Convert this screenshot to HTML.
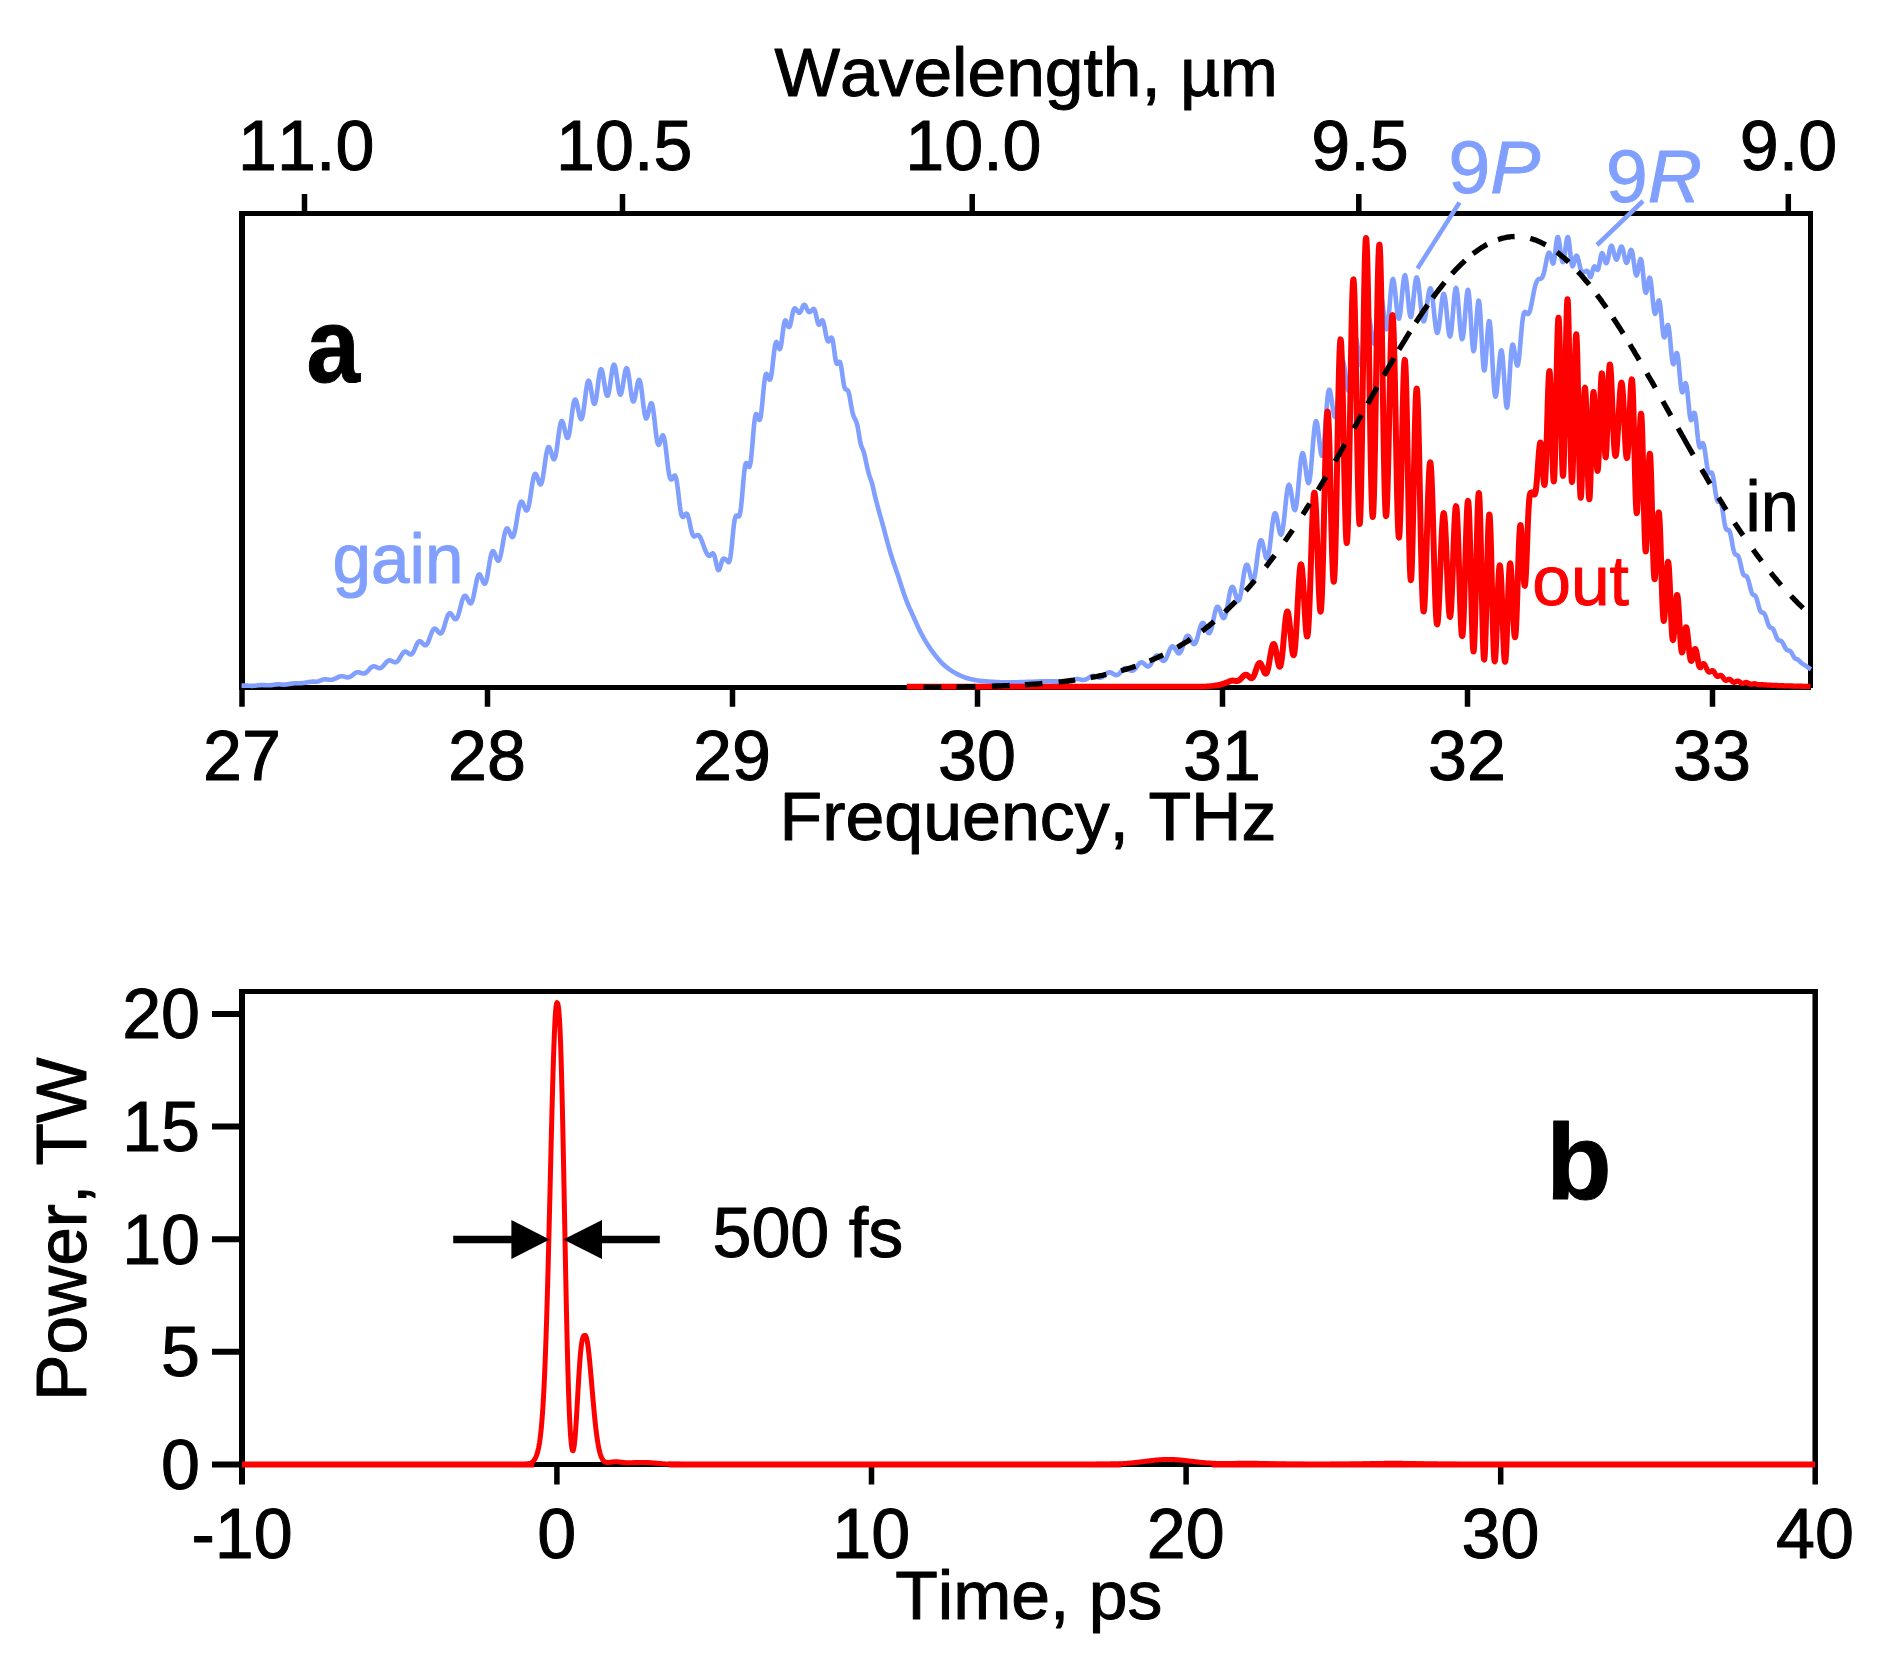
<!DOCTYPE html>
<html lang="en"><head><meta charset="utf-8"><title>CO2 amplifier spectrum and pulse</title>
<style>html,body{margin:0;padding:0;background:#fff;}svg{display:block;}text{font-family:"Liberation Sans",sans-serif;fill:currentColor;stroke:currentColor;stroke-width:1px;stroke-linejoin:round;font-kerning:none;color:#000;}</style></head><body>
<svg width="1896" height="1675" viewBox="0 0 1896 1675">
<rect width="1896" height="1675" fill="#fff"/>
<g id="top">
<g stroke="#000" fill="none" stroke-linecap="butt">
<path d="M239,213.5 H1813 M239,687.5 H1811" stroke-width="5"/>
<path d="M242,211 V690" stroke-width="6"/>
<path d="M1810.5,211 V688" stroke-width="5"/>
<path d="M242.0,687.5 V706.8 M487.5,687.5 V706.8 M732.5,687.5 V706.8 M977.5,687.5 V706.8 M1222.5,687.5 V706.8 M1467.5,687.5 V706.8 M1712.5,687.5 V706.8 M304.5,213.5 V193.9 M622.5,213.5 V193.9 M972.2,213.5 V193.9 M1358.8,213.5 V193.9 M1788.3,213.5 V193.9" stroke-width="5.5"/>
</g>
<text transform="translate(242.0,779.5)" font-size="70" text-anchor="middle">27</text>
<text transform="translate(487.0,779.5)" font-size="70" text-anchor="middle">28</text>
<text transform="translate(732.0,779.5)" font-size="70" text-anchor="middle">29</text>
<text transform="translate(977.0,779.5)" font-size="70" text-anchor="middle">30</text>
<text transform="translate(1222.0,779.5)" font-size="70" text-anchor="middle">31</text>
<text transform="translate(1467.0,779.5)" font-size="70" text-anchor="middle">32</text>
<text transform="translate(1712.0,779.5)" font-size="70" text-anchor="middle">33</text>
<text transform="translate(306.2,169.5)" font-size="70" text-anchor="middle">11.0</text>
<text transform="translate(624.2,169.5)" font-size="70" text-anchor="middle">10.5</text>
<text transform="translate(973.4,169.5)" font-size="70" text-anchor="middle">10.0</text>
<text transform="translate(1360.0,169.5)" font-size="70" text-anchor="middle">9.5</text>
<text transform="translate(1788.5,169.5)" font-size="70" text-anchor="middle">9.0</text>
<text transform="translate(1026.2,95.7) scale(1.022,1)" font-size="68" text-anchor="middle">Wavelength, µm</text>
<text transform="translate(1028.0,839.6) scale(1.020,1)" font-size="68.5" text-anchor="middle">Frequency, THz</text>
<path d="M241.5,685.7 L242.0,685.7 L242.5,685.6 L243.0,685.6 L243.5,685.6 L244.0,685.6 L244.5,685.6 L245.0,685.6 L245.5,685.6 L246.0,685.6 L246.5,685.6 L247.0,685.6 L247.5,685.6 L248.0,685.7 L248.5,685.7 L249.0,685.7 L249.5,685.8 L250.0,685.8 L250.5,685.8 L251.0,685.8 L251.5,685.9 L252.0,685.9 L252.5,685.9 L253.0,685.8 L253.5,685.8 L254.0,685.8 L254.5,685.8 L255.0,685.7 L255.5,685.7 L256.0,685.6 L256.5,685.5 L257.0,685.5 L257.5,685.4 L258.0,685.3 L258.5,685.3 L259.0,685.2 L259.5,685.2 L260.0,685.1 L260.5,685.1 L261.0,685.1 L261.5,685.1 L262.0,685.0 L262.5,685.0 L263.0,685.1 L263.5,685.1 L264.0,685.1 L264.5,685.1 L265.0,685.1 L265.5,685.2 L266.0,685.2 L266.5,685.2 L267.0,685.3 L267.5,685.3 L268.0,685.3 L268.5,685.3 L269.0,685.3 L269.5,685.3 L270.0,685.2 L270.5,685.2 L271.0,685.2 L271.5,685.1 L272.0,685.1 L272.5,685.0 L273.0,684.9 L273.5,684.8 L274.0,684.8 L274.5,684.7 L275.0,684.6 L275.5,684.5 L276.0,684.5 L276.5,684.4 L277.0,684.4 L277.5,684.3 L278.0,684.3 L278.5,684.3 L279.0,684.3 L279.5,684.3 L280.0,684.3 L280.5,684.4 L281.0,684.5 L281.5,684.5 L282.0,684.5 L282.5,684.6 L283.0,684.6 L283.5,684.6 L284.0,684.6 L284.5,684.6 L285.0,684.6 L285.5,684.5 L286.0,684.5 L286.5,684.4 L287.0,684.4 L287.5,684.3 L288.0,684.3 L288.5,684.2 L289.0,684.1 L289.5,684.0 L290.0,683.9 L290.5,683.9 L291.0,683.8 L291.5,683.7 L292.0,683.6 L292.5,683.5 L293.0,683.5 L293.5,683.4 L294.0,683.3 L294.5,683.3 L295.0,683.3 L295.5,683.2 L296.0,683.2 L296.5,683.2 L297.0,683.2 L297.5,683.2 L298.0,683.2 L298.5,683.2 L299.0,683.2 L299.5,683.2 L300.0,683.2 L300.5,683.2 L301.0,683.2 L301.5,683.2 L302.0,683.1 L302.5,683.1 L303.0,683.0 L303.5,683.0 L304.0,682.9 L304.5,682.8 L305.0,682.8 L305.5,682.7 L306.0,682.6 L306.5,682.5 L307.0,682.4 L307.5,682.3 L308.0,682.2 L308.5,682.1 L309.0,682.0 L309.5,681.9 L310.0,681.9 L310.5,681.8 L311.0,681.8 L311.5,681.7 L312.0,681.7 L312.5,681.6 L313.0,681.6 L313.5,681.6 L314.0,681.6 L314.5,681.6 L315.0,681.9 L315.5,681.9 L316.0,681.8 L316.5,681.7 L317.0,681.7 L317.5,681.6 L318.0,681.4 L318.5,681.3 L319.0,681.1 L319.5,680.9 L320.0,680.7 L320.5,680.5 L321.0,680.3 L321.5,680.1 L322.0,679.9 L322.5,679.7 L323.0,679.6 L323.5,679.5 L324.0,679.4 L324.5,679.3 L325.0,679.3 L325.5,679.3 L326.0,679.3 L326.5,679.4 L327.0,679.4 L327.5,679.5 L328.0,679.6 L328.5,679.7 L329.0,679.7 L329.5,679.8 L330.0,679.8 L330.5,679.8 L331.0,679.8 L331.5,679.8 L332.0,679.7 L332.5,679.6 L333.0,679.5 L333.5,679.3 L334.0,679.1 L334.5,678.9 L335.0,678.7 L335.5,678.5 L336.0,678.2 L336.5,678.0 L337.0,677.7 L337.5,677.5 L338.0,677.2 L338.5,677.0 L339.0,676.8 L339.5,676.7 L340.0,676.5 L340.5,676.4 L341.0,676.3 L341.5,676.3 L342.0,676.3 L342.5,676.3 L343.0,676.4 L343.5,676.5 L344.0,676.6 L344.5,676.7 L345.0,676.9 L345.5,677.0 L346.0,677.1 L346.5,677.3 L347.0,677.3 L347.5,677.4 L348.0,677.4 L348.5,677.3 L349.0,677.2 L349.5,677.1 L350.0,676.9 L350.5,676.6 L351.0,676.3 L351.5,676.0 L352.0,675.6 L352.5,675.2 L353.0,674.8 L353.5,674.4 L354.0,673.9 L354.5,673.6 L355.0,673.2 L355.5,672.9 L356.0,672.7 L356.5,672.5 L357.0,672.3 L357.5,672.2 L358.0,672.2 L358.5,672.2 L359.0,672.3 L359.5,672.4 L360.0,672.6 L360.5,672.8 L361.0,672.9 L361.5,673.1 L362.0,673.3 L362.5,673.4 L363.0,673.5 L363.5,673.5 L364.0,673.5 L364.5,673.4 L365.0,673.2 L365.5,673.0 L366.0,672.7 L366.5,672.3 L367.0,671.9 L367.5,671.4 L368.0,670.8 L368.5,670.3 L369.0,669.7 L369.5,669.1 L370.0,668.5 L370.5,668.0 L371.0,667.6 L371.5,667.1 L372.0,666.8 L372.5,666.6 L373.0,666.4 L373.5,666.3 L374.0,666.3 L374.5,666.4 L375.0,666.5 L375.5,666.7 L376.0,666.9 L376.5,667.2 L377.0,667.5 L377.5,667.7 L378.0,667.9 L378.5,668.1 L379.0,668.2 L379.5,668.2 L380.0,668.2 L380.5,668.1 L381.0,667.9 L381.5,667.6 L382.0,667.2 L382.5,666.7 L383.0,666.2 L383.5,665.6 L384.0,665.0 L384.5,664.4 L385.0,663.8 L385.5,663.2 L386.0,662.6 L386.5,662.0 L387.0,661.6 L387.5,661.2 L388.0,660.8 L388.5,660.6 L389.0,660.5 L389.5,660.4 L390.0,660.4 L390.5,660.5 L391.0,660.7 L391.5,660.9 L392.0,661.2 L392.5,661.4 L393.0,661.7 L393.5,661.9 L394.0,662.1 L394.5,662.3 L395.0,662.3 L395.5,662.3 L396.0,662.2 L396.5,661.9 L397.0,661.6 L397.5,661.2 L398.0,660.6 L398.5,660.0 L399.0,659.2 L399.5,658.5 L400.0,657.6 L400.5,656.8 L401.0,655.9 L401.5,655.1 L402.0,654.3 L402.5,653.6 L403.0,653.0 L403.5,652.4 L404.0,652.0 L404.5,651.8 L405.0,651.6 L405.5,651.6 L406.0,651.7 L406.5,651.9 L407.0,652.2 L407.5,652.6 L408.0,653.0 L408.5,653.4 L409.0,653.8 L409.5,654.1 L410.0,654.4 L410.5,654.5 L411.0,654.5 L411.5,654.3 L412.0,653.9 L412.5,653.3 L413.0,652.6 L413.5,651.7 L414.0,650.7 L414.5,649.6 L415.0,648.4 L415.5,647.2 L416.0,646.1 L416.5,644.9 L417.0,643.9 L417.5,643.0 L418.0,642.3 L418.5,641.7 L419.0,641.4 L419.5,641.2 L420.0,641.2 L420.5,641.4 L421.0,641.8 L421.5,642.2 L422.0,642.7 L422.5,643.3 L423.0,643.9 L423.5,644.4 L424.0,644.8 L424.5,645.2 L425.0,645.3 L425.5,645.3 L426.0,645.1 L426.5,644.7 L427.0,644.1 L427.5,643.3 L428.0,642.3 L428.5,641.2 L429.0,639.9 L429.5,638.5 L430.0,637.1 L430.5,635.7 L431.0,634.3 L431.5,633.0 L432.0,631.8 L432.5,630.8 L433.0,629.9 L433.5,629.3 L434.0,628.8 L434.5,628.6 L435.0,628.6 L435.5,628.8 L436.0,629.2 L436.5,629.7 L437.0,630.3 L437.5,630.9 L438.0,631.6 L438.5,632.2 L439.0,632.7 L439.5,633.2 L440.0,633.4 L440.5,633.4 L441.0,633.3 L441.5,632.8 L442.0,632.1 L442.5,631.2 L443.0,630.1 L443.5,628.7 L444.0,627.2 L444.5,625.6 L445.0,623.9 L445.5,622.2 L446.0,620.5 L446.5,618.9 L447.0,617.4 L447.5,616.1 L448.0,615.0 L448.5,614.2 L449.0,613.6 L449.5,613.3 L450.0,613.2 L450.5,613.4 L451.0,613.8 L451.5,614.4 L452.0,615.1 L452.5,615.9 L453.0,616.7 L453.5,617.5 L454.0,618.2 L454.5,618.7 L455.0,619.1 L455.5,619.2 L456.0,619.1 L456.5,618.7 L457.0,618.0 L457.5,617.1 L458.0,615.9 L458.5,614.4 L459.0,612.7 L459.5,610.9 L460.0,609.0 L460.5,607.0 L461.0,605.0 L461.5,603.0 L462.0,601.2 L462.5,599.6 L463.0,598.2 L463.5,597.1 L464.0,596.3 L464.5,595.8 L465.0,595.7 L465.5,595.9 L466.0,596.3 L466.5,597.0 L467.0,597.9 L467.5,598.9 L468.0,600.0 L468.5,601.0 L469.0,601.9 L469.5,602.7 L470.0,603.2 L470.5,603.4 L471.0,603.2 L471.5,602.6 L472.0,601.7 L472.5,600.3 L473.0,598.5 L473.5,596.5 L474.0,594.1 L474.5,591.6 L475.0,589.0 L475.5,586.3 L476.0,583.7 L476.5,581.3 L477.0,579.2 L477.5,577.4 L478.0,576.0 L478.5,575.0 L479.0,574.5 L479.5,574.4 L480.0,574.8 L480.5,575.5 L481.0,576.5 L481.5,577.7 L482.0,579.0 L482.5,580.4 L483.0,581.6 L483.5,582.6 L484.0,583.4 L484.5,583.7 L485.0,583.6 L485.5,582.9 L486.0,581.7 L486.5,580.0 L487.0,577.8 L487.5,575.2 L488.0,572.3 L488.5,569.2 L489.0,566.0 L489.5,562.9 L490.0,560.0 L490.5,557.4 L491.0,555.1 L491.5,553.3 L492.0,552.1 L492.5,551.3 L493.0,551.1 L493.5,551.3 L494.0,552.0 L494.5,553.0 L495.0,554.2 L495.5,555.6 L496.0,557.0 L496.5,558.3 L497.0,559.4 L497.5,560.2 L498.0,560.6 L498.5,560.6 L499.0,560.2 L499.5,559.2 L500.0,557.8 L500.5,556.0 L501.0,553.8 L501.5,551.2 L502.0,548.4 L502.5,545.5 L503.0,542.6 L503.5,539.7 L504.0,537.0 L504.5,534.6 L505.0,532.5 L505.5,530.8 L506.0,529.5 L506.5,528.7 L507.0,528.4 L507.5,528.5 L508.0,529.0 L508.5,529.9 L509.0,530.9 L509.5,532.2 L510.0,533.4 L510.5,534.6 L511.0,535.7 L511.5,536.5 L512.0,537.0 L512.5,537.0 L513.0,536.7 L513.5,535.8 L514.0,534.5 L514.5,532.7 L515.0,530.6 L515.5,528.0 L516.0,525.2 L516.5,522.2 L517.0,519.0 L517.5,515.9 L518.0,512.9 L518.5,510.1 L519.0,507.6 L519.5,505.5 L520.0,503.8 L520.5,502.6 L521.0,501.8 L521.5,501.6 L522.0,501.8 L522.5,502.4 L523.0,503.4 L523.5,504.5 L524.0,505.8 L524.5,507.2 L525.0,508.4 L525.5,509.4 L526.0,510.2 L526.5,510.5 L527.0,510.4 L527.5,509.8 L528.0,508.6 L528.5,506.9 L529.0,504.7 L529.5,502.0 L530.0,499.0 L530.5,495.8 L531.0,492.4 L531.5,489.0 L532.0,485.7 L532.5,482.6 L533.0,479.9 L533.5,477.6 L534.0,475.8 L534.5,474.6 L535.0,473.9 L535.5,473.8 L536.0,474.3 L536.5,475.1 L537.0,476.4 L537.5,477.9 L538.0,479.4 L538.5,481.0 L539.0,482.4 L539.5,483.5 L540.0,484.2 L540.5,484.5 L541.0,484.1 L541.5,483.1 L542.0,481.5 L542.5,479.4 L543.0,476.7 L543.5,473.5 L544.0,470.1 L544.5,466.4 L545.0,462.8 L545.5,459.2 L546.0,455.9 L546.5,453.0 L547.0,450.6 L547.5,448.8 L548.0,447.5 L548.5,447.0 L549.0,447.0 L549.5,447.6 L550.0,448.7 L550.5,450.1 L551.0,451.8 L551.5,453.7 L552.0,455.4 L552.5,457.0 L553.0,458.2 L553.5,459.0 L554.0,459.3 L554.5,458.9 L555.0,457.8 L555.5,456.0 L556.0,453.6 L556.5,450.7 L557.0,447.3 L557.5,443.5 L558.0,439.7 L558.5,435.8 L559.0,432.1 L559.5,428.7 L560.0,425.9 L560.5,423.6 L561.0,422.0 L561.5,421.2 L562.0,421.0 L562.5,421.6 L563.0,422.8 L563.5,424.5 L564.0,426.5 L564.5,428.8 L565.0,431.1 L565.5,433.3 L566.0,435.3 L566.5,436.8 L567.0,437.7 L567.5,438.0 L568.0,437.6 L568.5,436.4 L569.0,434.6 L569.5,432.1 L570.0,429.0 L570.5,425.4 L571.0,421.6 L571.5,417.7 L572.0,413.8 L572.5,410.1 L573.0,406.7 L573.5,403.9 L574.0,401.8 L574.5,400.3 L575.0,399.6 L575.5,399.6 L576.0,400.4 L576.5,401.8 L577.0,403.7 L577.5,406.0 L578.0,408.5 L578.5,411.1 L579.0,413.6 L579.5,415.7 L580.0,417.5 L580.5,418.7 L581.0,419.2 L581.5,419.0 L582.0,418.0 L582.5,416.3 L583.0,413.9 L583.5,410.8 L584.0,407.3 L584.5,403.3 L585.0,399.3 L585.5,395.2 L586.0,391.3 L586.5,387.9 L587.0,385.0 L587.5,382.7 L588.0,381.3 L588.5,380.7 L589.0,381.0 L589.5,382.1 L590.0,383.9 L590.5,386.3 L591.0,389.2 L591.5,392.2 L592.0,395.3 L592.5,398.2 L593.0,400.7 L593.5,402.6 L594.0,403.7 L594.5,403.9 L595.0,403.3 L595.5,401.8 L596.0,399.4 L596.5,396.3 L597.0,392.6 L597.5,388.6 L598.0,384.4 L598.5,380.4 L599.0,376.7 L599.5,373.6 L600.0,371.2 L600.5,369.7 L601.0,369.1 L601.5,369.4 L602.0,370.6 L602.5,372.5 L603.0,375.1 L603.5,378.1 L604.0,381.3 L604.5,384.6 L605.0,387.8 L605.5,390.6 L606.0,393.0 L606.5,394.7 L607.0,395.7 L607.5,395.8 L608.0,395.2 L608.5,393.8 L609.0,391.6 L609.5,388.9 L610.0,385.6 L610.5,381.9 L611.0,378.2 L611.5,374.6 L612.0,371.3 L612.5,368.5 L613.0,366.4 L613.5,365.0 L614.0,364.6 L614.5,365.1 L615.0,366.4 L615.5,368.6 L616.0,371.5 L616.5,374.8 L617.0,378.4 L617.5,382.1 L618.0,385.7 L618.5,388.9 L619.0,391.5 L619.5,393.4 L620.0,394.5 L620.5,394.7 L621.0,394.0 L621.5,392.5 L622.0,390.3 L622.5,387.6 L623.0,384.6 L623.5,381.3 L624.0,378.1 L624.5,375.0 L625.0,372.4 L625.5,370.3 L626.0,368.9 L626.5,368.2 L627.0,368.4 L627.5,369.5 L628.0,371.4 L628.5,374.0 L629.0,377.3 L629.5,380.9 L630.0,384.8 L630.5,388.7 L631.0,392.3 L631.5,395.6 L632.0,398.3 L632.5,400.2 L633.0,401.3 L633.5,401.5 L634.0,400.9 L634.5,399.4 L635.0,397.4 L635.5,394.9 L636.0,392.1 L636.5,389.2 L637.0,386.4 L637.5,383.9 L638.0,381.8 L638.5,380.4 L639.0,379.8 L639.5,380.1 L640.0,381.2 L640.5,383.2 L641.0,386.0 L641.5,389.5 L642.0,393.4 L642.5,397.7 L643.0,402.0 L643.5,406.2 L644.0,410.0 L644.5,413.2 L645.0,415.7 L645.5,417.5 L646.0,418.4 L646.5,418.4 L647.0,417.6 L647.5,416.2 L648.0,414.3 L648.5,412.1 L649.0,409.8 L649.5,407.5 L650.0,405.5 L650.5,404.1 L651.0,403.2 L651.5,403.2 L652.0,404.0 L652.5,405.7 L653.0,408.4 L653.5,411.7 L654.0,415.7 L654.5,420.1 L655.0,424.8 L655.5,429.3 L656.0,433.6 L656.5,437.4 L657.0,440.5 L657.5,442.8 L658.0,444.2 L658.5,444.8 L659.0,444.6 L659.5,443.7 L660.0,442.4 L660.5,440.8 L661.0,439.0 L661.5,437.5 L662.0,436.2 L662.5,435.4 L663.0,435.3 L663.5,436.0 L664.0,437.4 L664.5,439.6 L665.0,442.5 L665.5,446.0 L666.0,450.0 L666.5,454.3 L667.0,458.7 L667.5,463.0 L668.0,467.0 L668.5,470.6 L669.0,473.7 L669.5,476.1 L670.0,477.8 L670.5,478.9 L671.0,479.5 L671.5,479.5 L672.0,479.1 L672.5,478.4 L673.0,477.5 L673.5,476.6 L674.0,475.9 L674.5,475.5 L675.0,475.6 L675.5,476.4 L676.0,477.8 L676.5,480.0 L677.0,482.9 L677.5,486.4 L678.0,490.4 L678.5,494.6 L679.0,499.0 L679.5,503.2 L680.0,507.1 L680.5,510.4 L681.0,513.1 L681.5,515.0 L682.0,516.3 L682.5,516.9 L683.0,517.0 L683.5,516.7 L684.0,516.1 L684.5,515.4 L685.0,514.6 L685.5,514.0 L686.0,513.7 L686.5,513.6 L687.0,513.9 L687.5,514.7 L688.0,516.0 L688.5,517.6 L689.0,519.6 L689.5,521.9 L690.0,524.3 L690.5,526.7 L691.0,529.0 L691.5,531.0 L692.0,532.8 L692.5,534.3 L693.0,535.3 L693.5,536.0 L694.0,536.4 L694.5,536.4 L695.0,536.3 L695.5,536.0 L696.0,535.6 L696.5,535.3 L697.0,535.1 L697.5,535.0 L698.0,535.0 L698.5,535.3 L699.0,535.6 L699.5,536.2 L700.0,536.9 L700.5,537.9 L701.0,538.9 L701.5,540.1 L702.0,541.4 L702.5,542.7 L703.0,544.1 L703.5,545.5 L704.0,546.9 L704.5,548.3 L705.0,549.5 L705.5,550.8 L706.0,551.9 L706.5,552.9 L707.0,553.8 L707.5,554.6 L708.0,555.2 L708.5,555.7 L709.0,555.9 L709.5,555.8 L710.0,555.6 L710.5,555.2 L711.0,554.7 L711.5,554.2 L712.0,553.7 L712.5,553.4 L713.0,553.4 L713.5,553.9 L714.0,554.7 L714.5,556.1 L715.0,557.9 L715.5,560.0 L716.0,562.3 L716.5,564.7 L717.0,566.8 L717.5,568.5 L718.0,569.7 L718.5,570.1 L719.0,569.8 L719.5,568.9 L720.0,567.6 L720.5,565.9 L721.0,564.2 L721.5,562.5 L722.0,561.0 L722.5,559.8 L723.0,559.0 L723.5,558.6 L724.0,558.6 L724.5,558.8 L725.0,559.0 L725.5,559.3 L726.0,559.7 L726.5,560.2 L727.0,560.8 L727.5,561.4 L728.0,561.9 L728.5,562.2 L729.0,562.0 L729.5,561.0 L730.0,559.1 L730.5,556.3 L731.0,552.7 L731.5,548.3 L732.0,543.4 L732.5,538.2 L733.0,533.1 L733.5,528.3 L734.0,524.1 L734.5,520.8 L735.0,518.4 L735.5,516.8 L736.0,515.9 L736.5,515.5 L737.0,515.6 L737.5,515.9 L738.0,516.2 L738.5,516.5 L739.0,516.3 L739.5,515.5 L740.0,513.7 L740.5,511.0 L741.0,507.2 L741.5,502.6 L742.0,497.1 L742.5,491.2 L743.0,485.2 L743.5,479.4 L744.0,474.2 L744.5,469.8 L745.0,466.5 L745.5,464.3 L746.0,463.2 L746.5,463.0 L747.0,463.5 L747.5,464.5 L748.0,465.6 L748.5,466.6 L749.0,467.0 L749.5,466.7 L750.0,465.3 L750.5,462.8 L751.0,459.2 L751.5,454.6 L752.0,449.1 L752.5,443.2 L753.0,437.0 L753.5,431.1 L754.0,425.7 L754.5,421.1 L755.0,417.6 L755.5,415.3 L756.0,414.1 L756.5,414.0 L757.0,414.7 L757.5,416.0 L758.0,417.5 L758.5,418.8 L759.0,419.8 L759.5,420.0 L760.0,419.3 L760.5,417.5 L761.0,414.6 L761.5,410.8 L762.0,406.1 L762.5,400.9 L763.0,395.5 L763.5,390.1 L764.0,385.2 L764.5,381.0 L765.0,377.7 L765.5,375.4 L766.0,374.1 L766.5,373.8 L767.0,374.3 L767.5,375.3 L768.0,376.7 L768.5,378.0 L769.0,379.1 L769.5,379.7 L770.0,379.6 L770.5,378.6 L771.0,376.7 L771.5,374.0 L772.0,370.4 L772.5,366.3 L773.0,361.8 L773.5,357.3 L774.0,352.9 L774.5,349.0 L775.0,345.9 L775.5,343.6 L776.0,342.4 L776.5,342.0 L777.0,342.6 L777.5,343.8 L778.0,345.4 L778.5,347.0 L779.0,348.4 L779.5,349.1 L780.0,348.9 L780.5,347.8 L781.0,345.6 L781.5,342.5 L782.0,338.7 L782.5,334.6 L783.0,330.5 L783.5,326.9 L784.0,323.9 L784.5,321.8 L785.0,320.6 L785.5,320.4 L786.0,320.9 L786.5,322.0 L787.0,323.3 L787.5,324.8 L788.0,326.0 L788.5,326.8 L789.0,327.1 L789.5,326.8 L790.0,325.7 L790.5,323.9 L791.0,321.7 L791.5,319.1 L792.0,316.4 L792.5,313.9 L793.0,311.7 L793.5,310.1 L794.0,309.0 L794.5,308.4 L795.0,308.3 L795.5,308.6 L796.0,309.1 L796.5,309.7 L797.0,310.4 L797.5,311.1 L798.0,311.8 L798.5,312.4 L799.0,312.7 L799.5,312.7 L800.0,312.4 L800.5,311.7 L801.0,310.8 L801.5,309.6 L802.0,308.3 L802.5,307.1 L803.0,306.0 L803.5,305.2 L804.0,304.8 L804.5,304.7 L805.0,305.1 L805.5,305.8 L806.0,306.8 L806.5,308.0 L807.0,309.1 L807.5,310.2 L808.0,311.1 L808.5,311.7 L809.0,312.0 L809.5,312.0 L810.0,311.9 L810.5,311.6 L811.0,311.2 L811.5,310.7 L812.0,310.2 L812.5,309.6 L813.0,309.2 L813.5,309.0 L814.0,309.1 L814.5,309.7 L815.0,310.9 L815.5,312.6 L816.0,314.8 L816.5,317.2 L817.0,319.6 L817.5,321.8 L818.0,323.5 L818.5,324.4 L819.0,324.8 L819.5,324.5 L820.0,323.7 L820.5,322.7 L821.0,321.7 L821.5,320.8 L822.0,320.4 L822.5,320.4 L823.0,321.2 L823.5,322.5 L824.0,324.5 L824.5,326.9 L825.0,329.5 L825.5,332.3 L826.0,335.0 L826.5,337.3 L827.0,339.2 L827.5,340.6 L828.0,341.3 L828.5,341.4 L829.0,341.0 L829.5,340.2 L830.0,339.3 L830.5,338.3 L831.0,337.7 L831.5,337.6 L832.0,338.2 L832.5,339.6 L833.0,341.9 L833.5,345.0 L834.0,348.7 L834.5,352.5 L835.0,356.2 L835.5,359.3 L836.0,361.7 L836.5,363.2 L837.0,363.8 L837.5,363.6 L838.0,363.0 L838.5,362.3 L839.0,361.7 L839.5,361.7 L840.0,362.3 L840.5,363.6 L841.0,365.8 L841.5,368.7 L842.0,372.1 L842.5,375.7 L843.0,379.3 L843.5,382.5 L844.0,385.2 L844.5,387.2 L845.0,388.6 L845.5,389.3 L846.0,389.6 L846.5,389.7 L847.0,389.8 L847.5,390.1 L848.0,390.8 L848.5,392.0 L849.0,393.8 L849.5,396.0 L850.0,398.7 L850.5,401.6 L851.0,404.5 L851.5,407.4 L852.0,410.0 L852.5,412.3 L853.0,414.2 L853.5,415.8 L854.0,417.0 L854.5,418.1 L855.0,419.0 L855.5,420.0 L856.0,421.0 L856.5,422.3 L857.0,424.0 L857.5,426.1 L858.0,428.7 L858.5,431.6 L859.0,434.7 L859.5,437.8 L860.0,440.7 L860.5,443.1 L861.0,445.0 L861.5,446.5 L862.0,447.8 L862.5,448.9 L863.0,450.1 L863.5,451.4 L864.0,453.0 L864.5,454.9 L865.0,457.0 L865.5,459.2 L866.0,461.6 L866.5,463.9 L867.0,466.3 L867.5,468.5 L868.0,470.7 L868.5,472.6 L869.0,474.4 L869.5,476.0 L870.0,477.4 L870.5,478.8 L871.0,480.2 L871.5,481.7 L872.0,483.4 L872.5,485.2 L873.0,487.2 L873.5,489.5 L874.0,491.8 L874.5,494.1 L875.0,496.1 L875.5,498.1 L876.0,500.1 L876.5,502.0 L877.0,503.9 L877.5,505.8 L878.0,507.7 L878.5,509.5 L879.0,511.3 L879.5,513.1 L880.0,514.9 L880.5,516.6 L881.0,518.4 L881.5,520.2 L882.0,522.0 L882.5,523.8 L883.0,525.6 L883.5,527.4 L884.0,529.3 L884.5,531.2 L885.0,533.1 L885.5,535.0 L886.0,536.8 L886.5,538.7 L887.0,540.6 L887.5,542.5 L888.0,544.3 L888.5,546.1 L889.0,547.9 L889.5,549.7 L890.0,551.4 L890.5,553.1 L891.0,554.7 L891.5,556.3 L892.0,557.9 L892.5,559.4 L893.0,560.9 L893.5,562.4 L894.0,563.9 L894.5,565.4 L895.0,566.8 L895.5,568.3 L896.0,569.7 L896.5,571.2 L897.0,572.6 L897.5,574.1 L898.0,575.6 L898.5,577.1 L899.0,578.6 L899.5,580.2 L900.0,581.7 L900.5,583.3 L901.0,584.8 L901.5,586.4 L902.0,588.0 L902.5,589.5 L903.0,591.0 L903.5,592.5 L904.0,594.0 L904.5,595.4 L905.0,596.8 L905.5,598.2 L906.0,599.5 L906.5,600.8 L907.0,602.1 L907.5,603.3 L908.0,604.5 L908.5,605.7 L909.0,606.8 L909.5,608.0 L910.0,609.1 L910.5,610.3 L911.0,611.4 L911.5,612.5 L912.0,613.6 L912.5,614.7 L913.0,615.8 L913.5,616.9 L914.0,618.0 L914.5,619.2 L915.0,620.3 L915.5,621.4 L916.0,622.5 L916.5,623.6 L917.0,624.7 L917.5,625.8 L918.0,626.9 L918.5,628.0 L919.0,629.0 L919.5,630.1 L920.0,631.1 L920.5,632.0 L921.0,633.0 L921.5,633.9 L922.0,634.9 L922.5,635.8 L923.0,636.7 L923.5,637.6 L924.0,638.5 L924.5,639.4 L925.0,640.2 L925.5,641.1 L926.0,641.9 L926.5,642.7 L927.0,643.6 L927.5,644.4 L928.0,645.2 L928.5,645.9 L929.0,646.7 L929.5,647.4 L930.0,648.2 L930.5,648.9 L931.0,649.6 L931.5,650.3 L932.0,651.0 L932.5,651.7 L933.0,652.3 L933.5,653.0 L934.0,653.7 L934.5,654.4 L935.0,655.0 L935.5,655.6 L936.0,656.3 L936.5,656.9 L937.0,657.5 L937.5,658.1 L938.0,658.7 L938.5,659.3 L939.0,659.9 L939.5,660.5 L940.0,661.0 L940.5,661.6 L941.0,662.1 L941.5,662.6 L942.0,663.1 L942.5,663.6 L943.0,664.1 L943.5,664.5 L944.0,665.0 L944.5,665.4 L945.0,665.8 L945.5,666.3 L946.0,666.7 L946.5,667.1 L947.0,667.5 L947.5,667.9 L948.0,668.3 L948.5,668.6 L949.0,669.0 L949.5,669.4 L950.0,669.7 L950.5,670.1 L951.0,670.4 L951.5,670.8 L952.0,671.1 L952.5,671.4 L953.0,671.7 L953.5,672.0 L954.0,672.3 L954.5,672.6 L955.0,672.9 L955.5,673.2 L956.0,673.4 L956.5,673.7 L957.0,674.0 L957.5,674.2 L958.0,674.5 L958.5,674.7 L959.0,674.9 L959.5,675.2 L960.0,675.4 L960.5,675.6 L961.0,675.9 L961.5,676.1 L962.0,676.3 L962.5,676.5 L963.0,676.7 L963.5,676.9 L964.0,677.1 L964.5,677.3 L965.0,677.5 L965.5,677.7 L966.0,677.8 L966.5,678.0 L967.0,678.1 L967.5,678.3 L968.0,678.4 L968.5,678.6 L969.0,678.7 L969.5,678.8 L970.0,678.9 L970.5,679.1 L971.0,679.2 L971.5,679.3 L972.0,679.4 L972.5,679.5 L973.0,679.6 L973.5,679.7 L974.0,679.8 L974.5,679.9 L975.0,680.0 L975.5,680.1 L976.0,680.2 L976.5,680.3 L977.0,680.4 L977.5,680.5 L978.0,680.5 L978.5,680.6 L979.0,680.7 L979.5,680.8 L980.0,680.8 L980.5,680.9 L981.0,680.9 L981.5,681.0 L982.0,681.0 L982.5,681.1 L983.0,681.1 L983.5,681.1 L984.0,681.2 L984.5,681.2 L985.0,681.3 L985.5,681.3 L986.0,681.3 L986.5,681.4 L987.0,681.4 L987.5,681.5 L988.0,681.5 L988.5,681.5 L989.0,681.6 L989.5,681.6 L990.0,681.6 L990.5,681.7 L991.0,681.7 L991.5,681.7 L992.0,681.8 L992.5,681.8 L993.0,681.8 L993.5,681.9 L994.0,681.9 L994.5,681.9 L995.0,682.0 L995.5,682.0 L996.0,682.0 L996.5,682.0 L997.0,682.1 L997.5,682.1 L998.0,682.1 L998.5,682.1 L999.0,682.1 L999.5,682.2 L1000.0,682.2 L1000.5,682.2 L1001.0,682.2 L1001.5,682.2 L1002.0,682.2 L1002.5,682.2 L1003.0,682.3 L1003.5,682.3 L1004.0,682.3 L1004.5,682.3 L1005.0,682.3 L1005.5,682.3 L1006.0,682.3 L1006.5,682.3 L1007.0,682.3 L1007.5,682.3 L1008.0,682.3 L1008.5,682.3 L1009.0,682.3 L1009.5,682.3 L1010.0,682.3 L1010.5,682.3 L1011.0,682.3 L1011.5,682.3 L1012.0,682.3 L1012.5,682.3 L1013.0,682.3 L1013.5,682.3 L1014.0,682.2 L1014.5,682.2 L1015.0,682.2 L1015.5,682.2 L1016.0,682.2 L1016.5,682.2 L1017.0,682.2 L1017.5,682.2 L1018.0,682.2 L1018.5,682.2 L1019.0,682.1 L1019.5,682.1 L1020.0,682.1 L1020.5,682.1 L1021.0,682.1 L1021.5,682.1 L1022.0,682.1 L1022.5,682.1 L1023.0,682.0 L1023.5,682.0 L1024.0,682.0 L1024.5,682.0 L1025.0,682.0 L1025.5,682.0 L1026.0,681.9 L1026.5,681.9 L1027.0,681.9 L1027.5,681.9 L1028.0,681.9 L1028.5,681.9 L1029.0,681.8 L1029.5,681.8 L1030.0,681.8 L1030.5,681.8 L1031.0,681.8 L1031.5,681.7 L1032.0,681.7 L1032.5,681.7 L1033.0,681.7 L1033.5,681.7 L1034.0,681.7 L1034.5,681.6 L1035.0,681.6 L1035.5,681.6 L1036.0,681.6 L1036.5,681.6 L1037.0,681.5 L1037.5,681.5 L1038.0,681.5 L1038.5,681.5 L1039.0,681.4 L1039.5,681.4 L1040.0,681.4 L1040.5,681.4 L1041.0,681.4 L1041.5,681.4 L1042.0,681.4 L1042.5,681.4 L1043.0,681.4 L1043.5,681.4 L1044.0,681.3 L1044.5,681.3 L1045.0,681.3 L1045.5,681.3 L1046.0,681.3 L1046.5,681.3 L1047.0,681.3 L1047.5,681.3 L1048.0,681.3 L1048.5,681.3 L1049.0,681.3 L1049.5,681.3 L1050.0,681.3 L1050.5,681.3 L1051.0,681.3 L1051.5,681.3 L1052.0,681.4 L1052.5,681.4 L1053.0,681.4 L1053.5,681.4 L1054.0,681.4 L1054.5,681.4 L1055.0,681.4 L1055.5,681.4 L1056.0,681.4 L1056.5,681.4 L1057.0,681.5 L1057.5,681.5 L1058.0,681.5 L1058.5,681.5 L1059.0,681.5 L1059.5,681.5 L1060.0,681.6 L1060.5,681.6 L1061.0,681.6 L1061.5,681.6 L1062.0,681.7 L1062.5,681.7 L1063.0,681.7 L1063.5,681.8 L1064.0,681.8 L1064.5,681.8 L1065.0,681.9 L1065.5,681.9 L1066.0,681.9 L1066.5,681.9 L1067.0,681.9 L1067.5,681.9 L1068.0,681.8 L1068.5,681.7 L1069.0,681.6 L1069.5,681.4 L1070.0,681.3 L1070.5,681.1 L1071.0,680.9 L1071.5,680.7 L1072.0,680.4 L1072.5,680.2 L1073.0,680.0 L1073.5,679.8 L1074.0,679.6 L1074.5,679.4 L1075.0,679.3 L1075.5,679.2 L1076.0,679.1 L1076.5,679.0 L1077.0,679.0 L1077.5,679.0 L1078.0,679.1 L1078.5,679.1 L1079.0,679.2 L1079.5,679.3 L1080.0,679.4 L1080.5,679.5 L1081.0,679.7 L1081.5,679.8 L1082.0,679.9 L1082.5,679.9 L1083.0,680.0 L1083.5,680.0 L1084.0,679.9 L1084.5,679.9 L1085.0,679.7 L1085.5,679.6 L1086.0,679.4 L1086.5,679.2 L1087.0,678.9 L1087.5,678.6 L1088.0,678.3 L1088.5,678.0 L1089.0,677.7 L1089.5,677.3 L1090.0,677.0 L1090.5,676.8 L1091.0,676.5 L1091.5,676.3 L1092.0,676.1 L1092.5,676.0 L1093.0,675.9 L1093.5,675.9 L1094.0,675.9 L1094.5,676.0 L1095.0,676.1 L1095.5,676.3 L1096.0,676.5 L1096.5,676.7 L1097.0,676.9 L1097.5,677.1 L1098.0,677.3 L1098.5,677.4 L1099.0,677.6 L1099.5,677.7 L1100.0,677.7 L1100.5,677.7 L1101.0,677.6 L1101.5,677.4 L1102.0,677.2 L1102.5,677.0 L1103.0,676.6 L1103.5,676.3 L1104.0,675.9 L1104.5,675.4 L1105.0,675.0 L1105.5,674.5 L1106.0,674.1 L1106.5,673.6 L1107.0,673.3 L1107.5,672.9 L1108.0,672.7 L1108.5,672.5 L1109.0,672.3 L1109.5,672.3 L1110.0,672.3 L1110.5,672.4 L1111.0,672.6 L1111.5,672.8 L1112.0,673.0 L1112.5,673.4 L1113.0,673.7 L1113.5,674.0 L1114.0,674.3 L1114.5,674.6 L1115.0,674.8 L1115.5,675.0 L1116.0,675.1 L1116.5,675.1 L1117.0,675.0 L1117.5,674.9 L1118.0,674.6 L1118.5,674.3 L1119.0,673.8 L1119.5,673.3 L1120.0,672.8 L1120.5,672.2 L1121.0,671.6 L1121.5,671.0 L1122.0,670.4 L1122.5,669.8 L1123.0,669.3 L1123.5,668.9 L1124.0,668.6 L1124.5,668.3 L1125.0,668.2 L1125.5,668.1 L1126.0,668.2 L1126.5,668.3 L1127.0,668.5 L1127.5,668.7 L1128.0,669.0 L1128.5,669.4 L1129.0,669.7 L1129.5,670.0 L1130.0,670.3 L1130.5,670.5 L1131.0,670.7 L1131.5,670.8 L1132.0,670.8 L1132.5,670.7 L1133.0,670.6 L1133.5,670.3 L1134.0,669.9 L1134.5,669.5 L1135.0,669.0 L1135.5,668.4 L1136.0,667.7 L1136.5,667.1 L1137.0,666.4 L1137.5,665.7 L1138.0,665.0 L1138.5,664.3 L1139.0,663.8 L1139.5,663.3 L1140.0,662.9 L1140.5,662.6 L1141.0,662.4 L1141.5,662.3 L1142.0,662.4 L1142.5,662.6 L1143.0,662.8 L1143.5,663.2 L1144.0,663.6 L1144.5,664.1 L1145.0,664.6 L1145.5,665.0 L1146.0,665.5 L1146.5,665.9 L1147.0,666.2 L1147.5,666.4 L1148.0,666.5 L1148.5,666.4 L1149.0,666.2 L1149.5,665.8 L1150.0,665.3 L1150.5,664.7 L1151.0,663.9 L1151.5,663.1 L1152.0,662.2 L1152.5,661.2 L1153.0,660.2 L1153.5,659.3 L1154.0,658.4 L1154.5,657.6 L1155.0,656.8 L1155.5,656.3 L1156.0,655.8 L1156.5,655.5 L1157.0,655.4 L1157.5,655.5 L1158.0,655.7 L1158.5,656.0 L1159.0,656.5 L1159.5,657.1 L1160.0,657.7 L1160.5,658.3 L1161.0,659.0 L1161.5,659.6 L1162.0,660.1 L1162.5,660.5 L1163.0,660.8 L1163.5,660.9 L1164.0,660.8 L1164.5,660.5 L1165.0,660.1 L1165.5,659.4 L1166.0,658.5 L1166.5,657.5 L1167.0,656.4 L1167.5,655.2 L1168.0,653.9 L1168.5,652.6 L1169.0,651.3 L1169.5,650.1 L1170.0,649.0 L1170.5,648.1 L1171.0,647.3 L1171.5,646.8 L1172.0,646.4 L1172.5,646.3 L1173.0,646.4 L1173.5,646.7 L1174.0,647.2 L1174.5,647.9 L1175.0,648.6 L1175.5,649.4 L1176.0,650.3 L1176.5,651.1 L1177.0,651.9 L1177.5,652.5 L1178.0,653.0 L1178.5,653.3 L1179.0,653.4 L1179.5,653.2 L1180.0,652.8 L1180.5,652.1 L1181.0,651.2 L1181.5,650.1 L1182.0,648.8 L1182.5,647.3 L1183.0,645.8 L1183.5,644.2 L1184.0,642.6 L1184.5,641.1 L1185.0,639.6 L1185.5,638.4 L1186.0,637.3 L1186.5,636.5 L1187.0,636.0 L1187.5,635.7 L1188.0,635.7 L1188.5,636.0 L1189.0,636.5 L1189.5,637.2 L1190.0,638.0 L1190.5,639.0 L1191.0,640.0 L1191.5,641.1 L1192.0,642.0 L1192.5,642.9 L1193.0,643.5 L1193.5,644.0 L1194.0,644.1 L1194.5,644.0 L1195.0,643.6 L1195.5,642.9 L1196.0,641.9 L1196.5,640.6 L1197.0,639.0 L1197.5,637.3 L1198.0,635.5 L1198.5,633.5 L1199.0,631.6 L1199.5,629.7 L1200.0,628.0 L1200.5,626.4 L1201.0,625.1 L1201.5,624.1 L1202.0,623.4 L1202.5,623.0 L1203.0,622.9 L1203.5,623.2 L1204.0,623.8 L1204.5,624.6 L1205.0,625.7 L1205.5,626.9 L1206.0,628.1 L1206.5,629.4 L1207.0,630.6 L1207.5,631.7 L1208.0,632.5 L1208.5,633.0 L1209.0,633.2 L1209.5,633.0 L1210.0,632.4 L1210.5,631.5 L1211.0,630.1 L1211.5,628.4 L1212.0,626.4 L1212.5,624.2 L1213.0,621.8 L1213.5,619.3 L1214.0,616.9 L1214.5,614.6 L1215.0,612.4 L1215.5,610.5 L1216.0,609.0 L1216.5,607.8 L1217.0,607.0 L1217.5,606.7 L1218.0,606.8 L1218.5,607.2 L1219.0,608.0 L1219.5,609.1 L1220.0,610.5 L1220.5,611.9 L1221.0,613.4 L1221.5,614.8 L1222.0,616.1 L1222.5,617.1 L1223.0,617.8 L1223.5,618.1 L1224.0,618.1 L1224.5,617.5 L1225.0,616.5 L1225.5,615.1 L1226.0,613.2 L1226.5,611.0 L1227.0,608.5 L1227.5,605.7 L1228.0,602.8 L1228.5,599.9 L1229.0,597.1 L1229.5,594.5 L1230.0,592.1 L1230.5,590.1 L1231.0,588.5 L1231.5,587.4 L1232.0,586.9 L1232.5,586.8 L1233.0,587.2 L1233.5,588.0 L1234.0,589.2 L1234.5,590.8 L1235.0,592.5 L1235.5,594.3 L1236.0,596.0 L1236.5,597.6 L1237.0,599.0 L1237.5,600.0 L1238.0,600.6 L1238.5,600.7 L1239.0,600.2 L1239.5,599.1 L1240.0,597.5 L1240.5,595.4 L1241.0,592.9 L1241.5,589.9 L1242.0,586.7 L1242.5,583.3 L1243.0,579.9 L1243.5,576.6 L1244.0,573.5 L1244.5,570.8 L1245.0,568.4 L1245.5,566.6 L1246.0,565.4 L1246.5,564.7 L1247.0,564.7 L1247.5,565.2 L1248.0,566.3 L1248.5,567.8 L1249.0,569.6 L1249.5,571.7 L1250.0,573.8 L1250.5,575.9 L1251.0,577.8 L1251.5,579.4 L1252.0,580.5 L1252.5,581.1 L1253.0,581.1 L1253.5,580.4 L1254.0,579.0 L1254.5,577.0 L1255.0,574.4 L1255.5,571.3 L1256.0,567.7 L1256.5,563.9 L1257.0,560.0 L1257.5,556.1 L1258.0,552.3 L1258.5,548.8 L1259.0,545.8 L1259.5,543.4 L1260.0,541.6 L1260.5,540.5 L1261.0,540.1 L1261.5,540.4 L1262.0,541.3 L1262.5,542.8 L1263.0,544.8 L1263.5,547.0 L1264.0,549.5 L1264.5,551.9 L1265.0,554.1 L1265.5,556.1 L1266.0,557.6 L1266.5,558.5 L1267.0,558.7 L1267.5,558.2 L1268.0,556.9 L1268.5,554.9 L1269.0,552.2 L1269.5,548.9 L1270.0,545.0 L1270.5,540.8 L1271.0,536.4 L1271.5,531.9 L1272.0,527.6 L1272.5,523.6 L1273.0,520.1 L1273.5,517.2 L1274.0,515.0 L1274.5,513.7 L1275.0,513.1 L1275.5,513.3 L1276.0,514.3 L1276.5,515.9 L1277.0,518.1 L1277.5,520.7 L1278.0,523.6 L1278.5,526.4 L1279.0,529.1 L1279.5,531.4 L1280.0,533.2 L1280.5,534.4 L1281.0,534.7 L1281.5,534.3 L1282.0,532.9 L1282.5,530.7 L1283.0,527.7 L1283.5,524.0 L1284.0,519.7 L1284.5,514.9 L1285.0,510.0 L1285.5,505.0 L1286.0,500.3 L1286.5,495.9 L1287.0,492.0 L1287.5,488.9 L1288.0,486.6 L1288.5,485.3 L1289.0,484.8 L1289.5,485.3 L1290.0,486.7 L1290.5,488.8 L1291.0,491.5 L1291.5,494.6 L1292.0,497.9 L1292.5,501.2 L1293.0,504.3 L1293.5,506.9 L1294.0,508.8 L1294.5,509.9 L1295.0,510.1 L1295.5,509.2 L1296.0,507.3 L1296.5,504.4 L1297.0,500.5 L1297.5,495.9 L1298.0,490.6 L1298.5,484.9 L1299.0,479.1 L1299.5,473.3 L1300.0,467.9 L1300.5,463.1 L1301.0,459.1 L1301.5,456.0 L1302.0,453.9 L1302.5,453.1 L1303.0,453.3 L1303.5,454.6 L1304.0,456.8 L1304.5,459.9 L1305.0,463.5 L1305.5,467.4 L1306.0,471.3 L1306.5,475.1 L1307.0,478.3 L1307.5,480.9 L1308.0,482.5 L1308.5,483.0 L1309.0,482.4 L1309.5,480.5 L1310.0,477.5 L1310.5,473.4 L1311.0,468.4 L1311.5,462.6 L1312.0,456.4 L1312.5,450.0 L1313.0,443.6 L1313.5,437.6 L1314.0,432.3 L1314.5,427.8 L1315.0,424.3 L1315.5,422.1 L1316.0,421.1 L1316.5,421.5 L1317.0,423.0 L1317.5,425.7 L1318.0,429.3 L1318.5,433.5 L1319.0,438.1 L1319.5,442.7 L1320.0,447.1 L1320.5,450.8 L1321.0,453.7 L1321.5,455.4 L1322.0,455.9 L1322.5,454.9 L1323.0,452.5 L1323.5,448.8 L1324.0,443.8 L1324.5,437.7 L1325.0,430.9 L1325.5,423.7 L1326.0,416.4 L1326.5,409.5 L1327.0,403.3 L1327.5,398.0 L1328.0,394.0 L1328.5,391.2 L1329.0,389.8 L1329.5,389.7 L1330.0,390.8 L1330.5,392.9 L1331.0,395.8 L1331.5,399.1 L1332.0,402.7 L1332.5,406.3 L1333.0,409.7 L1333.5,412.6 L1334.0,414.9 L1334.5,416.5 L1335.0,417.1 L1335.5,416.6 L1336.0,415.1 L1336.5,412.5 L1337.0,408.9 L1337.5,404.4 L1338.0,399.3 L1338.5,393.7 L1339.0,387.9 L1339.5,382.0 L1340.0,376.5 L1340.5,371.6 L1341.0,367.4 L1341.5,364.1 L1342.0,362.0 L1342.5,361.0 L1343.0,361.1 L1343.5,362.4 L1344.0,364.7 L1344.5,367.8 L1345.0,371.5 L1345.5,375.5 L1346.0,379.5 L1346.5,383.2 L1347.0,386.4 L1347.5,388.9 L1348.0,390.3 L1348.5,390.6 L1349.0,389.8 L1349.5,387.8 L1350.0,384.7 L1350.5,380.6 L1351.0,375.7 L1351.5,370.2 L1352.0,364.5 L1352.5,358.7 L1353.0,353.3 L1353.5,348.4 L1354.0,344.3 L1354.5,341.2 L1355.0,339.2 L1355.5,338.4 L1356.0,338.7 L1356.5,340.0 L1357.0,342.3 L1357.5,345.3 L1358.0,348.7 L1358.5,352.4 L1359.0,356.1 L1359.5,359.4 L1360.0,362.2 L1360.5,364.2 L1361.0,365.2 L1361.5,365.1 L1362.0,363.9 L1362.5,361.7 L1363.0,358.4 L1363.5,354.2 L1364.0,349.4 L1364.5,344.2 L1365.0,338.8 L1365.5,333.5 L1366.0,328.6 L1366.5,324.4 L1367.0,321.0 L1367.5,318.5 L1368.0,317.2 L1368.5,317.0 L1369.0,317.9 L1369.5,319.7 L1370.0,322.3 L1370.5,325.6 L1371.0,329.2 L1371.5,332.9 L1372.0,336.4 L1372.5,339.5 L1373.0,341.9 L1373.5,343.4 L1374.0,343.8 L1374.5,343.1 L1375.0,341.3 L1375.5,338.3 L1376.0,334.4 L1376.5,329.7 L1377.0,324.5 L1377.5,319.0 L1378.0,313.5 L1378.5,308.3 L1379.0,303.8 L1379.5,300.2 L1380.0,297.6 L1380.5,296.3 L1381.0,296.2 L1381.5,297.4 L1382.0,299.7 L1382.5,303.0 L1383.0,307.0 L1383.5,311.5 L1384.0,316.0 L1384.5,320.3 L1385.0,324.1 L1385.5,327.0 L1386.0,328.9 L1386.5,329.4 L1387.0,328.6 L1387.5,326.4 L1388.0,323.0 L1388.5,318.4 L1389.0,313.0 L1389.5,307.0 L1390.0,300.8 L1390.5,294.9 L1391.0,289.4 L1391.5,284.9 L1392.0,281.6 L1392.5,279.6 L1393.0,279.0 L1393.5,280.0 L1394.0,282.4 L1394.5,285.9 L1395.0,290.4 L1395.5,295.5 L1396.0,300.8 L1396.5,305.9 L1397.0,310.5 L1397.5,314.3 L1398.0,317.0 L1398.5,318.5 L1399.0,318.7 L1399.5,317.4 L1400.0,314.9 L1400.5,311.1 L1401.0,306.4 L1401.5,301.1 L1402.0,295.5 L1402.5,290.0 L1403.0,285.0 L1403.5,280.8 L1404.0,277.6 L1404.5,275.7 L1405.0,275.3 L1405.5,276.3 L1406.0,278.7 L1406.5,282.4 L1407.0,287.1 L1407.5,292.4 L1408.0,298.0 L1408.5,303.5 L1409.0,308.5 L1409.5,312.5 L1410.0,315.4 L1410.5,316.8 L1411.0,316.9 L1411.5,315.4 L1412.0,312.6 L1412.5,308.7 L1413.0,304.1 L1413.5,298.9 L1414.0,293.8 L1414.5,288.8 L1415.0,284.5 L1415.5,281.1 L1416.0,278.7 L1416.5,277.5 L1417.0,277.6 L1417.5,278.8 L1418.0,281.2 L1418.5,284.5 L1419.0,288.5 L1419.5,293.2 L1420.0,298.1 L1420.5,303.0 L1421.0,307.8 L1421.5,312.0 L1422.0,315.7 L1422.5,318.5 L1423.0,320.4 L1423.5,321.3 L1424.0,321.2 L1424.5,320.1 L1425.0,318.2 L1425.5,315.6 L1426.0,312.4 L1426.5,308.8 L1427.0,305.0 L1427.5,301.2 L1428.0,297.6 L1428.5,294.3 L1429.0,291.6 L1429.5,289.6 L1430.0,288.5 L1430.5,288.3 L1431.0,289.2 L1431.5,291.0 L1432.0,293.9 L1432.5,297.6 L1433.0,301.9 L1433.5,306.8 L1434.0,311.9 L1434.5,316.9 L1435.0,321.6 L1435.5,325.8 L1436.0,329.1 L1436.5,331.5 L1437.0,332.8 L1437.5,332.9 L1438.0,331.8 L1438.5,329.6 L1439.0,326.5 L1439.5,322.7 L1440.0,318.2 L1440.5,313.5 L1441.0,308.8 L1441.5,304.3 L1442.0,300.4 L1442.5,297.2 L1443.0,295.0 L1443.5,293.9 L1444.0,294.0 L1444.5,295.3 L1445.0,297.8 L1445.5,301.3 L1446.0,305.7 L1446.5,310.7 L1447.0,316.0 L1447.5,321.3 L1448.0,326.2 L1448.5,330.5 L1449.0,333.8 L1449.5,335.8 L1450.0,336.5 L1450.5,335.6 L1451.0,333.2 L1451.5,329.4 L1452.0,324.5 L1452.5,318.7 L1453.0,312.5 L1453.5,306.2 L1454.0,300.3 L1454.5,295.2 L1455.0,291.2 L1455.5,288.7 L1456.0,287.9 L1456.5,288.7 L1457.0,291.2 L1457.5,295.1 L1458.0,300.1 L1458.5,306.1 L1459.0,312.5 L1459.5,319.0 L1460.0,325.2 L1460.5,330.6 L1461.0,334.8 L1461.5,337.8 L1462.0,339.1 L1462.5,338.8 L1463.0,336.8 L1463.5,333.3 L1464.0,328.5 L1464.5,322.7 L1465.0,316.2 L1465.5,309.6 L1466.0,303.2 L1466.5,297.7 L1467.0,293.3 L1467.5,290.6 L1468.0,289.8 L1468.5,291.1 L1469.0,294.6 L1469.5,299.9 L1470.0,306.8 L1470.5,314.9 L1471.0,323.4 L1471.5,331.8 L1472.0,339.3 L1472.5,345.3 L1473.0,349.4 L1473.5,351.2 L1474.0,350.5 L1474.5,347.6 L1475.0,342.6 L1475.5,336.0 L1476.0,328.5 L1476.5,320.7 L1477.0,313.3 L1477.5,307.2 L1478.0,302.8 L1478.5,300.6 L1479.0,300.9 L1479.5,303.8 L1480.0,309.1 L1480.5,316.6 L1481.0,325.6 L1481.5,335.5 L1482.0,345.4 L1482.5,354.5 L1483.0,362.1 L1483.5,367.5 L1484.0,370.3 L1484.5,370.4 L1485.0,367.9 L1485.5,363.2 L1486.0,356.7 L1486.5,349.2 L1487.0,341.4 L1487.5,334.0 L1488.0,327.8 L1488.5,323.4 L1489.0,321.1 L1489.5,321.2 L1490.0,323.7 L1490.5,328.5 L1491.0,335.4 L1491.5,343.7 L1492.0,353.1 L1492.5,362.7 L1493.0,371.9 L1493.5,380.3 L1494.0,387.2 L1494.5,392.4 L1495.0,395.6 L1495.5,396.7 L1496.0,395.8 L1496.5,393.3 L1497.0,389.2 L1497.5,384.1 L1498.0,378.3 L1498.5,372.2 L1499.0,366.1 L1499.5,360.6 L1500.0,356.0 L1500.5,352.6 L1501.0,350.7 L1501.5,350.5 L1502.0,352.2 L1502.5,356.0 L1503.0,361.5 L1503.5,368.3 L1504.0,376.0 L1504.5,384.1 L1505.0,391.8 L1505.5,398.5 L1506.0,403.8 L1506.5,407.0 L1507.0,407.7 L1507.5,405.9 L1508.0,401.6 L1508.5,395.3 L1509.0,387.6 L1509.5,379.0 L1510.0,370.3 L1510.5,362.2 L1511.0,355.2 L1511.5,349.8 L1512.0,346.2 L1512.5,344.5 L1513.0,344.5 L1513.5,345.9 L1514.0,348.4 L1514.5,351.6 L1515.0,355.0 L1515.5,358.5 L1516.0,361.5 L1516.5,363.8 L1517.0,365.2 L1517.5,365.5 L1518.0,364.5 L1518.5,362.0 L1519.0,358.3 L1519.5,353.5 L1520.0,348.0 L1520.5,342.0 L1521.0,336.0 L1521.5,330.2 L1522.0,325.0 L1522.5,320.6 L1523.0,317.1 L1523.5,314.5 L1524.0,313.0 L1524.5,312.2 L1525.0,311.9 L1525.5,312.1 L1526.0,312.6 L1526.5,313.1 L1527.0,313.6 L1527.5,313.9 L1528.0,314.0 L1528.5,313.7 L1529.0,313.0 L1529.5,311.9 L1530.0,310.4 L1530.5,308.6 L1531.0,306.4 L1531.5,304.0 L1532.0,301.4 L1532.5,298.8 L1533.0,296.1 L1533.5,293.5 L1534.0,291.1 L1534.5,288.8 L1535.0,286.7 L1535.5,284.9 L1536.0,283.3 L1536.5,282.0 L1537.0,281.0 L1537.5,280.2 L1538.0,279.6 L1538.5,279.2 L1539.0,279.0 L1539.5,278.9 L1540.0,278.8 L1540.5,278.8 L1541.0,278.6 L1541.5,278.3 L1542.0,277.7 L1542.5,276.9 L1543.0,275.8 L1543.5,274.3 L1544.0,272.5 L1544.5,270.4 L1545.0,268.0 L1545.5,265.5 L1546.0,262.9 L1546.5,260.3 L1547.0,257.9 L1547.5,255.9 L1548.0,254.2 L1548.5,253.1 L1549.0,252.6 L1549.5,252.8 L1550.0,253.6 L1550.5,255.0 L1551.0,256.9 L1551.5,259.1 L1552.0,261.1 L1552.5,262.7 L1553.0,263.5 L1553.5,263.1 L1554.0,261.4 L1554.5,258.5 L1555.0,254.6 L1555.5,250.2 L1556.0,245.7 L1556.5,241.8 L1557.0,238.8 L1557.5,237.2 L1558.0,237.1 L1558.5,238.3 L1559.0,240.5 L1559.5,243.7 L1560.0,247.4 L1560.5,251.3 L1561.0,255.0 L1561.5,258.2 L1562.0,260.6 L1562.5,261.9 L1563.0,262.1 L1563.5,261.1 L1564.0,259.0 L1564.5,256.0 L1565.0,252.4 L1565.5,248.5 L1566.0,244.7 L1566.5,241.3 L1567.0,238.7 L1567.5,237.2 L1568.0,237.1 L1568.5,238.6 L1569.0,241.6 L1569.5,245.7 L1570.0,250.4 L1570.5,255.3 L1571.0,259.6 L1571.5,263.1 L1572.0,265.3 L1572.5,266.3 L1573.0,265.9 L1573.5,264.7 L1574.0,262.7 L1574.5,260.6 L1575.0,258.6 L1575.5,257.0 L1576.0,255.9 L1576.5,255.6 L1577.0,255.9 L1577.5,256.8 L1578.0,258.4 L1578.5,260.3 L1579.0,262.5 L1579.5,264.7 L1580.0,266.8 L1580.5,268.5 L1581.0,270.0 L1581.5,271.0 L1582.0,271.7 L1582.5,272.0 L1583.0,272.2 L1583.5,272.2 L1584.0,272.1 L1584.5,271.9 L1585.0,271.7 L1585.5,271.4 L1586.0,271.1 L1586.5,270.9 L1587.0,270.9 L1587.5,271.1 L1588.0,271.7 L1588.5,272.8 L1589.0,274.2 L1589.5,275.6 L1590.0,276.7 L1590.5,277.1 L1591.0,276.6 L1591.5,275.2 L1592.0,273.2 L1592.5,271.1 L1593.0,269.2 L1593.5,267.7 L1594.0,266.8 L1594.5,266.4 L1595.0,266.6 L1595.5,267.2 L1596.0,268.1 L1596.5,269.0 L1597.0,269.7 L1597.5,269.9 L1598.0,269.5 L1598.5,268.3 L1599.0,266.2 L1599.5,263.5 L1600.0,260.6 L1600.5,257.7 L1601.0,255.4 L1601.5,253.8 L1602.0,253.2 L1602.5,253.4 L1603.0,254.3 L1603.5,255.8 L1604.0,257.6 L1604.5,259.5 L1605.0,261.2 L1605.5,262.5 L1606.0,263.2 L1606.5,263.2 L1607.0,262.5 L1607.5,261.1 L1608.0,259.0 L1608.5,256.5 L1609.0,253.8 L1609.5,251.2 L1610.0,248.8 L1610.5,247.0 L1611.0,246.0 L1611.5,245.7 L1612.0,246.2 L1612.5,247.4 L1613.0,249.1 L1613.5,251.2 L1614.0,253.3 L1614.5,255.4 L1615.0,257.2 L1615.5,258.6 L1616.0,259.4 L1616.5,259.6 L1617.0,259.2 L1617.5,258.2 L1618.0,256.8 L1618.5,254.9 L1619.0,252.9 L1619.5,250.9 L1620.0,249.1 L1620.5,247.7 L1621.0,246.8 L1621.5,246.5 L1622.0,246.9 L1622.5,248.0 L1623.0,249.8 L1623.5,251.9 L1624.0,254.4 L1624.5,256.9 L1625.0,259.2 L1625.5,261.0 L1626.0,262.3 L1626.5,262.8 L1627.0,262.6 L1627.5,261.7 L1628.0,260.3 L1628.5,258.3 L1629.0,256.2 L1629.5,254.0 L1630.0,252.1 L1630.5,250.6 L1631.0,249.9 L1631.5,250.1 L1632.0,251.2 L1632.5,253.3 L1633.0,256.2 L1633.5,259.7 L1634.0,263.5 L1634.5,267.3 L1635.0,270.6 L1635.5,273.3 L1636.0,274.9 L1636.5,275.5 L1637.0,274.9 L1637.5,273.3 L1638.0,270.9 L1638.5,268.0 L1639.0,264.9 L1639.5,262.2 L1640.0,260.1 L1640.5,259.1 L1641.0,259.4 L1641.5,261.0 L1642.0,264.0 L1642.5,268.1 L1643.0,273.1 L1643.5,278.3 L1644.0,283.3 L1644.5,287.6 L1645.0,290.7 L1645.5,292.5 L1646.0,292.8 L1646.5,291.8 L1647.0,289.6 L1647.5,286.7 L1648.0,283.7 L1648.5,280.8 L1649.0,278.7 L1649.5,277.7 L1650.0,278.0 L1650.5,279.6 L1651.0,282.6 L1651.5,286.8 L1652.0,291.7 L1652.5,296.9 L1653.0,302.0 L1653.5,306.6 L1654.0,310.3 L1654.5,312.7 L1655.0,313.8 L1655.5,313.6 L1656.0,312.2 L1656.5,310.0 L1657.0,307.3 L1657.5,304.6 L1658.0,302.3 L1658.5,300.8 L1659.0,300.5 L1659.5,301.5 L1660.0,303.9 L1660.5,307.7 L1661.0,312.5 L1661.5,317.8 L1662.0,323.3 L1662.5,328.4 L1663.0,332.6 L1663.5,335.7 L1664.0,337.2 L1664.5,337.4 L1665.0,336.3 L1665.5,334.2 L1666.0,331.5 L1666.5,328.8 L1667.0,326.6 L1667.5,325.2 L1668.0,325.1 L1668.5,326.4 L1669.0,329.1 L1669.5,333.1 L1670.0,338.1 L1670.5,343.7 L1671.0,349.3 L1671.5,354.6 L1672.0,358.9 L1672.5,362.1 L1673.0,363.9 L1673.5,364.2 L1674.0,363.3 L1674.5,361.4 L1675.0,359.0 L1675.5,356.4 L1676.0,354.3 L1676.5,353.1 L1677.0,353.0 L1677.5,354.4 L1678.0,357.2 L1678.5,361.3 L1679.0,366.4 L1679.5,372.0 L1680.0,377.7 L1680.5,382.9 L1681.0,387.2 L1681.5,390.3 L1682.0,392.0 L1682.5,392.3 L1683.0,391.5 L1683.5,389.7 L1684.0,387.5 L1684.5,385.4 L1685.0,383.8 L1685.5,383.1 L1686.0,383.7 L1686.5,385.5 L1687.0,388.7 L1687.5,393.0 L1688.0,398.0 L1688.5,403.3 L1689.0,408.5 L1689.5,413.1 L1690.0,416.7 L1690.5,419.1 L1691.0,420.2 L1691.5,420.1 L1692.0,419.0 L1692.5,417.3 L1693.0,415.4 L1693.5,413.8 L1694.0,412.8 L1694.5,412.9 L1695.0,414.2 L1695.5,416.7 L1696.0,420.3 L1696.5,424.8 L1697.0,429.7 L1697.5,434.6 L1698.0,439.1 L1698.5,442.8 L1699.0,445.4 L1699.5,447.0 L1700.0,447.4 L1700.5,447.0 L1701.0,446.0 L1701.5,444.7 L1702.0,443.7 L1702.5,443.1 L1703.0,443.2 L1703.5,444.2 L1704.0,445.9 L1704.5,448.5 L1705.0,451.6 L1705.5,455.2 L1706.0,458.8 L1706.5,462.4 L1707.0,465.7 L1707.5,468.5 L1708.0,470.7 L1708.5,472.2 L1709.0,473.0 L1709.5,473.3 L1710.0,473.2 L1710.5,472.8 L1711.0,472.6 L1711.5,472.6 L1712.0,473.1 L1712.5,474.3 L1713.0,476.2 L1713.5,478.8 L1714.0,481.9 L1714.5,485.4 L1715.0,489.0 L1715.5,492.4 L1716.0,495.5 L1716.5,498.0 L1717.0,499.9 L1717.5,501.1 L1718.0,501.7 L1718.5,501.8 L1719.0,501.6 L1719.5,501.3 L1720.0,501.3 L1720.5,501.6 L1721.0,502.6 L1721.5,504.3 L1722.0,506.7 L1722.5,509.6 L1723.0,513.0 L1723.5,516.4 L1724.0,519.8 L1724.5,522.9 L1725.0,525.5 L1725.5,527.5 L1726.0,528.8 L1726.5,529.6 L1727.0,530.0 L1727.5,530.0 L1728.0,529.9 L1728.5,530.0 L1729.0,530.3 L1729.5,531.1 L1730.0,532.4 L1730.5,534.2 L1731.0,536.5 L1731.5,539.2 L1732.0,542.0 L1732.5,544.8 L1733.0,547.5 L1733.5,549.8 L1734.0,551.7 L1734.5,553.1 L1735.0,554.0 L1735.5,554.6 L1736.0,554.8 L1736.5,554.9 L1737.0,555.0 L1737.5,555.3 L1738.0,555.8 L1738.5,556.7 L1739.0,558.0 L1739.5,559.6 L1740.0,561.6 L1740.5,563.8 L1741.0,566.1 L1741.5,568.3 L1742.0,570.4 L1742.5,572.2 L1743.0,573.6 L1743.5,574.6 L1744.0,575.2 L1744.5,575.6 L1745.0,575.7 L1745.5,575.8 L1746.0,576.0 L1746.5,576.3 L1747.0,576.9 L1747.5,577.8 L1748.0,579.1 L1748.5,580.7 L1749.0,582.5 L1749.5,584.6 L1750.0,586.6 L1750.5,588.7 L1751.0,590.5 L1751.5,592.1 L1752.0,593.3 L1752.5,594.2 L1753.0,594.7 L1753.5,595.0 L1754.0,595.2 L1754.5,595.3 L1755.0,595.6 L1755.5,596.2 L1756.0,597.0 L1756.5,598.3 L1757.0,599.8 L1757.5,601.6 L1758.0,603.5 L1758.5,605.4 L1759.0,607.2 L1759.5,608.8 L1760.0,610.2 L1760.5,611.2 L1761.0,611.9 L1761.5,612.3 L1762.0,612.5 L1762.5,612.6 L1763.0,612.7 L1763.5,612.9 L1764.0,613.3 L1764.5,614.0 L1765.0,614.9 L1765.5,616.0 L1766.0,617.4 L1766.5,619.0 L1767.0,620.6 L1767.5,622.2 L1768.0,623.7 L1768.5,625.0 L1769.0,626.1 L1769.5,626.8 L1770.0,627.4 L1770.5,627.7 L1771.0,627.8 L1771.5,627.9 L1772.0,628.1 L1772.5,628.4 L1773.0,629.0 L1773.5,629.7 L1774.0,630.8 L1774.5,632.0 L1775.0,633.4 L1775.5,634.8 L1776.0,636.2 L1776.5,637.4 L1777.0,638.4 L1777.5,639.3 L1778.0,639.9 L1778.5,640.2 L1779.0,640.5 L1779.5,640.6 L1780.0,640.6 L1780.5,640.7 L1781.0,641.0 L1781.5,641.3 L1782.0,641.8 L1782.5,642.5 L1783.0,643.4 L1783.5,644.4 L1784.0,645.4 L1784.5,646.4 L1785.0,647.4 L1785.5,648.3 L1786.0,649.0 L1786.5,649.6 L1787.0,650.0 L1787.5,650.2 L1788.0,650.4 L1788.5,650.5 L1789.0,650.6 L1789.5,650.7 L1790.0,651.0 L1790.5,651.4 L1791.0,652.0 L1791.5,652.7 L1792.0,653.6 L1792.5,654.5 L1793.0,655.4 L1793.5,656.3 L1794.0,657.2 L1794.5,657.9 L1795.0,658.4 L1795.5,658.8 L1796.0,659.0 L1796.5,659.1 L1797.0,659.2 L1797.5,659.2 L1798.0,659.7 L1798.5,660.1 L1799.0,660.6 L1799.5,661.1 L1800.0,661.6 L1800.5,662.1 L1801.0,662.6 L1801.5,663.0 L1802.0,663.4 L1802.5,663.7 L1803.0,664.1 L1803.5,664.4 L1804.0,664.7 L1804.5,665.0 L1805.0,665.3 L1805.5,665.6 L1806.0,665.9 L1806.5,666.3 L1807.0,666.6 L1807.5,667.0 L1808.0,667.4 L1808.5,667.7 L1809.0,668.1 L1809.5,668.4 L1810.0,668.7 L1810.5,669.0 L1811.0,669.3" fill="none" stroke="#809fff" stroke-width="4.6" stroke-linejoin="round"/>
<g stroke="#809fff" stroke-width="4.5" stroke-linecap="butt">
<line x1="1459.5" y1="202.5" x2="1417.5" y2="268.5"/>
<line x1="1643" y1="201" x2="1597" y2="245"/>
</g>
<path d="M907.00,686.60 L907.25,686.60 L907.50,686.60 L907.75,686.60 L908.00,686.60 L908.25,686.60 L908.50,686.60 L908.75,686.60 L909.00,686.60 L909.25,686.60 L909.50,686.60 L909.75,686.60 L910.00,686.60 L910.25,686.60 L910.50,686.60 L910.75,686.60 L911.00,686.60 L911.25,686.60 L911.50,686.60 L911.75,686.60 L912.00,686.60 L912.25,686.60 L912.50,686.60 L912.75,686.60 L913.00,686.60 L913.25,686.60 L913.50,686.60 L913.75,686.60 L914.00,686.60 L914.25,686.60 L914.50,686.60 L914.75,686.60 L915.00,686.60 L915.25,686.60 L915.50,686.60 L915.75,686.60 L916.00,686.60 L916.25,686.60 L916.50,686.60 L916.75,686.60 L917.00,686.60 L917.25,686.60 L917.50,686.60 L917.75,686.60 L918.00,686.60 L918.25,686.60 L918.50,686.60 L918.75,686.60 L919.00,686.60 L919.25,686.60 L919.50,686.60 L919.75,686.60 L920.00,686.60 L920.25,686.60 L920.50,686.60 L920.75,686.60 L921.00,686.60 L921.25,686.60 L921.50,686.60 L921.75,686.60 L922.00,686.60 L922.25,686.60 L922.50,686.60 L922.75,686.60 L923.00,686.60 L923.25,686.60 L923.50,686.60 L923.75,686.60 L924.00,686.60 L924.25,686.60 L924.50,686.60 L924.75,686.60 L925.00,686.60 L925.25,686.60 L925.50,686.60 L925.75,686.60 L926.00,686.60 L926.25,686.60 L926.50,686.60 L926.75,686.60 L927.00,686.60 L927.25,686.60 L927.50,686.60 L927.75,686.60 L928.00,686.60 L928.25,686.60 L928.50,686.60 L928.75,686.60 L929.00,686.60 L929.25,686.60 L929.50,686.60 L929.75,686.60 L930.00,686.60 L930.25,686.60 L930.50,686.60 L930.75,686.60 L931.00,686.60 L931.25,686.60 L931.50,686.60 L931.75,686.60 L932.00,686.60 L932.25,686.60 L932.50,686.60 L932.75,686.60 L933.00,686.60 L933.25,686.60 L933.50,686.60 L933.75,686.60 L934.00,686.60 L934.25,686.60 L934.50,686.60 L934.75,686.60 L935.00,686.60 L935.25,686.60 L935.50,686.60 L935.75,686.60 L936.00,686.60 L936.25,686.60 L936.50,686.60 L936.75,686.60 L937.00,686.60 L937.25,686.60 L937.50,686.60 L937.75,686.60 L938.00,686.60 L938.25,686.60 L938.50,686.60 L938.75,686.60 L939.00,686.60 L939.25,686.60 L939.50,686.60 L939.75,686.60 L940.00,686.60 L940.25,686.60 L940.50,686.60 L940.75,686.60 L941.00,686.60 L941.25,686.60 L941.50,686.60 L941.75,686.60 L942.00,686.60 L942.25,686.60 L942.50,686.60 L942.75,686.60 L943.00,686.60 L943.25,686.60 L943.50,686.60 L943.75,686.60 L944.00,686.60 L944.25,686.60 L944.50,686.60 L944.75,686.60 L945.00,686.60 L945.25,686.60 L945.50,686.60 L945.75,686.60 L946.00,686.60 L946.25,686.60 L946.50,686.60 L946.75,686.60 L947.00,686.60 L947.25,686.60 L947.50,686.60 L947.75,686.60 L948.00,686.60 L948.25,686.60 L948.50,686.60 L948.75,686.60 L949.00,686.60 L949.25,686.60 L949.50,686.60 L949.75,686.60 L950.00,686.60 L950.25,686.60 L950.50,686.60 L950.75,686.60 L951.00,686.60 L951.25,686.60 L951.50,686.60 L951.75,686.60 L952.00,686.60 L952.25,686.60 L952.50,686.60 L952.75,686.60 L953.00,686.60 L953.25,686.60 L953.50,686.60 L953.75,686.60 L954.00,686.60 L954.25,686.60 L954.50,686.60 L954.75,686.60 L955.00,686.60 L955.25,686.60 L955.50,686.60 L955.75,686.60 L956.00,686.60 L956.25,686.60 L956.50,686.60 L956.75,686.60 L957.00,686.60 L957.25,686.60 L957.50,686.60 L957.75,686.60 L958.00,686.60 L958.25,686.60 L958.50,686.60 L958.75,686.60 L959.00,686.60 L959.25,686.60 L959.50,686.60 L959.75,686.60 L960.00,686.60 L960.25,686.60 L960.50,686.60 L960.75,686.60 L961.00,686.60 L961.25,686.60 L961.50,686.60 L961.75,686.60 L962.00,686.60 L962.25,686.60 L962.50,686.60 L962.75,686.60 L963.00,686.60 L963.25,686.60 L963.50,686.60 L963.75,686.60 L964.00,686.60 L964.25,686.60 L964.50,686.60 L964.75,686.60 L965.00,686.60 L965.25,686.60 L965.50,686.60 L965.75,686.60 L966.00,686.60 L966.25,686.60 L966.50,686.60 L966.75,686.60 L967.00,686.60 L967.25,686.60 L967.50,686.60 L967.75,686.60 L968.00,686.60 L968.25,686.60 L968.50,686.60 L968.75,686.60 L969.00,686.60 L969.25,686.60 L969.50,686.60 L969.75,686.60 L970.00,686.60 L970.25,686.60 L970.50,686.60 L970.75,686.60 L971.00,686.60 L971.25,686.60 L971.50,686.60 L971.75,686.60 L972.00,686.60 L972.25,686.60 L972.50,686.60 L972.75,686.60 L973.00,686.60 L973.25,686.60 L973.50,686.60 L973.75,686.60 L974.00,686.60 L974.25,686.60 L974.50,686.60 L974.75,686.60 L975.00,686.60 L975.25,686.60 L975.50,686.60 L975.75,686.60 L976.00,686.60 L976.25,686.60 L976.50,686.60 L976.75,686.60 L977.00,686.60 L977.25,686.60 L977.50,686.60 L977.75,686.60 L978.00,686.60 L978.25,686.60 L978.50,686.60 L978.75,686.60 L979.00,686.60 L979.25,686.60 L979.50,686.60 L979.75,686.60 L980.00,686.60 L980.25,686.60 L980.50,686.60 L980.75,686.60 L981.00,686.60 L981.25,686.60 L981.50,686.60 L981.75,686.60 L982.00,686.60 L982.25,686.60 L982.50,686.60 L982.75,686.60 L983.00,686.60 L983.25,686.60 L983.50,686.60 L983.75,686.60 L984.00,686.60 L984.25,686.60 L984.50,686.60 L984.75,686.60 L985.00,686.60 L985.25,686.60 L985.50,686.60 L985.75,686.60 L986.00,686.60 L986.25,686.60 L986.50,686.60 L986.75,686.60 L987.00,686.60 L987.25,686.60 L987.50,686.60 L987.75,686.60 L988.00,686.60 L988.25,686.60 L988.50,686.60 L988.75,686.60 L989.00,686.60 L989.25,686.60 L989.50,686.60 L989.75,686.60 L990.00,686.60 L990.25,686.60 L990.50,686.60 L990.75,686.60 L991.00,686.60 L991.25,686.60 L991.50,686.60 L991.75,686.60 L992.00,686.60 L992.25,686.60 L992.50,686.60 L992.75,686.60 L993.00,686.60 L993.25,686.60 L993.50,686.60 L993.75,686.60 L994.00,686.60 L994.25,686.60 L994.50,686.60 L994.75,686.60 L995.00,686.60 L995.25,686.60 L995.50,686.60 L995.75,686.60 L996.00,686.60 L996.25,686.60 L996.50,686.60 L996.75,686.60 L997.00,686.60 L997.25,686.60 L997.50,686.60 L997.75,686.60 L998.00,686.60 L998.25,686.60 L998.50,686.60 L998.75,686.60 L999.00,686.60 L999.25,686.60 L999.50,686.60 L999.75,686.60 L1000.00,686.60 L1000.25,686.60 L1000.50,686.60 L1000.75,686.60 L1001.00,686.60 L1001.25,686.60 L1001.50,686.60 L1001.75,686.60 L1002.00,686.60 L1002.25,686.60 L1002.50,686.60 L1002.75,686.60 L1003.00,686.60 L1003.25,686.60 L1003.50,686.60 L1003.75,686.60 L1004.00,686.60 L1004.25,686.60 L1004.50,686.60 L1004.75,686.60 L1005.00,686.60 L1005.25,686.60 L1005.50,686.60 L1005.75,686.60 L1006.00,686.60 L1006.25,686.60 L1006.50,686.60 L1006.75,686.60 L1007.00,686.60 L1007.25,686.60 L1007.50,686.60 L1007.75,686.60 L1008.00,686.60 L1008.25,686.60 L1008.50,686.60 L1008.75,686.60 L1009.00,686.60 L1009.25,686.60 L1009.50,686.60 L1009.75,686.60 L1010.00,686.60 L1010.25,686.60 L1010.50,686.60 L1010.75,686.60 L1011.00,686.60 L1011.25,686.60 L1011.50,686.60 L1011.75,686.60 L1012.00,686.60 L1012.25,686.60 L1012.50,686.60 L1012.75,686.60 L1013.00,686.60 L1013.25,686.60 L1013.50,686.60 L1013.75,686.60 L1014.00,686.60 L1014.25,686.60 L1014.50,686.60 L1014.75,686.60 L1015.00,686.60 L1015.25,686.60 L1015.50,686.60 L1015.75,686.60 L1016.00,686.60 L1016.25,686.60 L1016.50,686.60 L1016.75,686.60 L1017.00,686.60 L1017.25,686.60 L1017.50,686.60 L1017.75,686.60 L1018.00,686.60 L1018.25,686.60 L1018.50,686.60 L1018.75,686.60 L1019.00,686.60 L1019.25,686.60 L1019.50,686.60 L1019.75,686.60 L1020.00,686.60 L1020.25,686.60 L1020.50,686.60 L1020.75,686.60 L1021.00,686.60 L1021.25,686.60 L1021.50,686.60 L1021.75,686.60 L1022.00,686.60 L1022.25,686.60 L1022.50,686.60 L1022.75,686.60 L1023.00,686.60 L1023.25,686.60 L1023.50,686.60 L1023.75,686.60 L1024.00,686.60 L1024.25,686.60 L1024.50,686.60 L1024.75,686.60 L1025.00,686.60 L1025.25,686.60 L1025.50,686.60 L1025.75,686.60 L1026.00,686.60 L1026.25,686.60 L1026.50,686.60 L1026.75,686.60 L1027.00,686.60 L1027.25,686.60 L1027.50,686.60 L1027.75,686.60 L1028.00,686.60 L1028.25,686.60 L1028.50,686.60 L1028.75,686.60 L1029.00,686.60 L1029.25,686.60 L1029.50,686.60 L1029.75,686.60 L1030.00,686.60 L1030.25,686.60 L1030.50,686.60 L1030.75,686.60 L1031.00,686.60 L1031.25,686.60 L1031.50,686.60 L1031.75,686.60 L1032.00,686.60 L1032.25,686.60 L1032.50,686.60 L1032.75,686.60 L1033.00,686.60 L1033.25,686.60 L1033.50,686.60 L1033.75,686.60 L1034.00,686.60 L1034.25,686.60 L1034.50,686.60 L1034.75,686.60 L1035.00,686.60 L1035.25,686.60 L1035.50,686.60 L1035.75,686.60 L1036.00,686.60 L1036.25,686.60 L1036.50,686.60 L1036.75,686.60 L1037.00,686.60 L1037.25,686.60 L1037.50,686.60 L1037.75,686.60 L1038.00,686.60 L1038.25,686.60 L1038.50,686.60 L1038.75,686.60 L1039.00,686.60 L1039.25,686.60 L1039.50,686.60 L1039.75,686.60 L1040.00,686.60 L1040.25,686.60 L1040.50,686.60 L1040.75,686.60 L1041.00,686.60 L1041.25,686.60 L1041.50,686.60 L1041.75,686.60 L1042.00,686.60 L1042.25,686.60 L1042.50,686.60 L1042.75,686.60 L1043.00,686.60 L1043.25,686.60 L1043.50,686.60 L1043.75,686.60 L1044.00,686.60 L1044.25,686.60 L1044.50,686.60 L1044.75,686.60 L1045.00,686.60 L1045.25,686.60 L1045.50,686.60 L1045.75,686.60 L1046.00,686.60 L1046.25,686.60 L1046.50,686.60 L1046.75,686.60 L1047.00,686.60 L1047.25,686.60 L1047.50,686.60 L1047.75,686.60 L1048.00,686.60 L1048.25,686.60 L1048.50,686.60 L1048.75,686.60 L1049.00,686.60 L1049.25,686.60 L1049.50,686.60 L1049.75,686.60 L1050.00,686.60 L1050.25,686.60 L1050.50,686.60 L1050.75,686.60 L1051.00,686.60 L1051.25,686.60 L1051.50,686.60 L1051.75,686.60 L1052.00,686.60 L1052.25,686.60 L1052.50,686.60 L1052.75,686.60 L1053.00,686.60 L1053.25,686.60 L1053.50,686.60 L1053.75,686.60 L1054.00,686.60 L1054.25,686.60 L1054.50,686.60 L1054.75,686.60 L1055.00,686.60 L1055.25,686.60 L1055.50,686.60 L1055.75,686.60 L1056.00,686.60 L1056.25,686.60 L1056.50,686.60 L1056.75,686.60 L1057.00,686.60 L1057.25,686.60 L1057.50,686.60 L1057.75,686.60 L1058.00,686.60 L1058.25,686.60 L1058.50,686.60 L1058.75,686.60 L1059.00,686.60 L1059.25,686.60 L1059.50,686.60 L1059.75,686.60 L1060.00,686.60 L1060.25,686.60 L1060.50,686.60 L1060.75,686.60 L1061.00,686.60 L1061.25,686.60 L1061.50,686.60 L1061.75,686.60 L1062.00,686.60 L1062.25,686.60 L1062.50,686.60 L1062.75,686.60 L1063.00,686.60 L1063.25,686.60 L1063.50,686.60 L1063.75,686.60 L1064.00,686.60 L1064.25,686.60 L1064.50,686.60 L1064.75,686.60 L1065.00,686.60 L1065.25,686.60 L1065.50,686.60 L1065.75,686.60 L1066.00,686.60 L1066.25,686.60 L1066.50,686.60 L1066.75,686.60 L1067.00,686.60 L1067.25,686.60 L1067.50,686.60 L1067.75,686.60 L1068.00,686.60 L1068.25,686.60 L1068.50,686.60 L1068.75,686.60 L1069.00,686.60 L1069.25,686.60 L1069.50,686.60 L1069.75,686.60 L1070.00,686.60 L1070.25,686.60 L1070.50,686.60 L1070.75,686.60 L1071.00,686.60 L1071.25,686.60 L1071.50,686.60 L1071.75,686.60 L1072.00,686.60 L1072.25,686.60 L1072.50,686.60 L1072.75,686.60 L1073.00,686.60 L1073.25,686.60 L1073.50,686.60 L1073.75,686.60 L1074.00,686.60 L1074.25,686.60 L1074.50,686.60 L1074.75,686.60 L1075.00,686.60 L1075.25,686.60 L1075.50,686.60 L1075.75,686.60 L1076.00,686.60 L1076.25,686.60 L1076.50,686.60 L1076.75,686.60 L1077.00,686.60 L1077.25,686.60 L1077.50,686.60 L1077.75,686.60 L1078.00,686.60 L1078.25,686.60 L1078.50,686.60 L1078.75,686.60 L1079.00,686.60 L1079.25,686.60 L1079.50,686.60 L1079.75,686.60 L1080.00,686.60 L1080.25,686.60 L1080.50,686.60 L1080.75,686.60 L1081.00,686.60 L1081.25,686.60 L1081.50,686.60 L1081.75,686.60 L1082.00,686.60 L1082.25,686.60 L1082.50,686.60 L1082.75,686.60 L1083.00,686.60 L1083.25,686.60 L1083.50,686.60 L1083.75,686.60 L1084.00,686.60 L1084.25,686.60 L1084.50,686.60 L1084.75,686.60 L1085.00,686.60 L1085.25,686.60 L1085.50,686.60 L1085.75,686.60 L1086.00,686.60 L1086.25,686.60 L1086.50,686.60 L1086.75,686.60 L1087.00,686.60 L1087.25,686.60 L1087.50,686.60 L1087.75,686.60 L1088.00,686.60 L1088.25,686.60 L1088.50,686.60 L1088.75,686.60 L1089.00,686.60 L1089.25,686.60 L1089.50,686.60 L1089.75,686.60 L1090.00,686.60 L1090.25,686.60 L1090.50,686.60 L1090.75,686.60 L1091.00,686.60 L1091.25,686.60 L1091.50,686.60 L1091.75,686.60 L1092.00,686.60 L1092.25,686.60 L1092.50,686.60 L1092.75,686.60 L1093.00,686.60 L1093.25,686.60 L1093.50,686.60 L1093.75,686.60 L1094.00,686.60 L1094.25,686.60 L1094.50,686.60 L1094.75,686.60 L1095.00,686.60 L1095.25,686.60 L1095.50,686.60 L1095.75,686.60 L1096.00,686.60 L1096.25,686.60 L1096.50,686.60 L1096.75,686.60 L1097.00,686.60 L1097.25,686.60 L1097.50,686.60 L1097.75,686.60 L1098.00,686.60 L1098.25,686.60 L1098.50,686.60 L1098.75,686.60 L1099.00,686.60 L1099.25,686.60 L1099.50,686.60 L1099.75,686.60 L1100.00,686.60 L1100.25,686.60 L1100.50,686.60 L1100.75,686.60 L1101.00,686.60 L1101.25,686.60 L1101.50,686.60 L1101.75,686.60 L1102.00,686.60 L1102.25,686.60 L1102.50,686.60 L1102.75,686.60 L1103.00,686.60 L1103.25,686.60 L1103.50,686.60 L1103.75,686.60 L1104.00,686.60 L1104.25,686.60 L1104.50,686.60 L1104.75,686.60 L1105.00,686.60 L1105.25,686.60 L1105.50,686.60 L1105.75,686.60 L1106.00,686.60 L1106.25,686.60 L1106.50,686.60 L1106.75,686.60 L1107.00,686.60 L1107.25,686.60 L1107.50,686.60 L1107.75,686.60 L1108.00,686.60 L1108.25,686.60 L1108.50,686.60 L1108.75,686.60 L1109.00,686.60 L1109.25,686.60 L1109.50,686.60 L1109.75,686.60 L1110.00,686.60 L1110.25,686.60 L1110.50,686.60 L1110.75,686.60 L1111.00,686.60 L1111.25,686.60 L1111.50,686.60 L1111.75,686.60 L1112.00,686.60 L1112.25,686.60 L1112.50,686.60 L1112.75,686.60 L1113.00,686.60 L1113.25,686.60 L1113.50,686.60 L1113.75,686.60 L1114.00,686.60 L1114.25,686.60 L1114.50,686.60 L1114.75,686.60 L1115.00,686.60 L1115.25,686.60 L1115.50,686.60 L1115.75,686.60 L1116.00,686.60 L1116.25,686.60 L1116.50,686.60 L1116.75,686.60 L1117.00,686.60 L1117.25,686.60 L1117.50,686.60 L1117.75,686.60 L1118.00,686.60 L1118.25,686.60 L1118.50,686.60 L1118.75,686.60 L1119.00,686.60 L1119.25,686.60 L1119.50,686.60 L1119.75,686.60 L1120.00,686.60 L1120.25,686.60 L1120.50,686.60 L1120.75,686.60 L1121.00,686.60 L1121.25,686.60 L1121.50,686.60 L1121.75,686.60 L1122.00,686.60 L1122.25,686.60 L1122.50,686.60 L1122.75,686.60 L1123.00,686.60 L1123.25,686.60 L1123.50,686.60 L1123.75,686.60 L1124.00,686.60 L1124.25,686.60 L1124.50,686.60 L1124.75,686.60 L1125.00,686.60 L1125.25,686.60 L1125.50,686.60 L1125.75,686.60 L1126.00,686.60 L1126.25,686.60 L1126.50,686.60 L1126.75,686.60 L1127.00,686.60 L1127.25,686.60 L1127.50,686.60 L1127.75,686.60 L1128.00,686.60 L1128.25,686.60 L1128.50,686.60 L1128.75,686.60 L1129.00,686.60 L1129.25,686.60 L1129.50,686.60 L1129.75,686.60 L1130.00,686.60 L1130.25,686.60 L1130.50,686.60 L1130.75,686.60 L1131.00,686.60 L1131.25,686.60 L1131.50,686.60 L1131.75,686.60 L1132.00,686.60 L1132.25,686.60 L1132.50,686.60 L1132.75,686.60 L1133.00,686.60 L1133.25,686.60 L1133.50,686.60 L1133.75,686.60 L1134.00,686.60 L1134.25,686.60 L1134.50,686.60 L1134.75,686.60 L1135.00,686.60 L1135.25,686.60 L1135.50,686.60 L1135.75,686.60 L1136.00,686.60 L1136.25,686.60 L1136.50,686.60 L1136.75,686.60 L1137.00,686.60 L1137.25,686.60 L1137.50,686.60 L1137.75,686.60 L1138.00,686.60 L1138.25,686.60 L1138.50,686.60 L1138.75,686.60 L1139.00,686.60 L1139.25,686.60 L1139.50,686.60 L1139.75,686.60 L1140.00,686.60 L1140.25,686.60 L1140.50,686.60 L1140.75,686.60 L1141.00,686.60 L1141.25,686.60 L1141.50,686.60 L1141.75,686.60 L1142.00,686.60 L1142.25,686.60 L1142.50,686.60 L1142.75,686.60 L1143.00,686.60 L1143.25,686.60 L1143.50,686.60 L1143.75,686.60 L1144.00,686.60 L1144.25,686.60 L1144.50,686.60 L1144.75,686.60 L1145.00,686.60 L1145.25,686.60 L1145.50,686.60 L1145.75,686.60 L1146.00,686.60 L1146.25,686.60 L1146.50,686.60 L1146.75,686.60 L1147.00,686.60 L1147.25,686.60 L1147.50,686.60 L1147.75,686.60 L1148.00,686.60 L1148.25,686.60 L1148.50,686.60 L1148.75,686.60 L1149.00,686.60 L1149.25,686.60 L1149.50,686.60 L1149.75,686.60 L1150.00,686.60 L1150.25,686.60 L1150.50,686.60 L1150.75,686.60 L1151.00,686.60 L1151.25,686.60 L1151.50,686.60 L1151.75,686.60 L1152.00,686.60 L1152.25,686.60 L1152.50,686.60 L1152.75,686.60 L1153.00,686.60 L1153.25,686.60 L1153.50,686.60 L1153.75,686.60 L1154.00,686.60 L1154.25,686.60 L1154.50,686.60 L1154.75,686.60 L1155.00,686.60 L1155.25,686.60 L1155.50,686.60 L1155.75,686.60 L1156.00,686.60 L1156.25,686.60 L1156.50,686.60 L1156.75,686.60 L1157.00,686.60 L1157.25,686.60 L1157.50,686.60 L1157.75,686.60 L1158.00,686.60 L1158.25,686.60 L1158.50,686.60 L1158.75,686.60 L1159.00,686.60 L1159.25,686.60 L1159.50,686.60 L1159.75,686.60 L1160.00,686.60 L1160.25,686.60 L1160.50,686.60 L1160.75,686.60 L1161.00,686.60 L1161.25,686.60 L1161.50,686.60 L1161.75,686.60 L1162.00,686.60 L1162.25,686.60 L1162.50,686.60 L1162.75,686.60 L1163.00,686.60 L1163.25,686.60 L1163.50,686.60 L1163.75,686.60 L1164.00,686.60 L1164.25,686.60 L1164.50,686.60 L1164.75,686.60 L1165.00,686.60 L1165.25,686.60 L1165.50,686.60 L1165.75,686.60 L1166.00,686.60 L1166.25,686.60 L1166.50,686.60 L1166.75,686.60 L1167.00,686.60 L1167.25,686.60 L1167.50,686.60 L1167.75,686.60 L1168.00,686.60 L1168.25,686.60 L1168.50,686.60 L1168.75,686.60 L1169.00,686.60 L1169.25,686.60 L1169.50,686.60 L1169.75,686.60 L1170.00,686.60 L1170.25,686.60 L1170.50,686.60 L1170.75,686.60 L1171.00,686.60 L1171.25,686.60 L1171.50,686.60 L1171.75,686.60 L1172.00,686.60 L1172.25,686.60 L1172.50,686.60 L1172.75,686.60 L1173.00,686.60 L1173.25,686.60 L1173.50,686.60 L1173.75,686.60 L1174.00,686.60 L1174.25,686.60 L1174.50,686.60 L1174.75,686.60 L1175.00,686.60 L1175.25,686.60 L1175.50,686.60 L1175.75,686.60 L1176.00,686.60 L1176.25,686.60 L1176.50,686.60 L1176.75,686.60 L1177.00,686.60 L1177.25,686.60 L1177.50,686.60 L1177.75,686.60 L1178.00,686.60 L1178.25,686.60 L1178.50,686.60 L1178.75,686.60 L1179.00,686.60 L1179.25,686.60 L1179.50,686.60 L1179.75,686.60 L1180.00,686.60 L1180.25,686.60 L1180.50,686.60 L1180.75,686.60 L1181.00,686.60 L1181.25,686.60 L1181.50,686.60 L1181.75,686.60 L1182.00,686.60 L1182.25,686.60 L1182.50,686.60 L1182.75,686.60 L1183.00,686.60 L1183.25,686.60 L1183.50,686.60 L1183.75,686.60 L1184.00,686.60 L1184.25,686.60 L1184.50,686.60 L1184.75,686.60 L1185.00,686.60 L1185.25,686.60 L1185.50,686.60 L1185.75,686.60 L1186.00,686.60 L1186.25,686.60 L1186.50,686.60 L1186.75,686.60 L1187.00,686.60 L1187.25,686.60 L1187.50,686.60 L1187.75,686.60 L1188.00,686.60 L1188.25,686.60 L1188.50,686.60 L1188.75,686.60 L1189.00,686.60 L1189.25,686.60 L1189.50,686.60 L1189.75,686.60 L1190.00,686.60 L1190.25,686.60 L1190.50,686.60 L1190.75,686.60 L1191.00,686.60 L1191.25,686.60 L1191.50,686.60 L1191.75,686.60 L1192.00,686.60 L1192.25,686.60 L1192.50,686.60 L1192.75,686.60 L1193.00,686.60 L1193.25,686.60 L1193.50,686.60 L1193.75,686.60 L1194.00,686.60 L1194.25,686.60 L1194.50,686.60 L1194.75,686.60 L1195.00,686.60 L1195.25,686.60 L1195.50,686.60 L1195.75,686.60 L1196.00,686.60 L1196.25,686.60 L1196.50,686.60 L1196.75,686.60 L1197.00,686.60 L1197.25,686.60 L1197.50,686.60 L1197.75,686.60 L1198.00,686.60 L1198.25,686.60 L1198.50,686.60 L1198.75,686.60 L1199.00,686.60 L1199.25,686.60 L1199.50,686.60 L1199.75,686.60 L1200.00,686.60 L1200.25,686.60 L1200.50,686.60 L1200.75,686.60 L1201.00,686.60 L1201.25,686.60 L1201.50,686.59 L1201.75,686.59 L1202.00,686.59 L1202.25,686.58 L1202.50,686.58 L1202.75,686.57 L1203.00,686.56 L1203.25,686.55 L1203.50,686.55 L1203.75,686.54 L1204.00,686.53 L1204.25,686.52 L1204.50,686.51 L1204.75,686.49 L1205.00,686.48 L1205.25,686.47 L1205.50,686.46 L1205.75,686.44 L1206.00,686.43 L1206.25,686.41 L1206.50,686.40 L1206.75,686.38 L1207.00,686.36 L1207.25,686.34 L1207.50,686.33 L1207.75,686.31 L1208.00,686.29 L1208.25,686.27 L1208.50,686.25 L1208.75,686.23 L1209.00,686.21 L1209.25,686.19 L1209.50,686.16 L1209.75,686.14 L1210.00,686.12 L1210.25,686.10 L1210.50,686.07 L1210.75,686.05 L1211.00,686.02 L1211.25,686.00 L1211.50,685.97 L1211.75,685.95 L1212.00,685.92 L1212.25,685.90 L1212.50,685.87 L1212.75,685.84 L1213.00,685.82 L1213.25,685.79 L1213.50,685.76 L1213.75,685.73 L1214.00,685.71 L1214.25,685.68 L1214.50,685.65 L1214.75,685.62 L1215.00,685.59 L1215.25,685.56 L1215.50,685.53 L1215.75,685.50 L1216.00,685.47" fill="none" stroke="#ff0000" stroke-width="5.6" stroke-linejoin="round"/>
<path d="M1215.00,685.59 L1215.25,685.56 L1215.50,685.53 L1215.75,685.50 L1216.00,685.47 L1216.25,685.44 L1216.50,685.41 L1216.75,685.38 L1217.00,685.35 L1217.25,685.31 L1217.50,685.27 L1217.75,685.23 L1218.00,685.19 L1218.25,685.14 L1218.50,685.09 L1218.75,685.04 L1219.00,684.98 L1219.25,684.93 L1219.50,684.87 L1219.75,684.81 L1220.00,684.74 L1220.25,684.68 L1220.50,684.61 L1220.75,684.54 L1221.00,684.47 L1221.25,684.40 L1221.50,684.32 L1221.75,684.25 L1222.00,684.17 L1222.25,684.09 L1222.50,684.01 L1222.75,683.92 L1223.00,683.84 L1223.25,683.75 L1223.50,683.67 L1223.75,683.58 L1224.00,683.49 L1224.25,683.40 L1224.50,683.31 L1224.75,683.22 L1225.00,683.13 L1225.25,683.03 L1225.50,682.94 L1225.75,682.84 L1226.00,682.75 L1226.25,682.65 L1226.50,682.56 L1226.75,682.49 L1227.00,682.42 L1227.25,682.34 L1227.50,682.25 L1227.75,682.16 L1228.00,682.06 L1228.25,681.95 L1228.50,681.84 L1228.75,681.73 L1229.00,681.62 L1229.25,681.50 L1229.50,681.39 L1229.75,681.29 L1230.00,681.18 L1230.25,681.09 L1230.50,681.00 L1230.75,680.91 L1231.00,680.84 L1231.25,680.78 L1231.50,680.72 L1231.75,680.68 L1232.00,680.65 L1232.25,680.62 L1232.50,680.61 L1232.75,680.61 L1233.00,680.61 L1233.25,680.63 L1233.50,680.65 L1233.75,680.68 L1234.00,680.71 L1234.25,680.75 L1234.50,680.79 L1234.75,680.83 L1235.00,680.87 L1235.25,680.91 L1235.50,680.95 L1235.75,680.99 L1236.00,681.01 L1236.25,681.03 L1236.50,681.04 L1236.75,681.04 L1237.00,681.03 L1237.25,681.00 L1237.50,680.96 L1237.75,680.91 L1238.00,680.83 L1238.25,680.75 L1238.50,680.64 L1238.75,680.51 L1239.00,680.37 L1239.25,680.21 L1239.50,680.03 L1239.75,679.83 L1240.00,679.62 L1240.25,679.39 L1240.50,679.15 L1240.75,678.90 L1241.00,678.63 L1241.25,678.36 L1241.50,678.08 L1241.75,677.79 L1242.00,677.51 L1242.25,677.22 L1242.50,676.94 L1242.75,676.67 L1243.00,676.40 L1243.25,676.15 L1243.50,675.91 L1243.75,675.68 L1244.00,675.48 L1244.25,675.30 L1244.50,675.14 L1244.75,675.00 L1245.00,674.89 L1245.25,674.81 L1245.50,674.76 L1245.75,674.73 L1246.00,674.74 L1246.25,674.77 L1246.50,674.83 L1246.75,674.92 L1247.00,675.04 L1247.25,675.18 L1247.50,675.35 L1247.75,675.53 L1248.00,675.73 L1248.25,675.95 L1248.50,676.18 L1248.75,676.42 L1249.00,676.65 L1249.25,676.89 L1249.50,677.12 L1249.75,677.34 L1250.00,677.54 L1250.25,677.73 L1250.50,677.88 L1250.75,678.01 L1251.00,678.10 L1251.25,678.16 L1251.50,678.17 L1251.75,678.14 L1252.00,678.05 L1252.25,677.92 L1252.50,677.73 L1252.75,677.48 L1253.00,677.18 L1253.25,676.83 L1253.50,676.42 L1253.75,675.96 L1254.00,675.44 L1254.25,674.88 L1254.50,674.28 L1254.75,673.63 L1255.00,672.95 L1255.25,672.25 L1255.50,671.52 L1255.75,670.78 L1256.00,670.03 L1256.25,669.28 L1256.50,668.53 L1256.75,667.81 L1257.00,667.10 L1257.25,666.43 L1257.50,665.80 L1257.75,665.22 L1258.00,664.69 L1258.25,664.22 L1258.50,663.81 L1258.75,663.48 L1259.00,663.22 L1259.25,663.05 L1259.50,662.95 L1259.75,662.93 L1260.00,663.00 L1260.25,663.15 L1260.50,663.37 L1260.75,663.67 L1261.00,664.05 L1261.25,664.49 L1261.50,664.99 L1261.75,665.55 L1262.00,666.15 L1262.25,666.78 L1262.50,667.45 L1262.75,668.13 L1263.00,668.82 L1263.25,669.51 L1263.50,670.18 L1263.75,670.82 L1264.00,671.42 L1264.25,671.97 L1264.50,672.47 L1264.75,672.89 L1265.00,673.22 L1265.25,673.47 L1265.50,673.62 L1265.75,673.66 L1266.00,673.59 L1266.25,673.40 L1266.50,673.10 L1266.75,672.67 L1267.00,672.11 L1267.25,671.44 L1267.50,670.65 L1267.75,669.74 L1268.00,668.72 L1268.25,667.60 L1268.50,666.39 L1268.75,665.09 L1269.00,663.73 L1269.25,662.30 L1269.50,660.84 L1269.75,659.34 L1270.00,657.83 L1270.25,656.32 L1270.50,654.83 L1270.75,653.38 L1271.00,651.98 L1271.25,650.65 L1271.50,649.40 L1271.75,648.25 L1272.00,647.21 L1272.25,646.30 L1272.50,645.53 L1272.75,644.90 L1273.00,644.43 L1273.25,644.13 L1273.50,643.98 L1273.75,644.01 L1274.00,644.20 L1274.25,644.55 L1274.50,645.07 L1274.75,645.74 L1275.00,646.55 L1275.25,647.49 L1275.50,648.56 L1275.75,649.74 L1276.00,651.01 L1276.25,652.35 L1276.50,653.74 L1276.75,655.17 L1277.00,656.61 L1277.25,658.04 L1277.50,659.43 L1277.75,660.77 L1278.00,662.02 L1278.25,663.18 L1278.50,664.20 L1278.75,665.08 L1279.00,665.79 L1279.25,666.31 L1279.50,666.63 L1279.75,666.73 L1280.00,666.61 L1280.25,666.25 L1280.50,665.65 L1280.75,664.80 L1281.00,663.70 L1281.25,662.36 L1281.50,660.79 L1281.75,658.99 L1282.00,656.97 L1282.25,654.76 L1282.50,652.38 L1282.75,649.84 L1283.00,647.17 L1283.25,644.40 L1283.50,641.56 L1283.75,638.68 L1284.00,635.79 L1284.25,632.92 L1284.50,630.11 L1284.75,627.39 L1285.00,624.80 L1285.25,622.36 L1285.50,620.10 L1285.75,618.06 L1286.00,616.26 L1286.25,614.73 L1286.50,613.48 L1286.75,612.53 L1287.00,611.90 L1287.25,611.59 L1287.50,611.60 L1287.75,611.94 L1288.00,612.60 L1288.25,613.58 L1288.50,614.86 L1288.75,616.42 L1289.00,618.24 L1289.25,620.30 L1289.50,622.57 L1289.75,625.01 L1290.00,627.59 L1290.25,630.27 L1290.50,633.01 L1290.75,635.77 L1291.00,638.51 L1291.25,641.17 L1291.50,643.73 L1291.75,646.12 L1292.00,648.32 L1292.25,650.28 L1292.50,651.96 L1292.75,653.33 L1293.00,654.36 L1293.25,655.02 L1293.50,655.28 L1293.75,655.13 L1294.00,654.54 L1294.25,653.53 L1294.50,652.07 L1294.75,650.18 L1295.00,647.86 L1295.25,645.14 L1295.50,642.02 L1295.75,638.55 L1296.00,634.74 L1296.25,630.65 L1296.50,626.31 L1296.75,621.76 L1297.00,617.06 L1297.25,612.26 L1297.50,607.41 L1297.75,602.58 L1298.00,597.81 L1298.25,593.16 L1298.50,588.70 L1298.75,584.47 L1299.00,580.53 L1299.25,576.93 L1299.50,573.71 L1299.75,570.92 L1300.00,568.59 L1300.25,566.76 L1300.50,565.44 L1300.75,564.65 L1301.00,564.40 L1301.25,564.70 L1301.50,565.52 L1301.75,566.88 L1302.00,568.74 L1302.25,571.09 L1302.50,573.90 L1302.75,577.11 L1303.00,580.70 L1303.25,584.60 L1303.50,588.77 L1303.75,593.14 L1304.00,597.64 L1304.25,602.20 L1304.50,606.76 L1304.75,611.24 L1305.00,615.57 L1305.25,619.67 L1305.50,623.46 L1305.75,626.90 L1306.00,629.89 L1306.25,632.39 L1306.50,634.34 L1306.75,635.68 L1307.00,636.38 L1307.25,636.40 L1307.50,635.71 L1307.75,634.29 L1308.00,632.15 L1308.25,629.27 L1308.50,625.68 L1308.75,621.40 L1309.00,616.46 L1309.25,610.91 L1309.50,604.80 L1309.75,598.20 L1310.00,591.17 L1310.25,583.79 L1310.50,576.15 L1310.75,568.34 L1311.00,560.45 L1311.25,552.58 L1311.50,544.83 L1311.75,537.29 L1312.00,530.07 L1312.25,523.25 L1312.50,516.93 L1312.75,511.19 L1313.00,506.12 L1313.25,501.77 L1313.50,498.22 L1313.75,495.50 L1314.00,493.66 L1314.25,492.71 L1314.50,492.66 L1314.75,493.52 L1315.00,495.28 L1315.25,497.91 L1315.50,501.37 L1315.75,505.62 L1316.00,510.60 L1316.25,516.24 L1316.50,522.44 L1316.75,529.13 L1317.00,536.20 L1317.25,543.54 L1317.50,551.04 L1317.75,558.58 L1318.00,566.04 L1318.25,573.30 L1318.50,580.25 L1318.75,586.76 L1319.00,592.72 L1319.25,598.02 L1319.50,602.57 L1319.75,606.27 L1320.00,609.05 L1320.25,610.83 L1320.50,611.56 L1320.75,611.21 L1321.00,609.74 L1321.25,607.14 L1321.50,603.43 L1321.75,598.62 L1322.00,592.76 L1322.25,585.89 L1322.50,578.09 L1322.75,569.45 L1323.00,560.05 L1323.25,550.01 L1323.50,539.46 L1323.75,528.51 L1324.00,517.31 L1324.25,506.01 L1324.50,494.74 L1324.75,483.67 L1325.00,472.92 L1325.25,462.66 L1325.50,453.01 L1325.75,444.12 L1326.00,436.09 L1326.25,429.06 L1326.50,423.10 L1326.75,418.32 L1327.00,414.77 L1327.25,412.50 L1327.50,411.55 L1327.75,411.92 L1328.00,413.61 L1328.25,416.59 L1328.50,420.81 L1328.75,426.22 L1329.00,432.73 L1329.25,440.24 L1329.50,448.65 L1329.75,457.82 L1330.00,467.62 L1330.25,477.89 L1330.50,488.47 L1330.75,499.21 L1331.00,509.93 L1331.25,520.46 L1331.50,530.63 L1331.75,540.28 L1332.00,549.24 L1332.25,557.37 L1332.50,564.52 L1332.75,570.57 L1333.00,575.40 L1333.25,578.93 L1333.50,581.06 L1333.75,581.75 L1334.00,580.95 L1334.25,578.64 L1334.50,574.82 L1334.75,569.53 L1335.00,562.83 L1335.25,554.77 L1335.50,545.47 L1335.75,535.03 L1336.00,523.59 L1336.25,511.29 L1336.50,498.29 L1336.75,484.77 L1337.00,470.91 L1337.25,456.89 L1337.50,442.90 L1337.75,429.13 L1338.00,415.78 L1338.25,403.02 L1338.50,391.04 L1338.75,379.99 L1339.00,370.03 L1339.25,361.29 L1339.50,353.89 L1339.75,347.94 L1340.00,343.50 L1340.25,340.65 L1340.50,339.41 L1340.75,339.78 L1341.00,341.76 L1341.25,345.30 L1341.50,350.36 L1341.75,356.83 L1342.00,364.64 L1342.25,373.64 L1342.50,383.71 L1342.75,394.68 L1343.00,406.39 L1343.25,418.66 L1343.50,431.29 L1343.75,444.09 L1344.00,456.85 L1344.25,469.38 L1344.50,481.49 L1344.75,492.96 L1345.00,503.63 L1345.25,513.32 L1345.50,521.86 L1345.75,529.11 L1346.00,534.94 L1346.25,539.25 L1346.50,541.95 L1346.75,542.98 L1347.00,542.28 L1347.25,539.84 L1347.50,535.66 L1347.75,529.78 L1348.00,522.28 L1348.25,513.23 L1348.50,502.75 L1348.75,490.98 L1349.00,478.07 L1349.25,464.19 L1349.50,449.55 L1349.75,434.33 L1350.00,418.76 L1350.25,403.06 L1350.50,387.45 L1350.75,372.15 L1351.00,357.39 L1351.25,343.39 L1351.50,330.34 L1351.75,318.44 L1352.00,307.87 L1352.25,298.78 L1352.50,291.31 L1352.75,285.58 L1353.00,281.66 L1353.25,279.63 L1353.50,279.50 L1353.75,281.29 L1354.00,284.96 L1354.25,290.44 L1354.50,297.64 L1354.75,306.45 L1355.00,316.75 L1355.25,328.38 L1355.50,341.17 L1355.75,354.92 L1356.00,369.42 L1356.25,384.44 L1356.50,399.77 L1356.75,415.15 L1357.00,430.35 L1357.25,445.11 L1357.50,459.22 L1357.75,472.44 L1358.00,484.54 L1358.25,495.34 L1358.50,504.64 L1358.75,512.28 L1359.00,518.14 L1359.25,522.09 L1359.50,524.05 L1359.75,523.98 L1360.00,521.84 L1360.25,517.66 L1360.50,511.46 L1360.75,503.33 L1361.00,493.38 L1361.25,481.72 L1361.50,468.54 L1361.75,454.03 L1362.00,438.38 L1362.25,421.85 L1362.50,404.66 L1362.75,387.10 L1363.00,369.41 L1363.25,351.88 L1363.50,334.78 L1363.75,318.37 L1364.00,302.91 L1364.25,288.65 L1364.50,275.80 L1364.75,264.57 L1365.00,255.15 L1365.25,248.09 L1365.50,242.84 L1365.75,239.47 L1366.00,238.02 L1366.25,238.52 L1366.50,240.97 L1366.75,245.33 L1367.00,251.53 L1367.25,259.48 L1367.50,269.03 L1367.75,280.06 L1368.00,292.43 L1368.25,305.95 L1368.50,320.44 L1368.75,335.71 L1369.00,351.55 L1369.25,367.73 L1369.50,384.05 L1369.75,400.27 L1370.00,416.18 L1370.25,431.56 L1370.50,446.20 L1370.75,459.89 L1371.00,472.46 L1371.25,483.73 L1371.50,493.55 L1371.75,501.78 L1372.00,508.32 L1372.25,513.06 L1372.50,515.96 L1372.75,516.97 L1373.00,516.07 L1373.25,513.28 L1373.50,508.63 L1373.75,502.20 L1374.00,494.07 L1374.25,484.36 L1374.50,473.20 L1374.75,460.75 L1375.00,447.18 L1375.25,432.68 L1375.50,417.46 L1375.75,401.72 L1376.00,385.69 L1376.25,369.59 L1376.50,353.65 L1376.75,338.09 L1377.00,323.12 L1377.25,308.95 L1377.50,295.79 L1377.75,283.81 L1378.00,273.18 L1378.25,264.05 L1378.50,256.56 L1378.75,250.79 L1379.00,246.84 L1379.25,244.76 L1379.50,244.64 L1379.75,246.51 L1380.00,250.34 L1380.25,256.06 L1380.50,263.59 L1380.75,272.81 L1381.00,283.58 L1381.25,295.72 L1381.50,309.07 L1381.75,323.40 L1382.00,338.53 L1382.25,354.21 L1382.50,370.23 L1382.75,386.34 L1383.00,402.33 L1383.25,417.96 L1383.50,433.02 L1383.75,447.31 L1384.00,460.63 L1384.25,472.81 L1384.50,483.70 L1384.75,493.16 L1385.00,501.09 L1385.25,507.40 L1385.50,512.03 L1385.75,514.96 L1386.00,516.16 L1386.25,515.68 L1386.50,513.57 L1386.75,509.89 L1387.00,504.72 L1387.25,498.17 L1387.50,490.36 L1387.75,481.43 L1388.00,471.52 L1388.25,460.81 L1388.50,449.45 L1388.75,437.62 L1389.00,425.50 L1389.25,413.27 L1389.50,401.11 L1389.75,389.19 L1390.00,377.68 L1390.25,366.74 L1390.50,356.52 L1390.75,347.17 L1391.00,338.80 L1391.25,331.54 L1391.50,325.47 L1391.75,320.73 L1392.00,317.40 L1392.25,315.52 L1392.50,315.13 L1392.75,316.24 L1393.00,318.83 L1393.25,322.87 L1393.50,328.31 L1393.75,335.08 L1394.00,343.08 L1394.25,352.21 L1394.50,362.35 L1394.75,373.35 L1395.00,385.08 L1395.25,398.19 L1395.50,411.74 L1395.75,425.52 L1396.00,439.31 L1396.25,452.89 L1396.50,466.06 L1396.75,478.60 L1397.00,490.33 L1397.25,501.06 L1397.50,510.64 L1397.75,518.91 L1398.00,525.75 L1398.25,531.07 L1398.50,534.83 L1398.75,536.98 L1399.00,537.50 L1399.25,536.40 L1399.50,533.71 L1399.75,529.49 L1400.00,523.81 L1400.25,516.79 L1400.50,508.56 L1400.75,499.25 L1401.00,489.04 L1401.25,478.11 L1401.50,466.64 L1401.75,454.85 L1402.00,442.94 L1402.25,431.12 L1402.50,419.61 L1402.75,408.61 L1403.00,398.32 L1403.25,388.93 L1403.50,380.62 L1403.75,373.53 L1404.00,367.82 L1404.25,363.59 L1404.50,360.94 L1404.75,359.93 L1405.00,360.60 L1405.25,362.96 L1405.50,367.02 L1405.75,372.74 L1406.00,380.04 L1406.25,388.82 L1406.50,398.96 L1406.75,410.31 L1407.00,422.69 L1407.25,435.90 L1407.50,449.73 L1407.75,463.94 L1408.00,478.29 L1408.25,492.53 L1408.50,506.42 L1408.75,519.71 L1409.00,532.16 L1409.25,543.55 L1409.50,553.68 L1409.75,562.37 L1410.00,569.47 L1410.25,574.85 L1410.50,578.43 L1410.75,580.15 L1411.00,580.00 L1411.25,578.01 L1411.50,574.24 L1411.75,568.77 L1412.00,561.71 L1412.25,553.21 L1412.50,543.44 L1412.75,532.59 L1413.00,520.88 L1413.25,508.52 L1413.50,495.76 L1413.75,482.83 L1414.00,469.96 L1414.25,457.39 L1414.50,445.35 L1414.75,434.04 L1415.00,423.67 L1415.25,414.39 L1415.50,406.37 L1415.75,399.73 L1416.00,394.57 L1416.25,390.97 L1416.50,388.95 L1416.75,388.54 L1417.00,389.73 L1417.25,392.48 L1417.50,396.74 L1417.75,402.42 L1418.00,409.44 L1418.25,417.68 L1418.50,427.01 L1418.75,437.31 L1419.00,448.43 L1419.25,460.20 L1419.50,472.46 L1419.75,485.03 L1420.00,497.73 L1420.25,510.40 L1420.50,522.88 L1420.75,535.00 L1421.00,546.61 L1421.25,557.58 L1421.50,567.77 L1421.75,577.09 L1422.00,585.42 L1422.25,592.69 L1422.50,598.82 L1422.75,603.78 L1423.00,607.51 L1423.25,610.02 L1423.50,611.31 L1423.75,611.39 L1424.00,610.31 L1424.25,608.09 L1424.50,604.80 L1424.75,600.51 L1425.00,595.29 L1425.25,589.23 L1425.50,582.45 L1425.75,575.03 L1426.00,567.09 L1426.25,558.75 L1426.50,550.12 L1426.75,541.34 L1427.00,532.51 L1427.25,523.77 L1427.50,515.22 L1427.75,506.99 L1428.00,499.19 L1428.25,491.91 L1428.50,485.27 L1428.75,479.33 L1429.00,474.20 L1429.25,469.93 L1429.50,466.58 L1429.75,464.21 L1430.00,462.84 L1430.25,462.51 L1430.50,463.22 L1430.75,464.97 L1431.00,467.73 L1431.25,471.50 L1431.50,476.25 L1431.75,481.92 L1432.00,488.41 L1432.25,495.65 L1432.50,503.51 L1432.75,511.90 L1433.00,520.70 L1433.25,529.77 L1433.50,539.01 L1433.75,548.28 L1434.00,557.46 L1434.25,566.43 L1434.50,575.08 L1434.75,583.29 L1435.00,590.96 L1435.25,598.00 L1435.50,604.33 L1435.75,609.87 L1436.00,614.57 L1436.25,618.38 L1436.50,621.27 L1436.75,623.23 L1437.00,624.25 L1437.25,624.33 L1437.50,623.52 L1437.75,621.82 L1438.00,619.30 L1438.25,616.01 L1438.50,612.02 L1438.75,607.39 L1439.00,602.21 L1439.25,596.56 L1439.50,590.54 L1439.75,584.23 L1440.00,577.73 L1440.25,571.14 L1440.50,564.55 L1440.75,558.04 L1441.00,551.71 L1441.25,545.64 L1441.50,539.91 L1441.75,534.59 L1442.00,529.75 L1442.25,525.44 L1442.50,521.72 L1442.75,518.63 L1443.00,516.20 L1443.25,514.47 L1443.50,513.45 L1443.75,513.20 L1444.00,513.74 L1444.25,515.04 L1444.50,517.11 L1444.75,519.90 L1445.00,523.38 L1445.25,527.50 L1445.50,532.19 L1445.75,537.39 L1446.00,543.01 L1446.25,548.99 L1446.50,555.22 L1446.75,561.61 L1447.00,568.07 L1447.25,574.50 L1447.50,580.79 L1447.75,586.85 L1448.00,592.59 L1448.25,597.90 L1448.50,602.70 L1448.75,606.91 L1449.00,610.46 L1449.25,613.29 L1449.50,615.33 L1449.75,616.56 L1450.00,616.93 L1450.25,616.44 L1450.50,615.08 L1450.75,612.87 L1451.00,609.84 L1451.25,606.01 L1451.50,601.46 L1451.75,596.24 L1452.00,590.43 L1452.25,584.13 L1452.50,577.44 L1452.75,570.46 L1453.00,563.31 L1453.25,556.11 L1453.50,548.98 L1453.75,542.05 L1454.00,535.43 L1454.25,529.24 L1454.50,523.60 L1454.75,518.60 L1455.00,514.34 L1455.25,510.91 L1455.50,508.37 L1455.75,506.78 L1456.00,506.16 L1456.25,506.54 L1456.50,507.93 L1456.75,510.31 L1457.00,513.65 L1457.25,517.91 L1457.50,523.01 L1457.75,528.90 L1458.00,535.47 L1458.25,542.63 L1458.50,550.27 L1458.75,558.26 L1459.00,566.48 L1459.25,574.79 L1459.50,583.07 L1459.75,591.16 L1460.00,598.94 L1460.25,606.28 L1460.50,613.05 L1460.75,619.13 L1461.00,624.42 L1461.25,628.82 L1461.50,632.24 L1461.75,634.63 L1462.00,635.93 L1462.25,636.11 L1462.50,635.18 L1462.75,633.13 L1463.00,630.00 L1463.25,625.81 L1463.50,620.64 L1463.75,614.56 L1464.00,607.66 L1464.25,600.06 L1464.50,591.88 L1464.75,583.26 L1465.00,574.34 L1465.25,565.28 L1465.50,556.25 L1465.75,547.40 L1466.00,538.90 L1466.25,530.91 L1466.50,523.59 L1466.75,517.08 L1467.00,511.51 L1467.25,507.02 L1467.50,503.71 L1467.75,501.64 L1468.00,500.89 L1468.25,501.49 L1468.50,503.47 L1468.75,506.81 L1469.00,511.48 L1469.25,517.42 L1469.50,524.52 L1469.75,532.67 L1470.00,541.72 L1470.25,551.50 L1470.50,561.83 L1470.75,572.50 L1471.00,583.30 L1471.25,593.99 L1471.50,604.36 L1471.75,614.18 L1472.00,623.23 L1472.25,631.31 L1472.50,638.23 L1472.75,643.83 L1473.00,647.97 L1473.25,650.54 L1473.50,651.49 L1473.75,650.77 L1474.00,648.38 L1474.25,644.36 L1474.50,638.79 L1474.75,631.77 L1475.00,623.45 L1475.25,614.00 L1475.50,603.63 L1475.75,592.55 L1476.00,581.00 L1476.25,569.25 L1476.50,557.55 L1476.75,546.17 L1477.00,535.35 L1477.25,525.34 L1477.50,516.36 L1477.75,508.61 L1478.00,502.28 L1478.25,497.50 L1478.50,494.38 L1478.75,492.99 L1479.00,493.37 L1479.25,495.50 L1479.50,499.37 L1479.75,504.91 L1480.00,512.00 L1480.25,520.49 L1480.50,530.20 L1480.75,540.90 L1481.00,552.38 L1481.25,564.37 L1481.50,576.62 L1481.75,588.86 L1482.00,600.81 L1482.25,612.23 L1482.50,622.85 L1482.75,632.46 L1483.00,640.85 L1483.25,647.84 L1483.50,653.30 L1483.75,657.10 L1484.00,659.18 L1484.25,659.51 L1484.50,658.10 L1484.75,655.00 L1485.00,650.31 L1485.25,644.13 L1485.50,636.63 L1485.75,627.98 L1486.00,618.40 L1486.25,608.11 L1486.50,597.34 L1486.75,586.36 L1487.00,575.40 L1487.25,564.73 L1487.50,554.59 L1487.75,545.19 L1488.00,536.76 L1488.25,529.47 L1488.50,523.50 L1488.75,518.95 L1489.00,515.95 L1489.25,514.54 L1489.50,514.75 L1489.75,516.56 L1490.00,519.98 L1490.25,524.96 L1490.50,531.39 L1490.75,539.10 L1491.00,547.90 L1491.25,557.58 L1491.50,567.91 L1491.75,578.64 L1492.00,589.54 L1492.25,600.34 L1492.50,610.82 L1492.75,620.75 L1493.00,629.92 L1493.25,638.15 L1493.50,645.28 L1493.75,651.19 L1494.00,655.79 L1494.25,659.01 L1494.50,660.84 L1494.75,661.28 L1495.00,660.37 L1495.25,658.19 L1495.50,654.83 L1495.75,650.41 L1496.00,645.08 L1496.25,639.00 L1496.50,632.32 L1496.75,625.24 L1497.00,617.92 L1497.25,610.55 L1497.50,603.29 L1497.75,596.32 L1498.00,589.78 L1498.25,583.80 L1498.50,578.52 L1498.75,574.03 L1499.00,570.42 L1499.25,567.74 L1499.50,566.05 L1499.75,565.36 L1500.00,565.69 L1500.25,567.00 L1500.50,569.28 L1500.75,572.46 L1501.00,576.53 L1501.25,581.45 L1501.50,587.13 L1501.75,593.43 L1502.00,600.21 L1502.25,607.32 L1502.50,614.58 L1502.75,621.83 L1503.00,628.91 L1503.25,635.65 L1503.50,641.88 L1503.75,647.47 L1504.00,652.28 L1504.25,656.20 L1504.50,659.14 L1504.75,661.01 L1505.00,661.78 L1505.25,661.42 L1505.50,659.93 L1505.75,657.36 L1506.00,653.73 L1506.25,649.10 L1506.50,643.58 L1506.75,637.30 L1507.00,630.44 L1507.25,623.15 L1507.50,615.61 L1507.75,608.01 L1508.00,600.53 L1508.25,593.36 L1508.50,586.67 L1508.75,580.60 L1509.00,575.30 L1509.25,570.89 L1509.50,567.45 L1509.75,565.06 L1510.00,563.76 L1510.25,563.54 L1510.50,564.40 L1510.75,566.29 L1511.00,569.14 L1511.25,572.86 L1511.50,577.27 L1511.75,582.24 L1512.00,587.64 L1512.25,593.34 L1512.50,599.21 L1512.75,605.09 L1513.00,610.86 L1513.25,616.35 L1513.50,621.45 L1513.75,626.01 L1514.00,629.92 L1514.25,633.07 L1514.50,635.38 L1514.75,636.75 L1515.00,637.14 L1515.25,636.51 L1515.50,634.84 L1515.75,632.12 L1516.00,628.36 L1516.25,623.63 L1516.50,618.01 L1516.75,611.60 L1517.00,604.52 L1517.25,596.93 L1517.50,588.97 L1517.75,580.82 L1518.00,572.65 L1518.25,564.65 L1518.50,557.00 L1518.75,549.86 L1519.00,543.40 L1519.25,537.75 L1519.50,533.04 L1519.75,529.37 L1520.00,526.79 L1520.25,525.36 L1520.50,525.08 L1520.75,525.92 L1521.00,527.83 L1521.25,530.72 L1521.50,534.46 L1521.75,538.90 L1522.00,543.88 L1522.25,549.21 L1522.50,554.73 L1522.75,560.26 L1523.00,565.61 L1523.25,570.61 L1523.50,575.10 L1523.75,578.95 L1524.00,582.02 L1524.25,584.22 L1524.50,585.48 L1524.75,585.75 L1525.00,585.01 L1525.25,583.28 L1525.50,580.58 L1525.75,577.00 L1526.00,572.60 L1526.25,567.40 L1526.50,561.43 L1526.75,554.90 L1527.00,548.03 L1527.25,541.03 L1527.50,534.11 L1527.75,527.44 L1528.00,521.19 L1528.25,515.48 L1528.50,510.42 L1528.75,506.05 L1529.00,502.40 L1529.25,499.44 L1529.50,497.15 L1529.75,495.45 L1530.00,494.25 L1530.25,493.46 L1530.50,492.97 L1530.75,492.70 L1531.00,492.57 L1531.25,492.51 L1531.50,492.47 L1531.75,492.42 L1532.00,492.38 L1532.25,492.36 L1532.50,492.39 L1532.75,492.55 L1533.00,492.89 L1533.25,493.35 L1533.50,493.79 L1533.75,494.18 L1534.00,494.46 L1534.25,494.62 L1534.50,494.60 L1534.75,494.38 L1535.00,493.90 L1535.25,493.15 L1535.50,492.09 L1535.75,490.72 L1536.00,489.00 L1536.25,486.95 L1536.50,484.56 L1536.75,481.87 L1537.00,478.89 L1537.25,475.67 L1537.50,472.26 L1537.75,468.73 L1538.00,465.13 L1538.25,461.55 L1538.50,458.08 L1538.75,454.77 L1539.00,451.70 L1539.25,448.95 L1539.50,446.59 L1539.75,444.71 L1540.00,443.37 L1540.25,442.64 L1540.50,442.54 L1540.75,443.10 L1541.00,444.33 L1541.25,446.20 L1541.50,448.69 L1541.75,451.72 L1542.00,455.21 L1542.25,459.04 L1542.50,463.10 L1542.75,467.24 L1543.00,471.29 L1543.25,475.11 L1543.50,478.51 L1543.75,481.34 L1544.00,483.45 L1544.25,484.70 L1544.50,484.96 L1544.75,484.14 L1545.00,482.18 L1545.25,479.06 L1545.50,474.77 L1545.75,469.36 L1546.00,462.93 L1546.25,455.58 L1546.50,447.48 L1546.75,438.81 L1547.00,429.79 L1547.25,420.65 L1547.50,411.64 L1547.75,403.02 L1548.00,395.03 L1548.25,387.91 L1548.50,381.82 L1548.75,376.96 L1549.00,373.48 L1549.25,371.50 L1549.50,371.11 L1549.75,372.33 L1550.00,375.18 L1550.25,379.57 L1550.50,385.42 L1550.75,392.55 L1551.00,400.78 L1551.25,409.86 L1551.50,419.52 L1551.75,429.46 L1552.00,439.35 L1552.25,448.86 L1552.50,457.68 L1552.75,465.49 L1553.00,472.01 L1553.25,476.98 L1553.50,480.18 L1553.75,481.47 L1554.00,480.73 L1554.25,477.92 L1554.50,473.06 L1554.75,466.22 L1555.00,457.57 L1555.25,447.29 L1555.50,435.66 L1555.75,422.98 L1556.00,409.60 L1556.25,395.89 L1556.50,382.24 L1556.75,369.04 L1557.00,356.68 L1557.25,345.54 L1557.50,335.94 L1557.75,328.17 L1558.00,322.48 L1558.25,318.98 L1558.50,317.77 L1558.75,318.90 L1559.00,322.33 L1559.25,327.98 L1559.50,335.69 L1559.75,345.25 L1560.00,356.36 L1560.25,368.72 L1560.50,381.96 L1560.75,395.69 L1561.00,409.49 L1561.25,422.93 L1561.50,435.60 L1561.75,447.11 L1562.00,457.07 L1562.25,465.18 L1562.50,471.15 L1562.75,474.78 L1563.00,475.92 L1563.25,474.52 L1563.50,470.57 L1563.75,464.18 L1564.00,455.51 L1564.25,444.79 L1564.50,432.34 L1564.75,418.52 L1565.00,403.73 L1565.25,388.41 L1565.50,373.04 L1565.75,358.08 L1566.00,344.00 L1566.25,331.23 L1566.50,320.18 L1566.75,311.20 L1567.00,304.58 L1567.25,300.55 L1567.50,299.23 L1567.75,300.69 L1568.00,304.91 L1568.25,311.82 L1568.50,321.19 L1568.75,332.73 L1569.00,346.07 L1569.25,360.80 L1569.50,376.44 L1569.75,392.49 L1570.00,408.46 L1570.25,423.84 L1570.50,438.16 L1570.75,450.99 L1571.00,461.93 L1571.25,470.70 L1571.50,477.07 L1571.75,480.88 L1572.00,482.05 L1572.25,480.57 L1572.50,476.55 L1572.75,470.15 L1573.00,461.61 L1573.25,451.25 L1573.50,439.43 L1573.75,426.57 L1574.00,413.10 L1574.25,399.49 L1574.50,386.18 L1574.75,373.63 L1575.00,362.26 L1575.25,352.43 L1575.50,344.49 L1575.75,338.69 L1576.00,335.23 L1576.25,334.22 L1576.50,335.71 L1576.75,339.65 L1577.00,345.93 L1577.25,354.36 L1577.50,364.71 L1577.75,376.73 L1578.00,390.01 L1578.25,404.12 L1578.50,418.58 L1578.75,432.93 L1579.00,446.71 L1579.25,459.48 L1579.50,470.85 L1579.75,480.49 L1580.00,488.14 L1580.25,493.61 L1580.50,496.82 L1580.75,497.76 L1581.00,496.50 L1581.25,493.16 L1581.50,487.93 L1581.75,481.06 L1582.00,472.85 L1582.25,463.61 L1582.50,453.70 L1582.75,443.49 L1583.00,433.31 L1583.25,423.53 L1583.50,414.45 L1583.75,406.36 L1584.00,399.51 L1584.25,394.10 L1584.50,390.28 L1584.75,388.14 L1585.00,387.74 L1585.25,389.08 L1585.50,392.08 L1585.75,396.67 L1586.00,402.68 L1586.25,410.01 L1586.50,418.48 L1586.75,427.82 L1587.00,437.70 L1587.25,447.80 L1587.50,457.78 L1587.75,467.31 L1588.00,476.06 L1588.25,483.74 L1588.50,490.09 L1588.75,494.89 L1589.00,497.98 L1589.25,499.26 L1589.50,498.69 L1589.75,496.23 L1590.00,491.93 L1590.25,485.95 L1590.50,478.51 L1590.75,469.92 L1591.00,460.47 L1591.25,450.53 L1591.50,440.44 L1591.75,430.59 L1592.00,421.30 L1592.25,412.89 L1592.50,405.65 L1592.75,399.80 L1593.00,395.51 L1593.25,392.88 L1593.50,391.96 L1593.75,392.74 L1594.00,395.12 L1594.25,398.96 L1594.50,404.09 L1594.75,410.22 L1595.00,417.08 L1595.25,424.42 L1595.50,431.97 L1595.75,439.46 L1596.00,446.64 L1596.25,453.24 L1596.50,459.06 L1596.75,463.88 L1597.00,467.53 L1597.25,469.89 L1597.50,470.86 L1597.75,470.39 L1598.00,468.46 L1598.25,465.13 L1598.50,460.46 L1598.75,454.58 L1599.00,447.61 L1599.25,439.75 L1599.50,431.24 L1599.75,422.36 L1600.00,413.43 L1600.25,404.75 L1600.50,396.63 L1600.75,389.35 L1601.00,383.18 L1601.25,378.35 L1601.50,375.04 L1601.75,373.35 L1602.00,373.37 L1602.25,375.11 L1602.50,378.56 L1602.75,383.58 L1603.00,389.95 L1603.25,397.40 L1603.50,405.64 L1603.75,414.31 L1604.00,423.05 L1604.25,431.47 L1604.50,439.19 L1604.75,445.87 L1605.00,451.22 L1605.25,454.99 L1605.50,457.02 L1605.75,457.23 L1606.00,455.61 L1606.25,452.25 L1606.50,447.31 L1606.75,440.99 L1607.00,433.58 L1607.25,425.39 L1607.50,416.75 L1607.75,407.99 L1608.00,399.43 L1608.25,391.37 L1608.50,384.07 L1608.75,377.74 L1609.00,372.55 L1609.25,368.60 L1609.50,365.96 L1609.75,364.60 L1610.00,364.50 L1610.25,365.57 L1610.50,367.74 L1610.75,370.90 L1611.00,374.94 L1611.25,379.74 L1611.50,385.18 L1611.75,391.11 L1612.00,397.36 L1612.25,403.81 L1612.50,410.29 L1612.75,416.69 L1613.00,422.87 L1613.25,428.74 L1613.50,434.19 L1613.75,439.14 L1614.00,443.52 L1614.25,447.28 L1614.50,450.38 L1614.75,452.80 L1615.00,454.50 L1615.25,455.51 L1615.50,455.81 L1615.75,455.43 L1616.00,454.41 L1616.25,452.76 L1616.50,450.54 L1616.75,447.79 L1617.00,444.58 L1617.25,440.95 L1617.50,436.97 L1617.75,432.72 L1618.00,428.25 L1618.25,423.65 L1618.50,418.97 L1618.75,414.30 L1619.00,409.70 L1619.25,405.25 L1619.50,401.02 L1619.75,397.07 L1620.00,393.48 L1620.25,390.31 L1620.50,387.62 L1620.75,385.47 L1621.00,383.91 L1621.25,382.98 L1621.50,382.73 L1621.75,383.17 L1622.00,384.31 L1622.25,386.18 L1622.50,388.76 L1622.75,391.99 L1623.00,395.82 L1623.25,400.18 L1623.50,404.99 L1623.75,410.15 L1624.00,415.55 L1624.25,421.07 L1624.50,426.61 L1624.75,432.03 L1625.00,437.21 L1625.25,442.04 L1625.50,446.39 L1625.75,450.18 L1626.00,453.28 L1626.25,455.64 L1626.50,457.18 L1626.75,457.88 L1627.00,457.80 L1627.25,456.95 L1627.50,455.30 L1627.75,452.88 L1628.00,449.71 L1628.25,445.82 L1628.50,441.27 L1628.75,436.16 L1629.00,430.57 L1629.25,424.62 L1629.50,418.44 L1629.75,412.19 L1630.00,406.02 L1630.25,400.10 L1630.50,394.61 L1630.75,389.73 L1631.00,385.62 L1631.25,382.44 L1631.50,380.34 L1631.75,379.43 L1632.00,379.82 L1632.25,381.62 L1632.50,384.88 L1632.75,389.60 L1633.00,395.70 L1633.25,403.09 L1633.50,411.61 L1633.75,421.06 L1634.00,431.22 L1634.25,441.83 L1634.50,452.62 L1634.75,463.30 L1635.00,473.56 L1635.25,483.13 L1635.50,491.74 L1635.75,499.13 L1636.00,505.10 L1636.25,509.49 L1636.50,512.17 L1636.75,513.14 L1637.00,512.41 L1637.25,510.02 L1637.50,506.07 L1637.75,500.71 L1638.00,494.10 L1638.25,486.48 L1638.50,478.10 L1638.75,469.24 L1639.00,460.18 L1639.25,451.22 L1639.50,442.66 L1639.75,434.77 L1640.00,427.83 L1640.25,422.07 L1640.50,417.69 L1640.75,414.85 L1641.00,413.67 L1641.25,414.21 L1641.50,416.50 L1641.75,420.56 L1642.00,426.32 L1642.25,433.65 L1642.50,442.38 L1642.75,452.27 L1643.00,463.06 L1643.25,474.45 L1643.50,486.10 L1643.75,497.67 L1644.00,508.83 L1644.25,519.24 L1644.50,528.58 L1644.75,536.60 L1645.00,543.04 L1645.25,547.74 L1645.50,550.57 L1645.75,551.46 L1646.00,550.42 L1646.25,547.53 L1646.50,542.92 L1646.75,536.78 L1647.00,529.38 L1647.25,520.99 L1647.50,511.94 L1647.75,502.57 L1648.00,493.22 L1648.25,484.23 L1648.50,475.94 L1648.75,468.63 L1649.00,462.56 L1649.25,457.95 L1649.50,454.95 L1649.75,453.67 L1650.00,454.14 L1650.25,456.38 L1650.50,460.31 L1650.75,465.84 L1651.00,472.79 L1651.25,480.95 L1651.50,490.09 L1651.75,499.92 L1652.00,510.18 L1652.25,520.56 L1652.50,530.77 L1652.75,540.54 L1653.00,549.61 L1653.25,557.75 L1653.50,564.78 L1653.75,570.52 L1654.00,574.89 L1654.25,577.80 L1654.50,579.25 L1654.75,579.25 L1655.00,577.89 L1655.25,575.28 L1655.50,571.56 L1655.75,566.91 L1656.00,561.52 L1656.25,555.58 L1656.50,549.32 L1656.75,542.97 L1657.00,536.73 L1657.25,530.83 L1657.50,525.47 L1657.75,520.83 L1658.00,517.08 L1658.25,514.36 L1658.50,512.76 L1658.75,512.36 L1659.00,513.20 L1659.25,515.30 L1659.50,518.64 L1659.75,523.15 L1660.00,528.73 L1660.25,535.24 L1660.50,542.52 L1660.75,550.40 L1661.00,558.67 L1661.25,567.13 L1661.50,575.56 L1661.75,583.76 L1662.00,591.53 L1662.25,598.67 L1662.50,605.01 L1662.75,610.42 L1663.00,614.78 L1663.25,617.99 L1663.50,620.02 L1663.75,620.84 L1664.00,620.51 L1664.25,619.10 L1664.50,616.69 L1664.75,613.39 L1665.00,609.34 L1665.25,604.70 L1665.50,599.61 L1665.75,594.27 L1666.00,588.85 L1666.25,583.54 L1666.50,578.49 L1666.75,573.88 L1667.00,569.86 L1667.25,566.56 L1667.50,564.08 L1667.75,562.50 L1668.00,561.89 L1668.25,562.27 L1668.50,563.65 L1668.75,565.99 L1669.00,569.24 L1669.25,573.31 L1669.50,578.09 L1669.75,583.47 L1670.00,589.30 L1670.25,595.42 L1670.50,601.67 L1670.75,607.90 L1671.00,613.92 L1671.25,619.60 L1671.50,624.79 L1671.75,629.36 L1672.00,633.21 L1672.25,636.25 L1672.50,638.42 L1672.75,639.70 L1673.00,640.06 L1673.25,639.54 L1673.50,638.18 L1673.75,636.05 L1674.00,633.25 L1674.25,629.88 L1674.50,626.09 L1674.75,622.00 L1675.00,617.76 L1675.25,613.53 L1675.50,609.45 L1675.75,605.67 L1676.00,602.30 L1676.25,599.46 L1676.50,597.26 L1676.75,595.76 L1677.00,595.01 L1677.25,595.05 L1677.50,595.86 L1677.75,597.44 L1678.00,599.73 L1678.25,602.67 L1678.50,606.16 L1678.75,610.12 L1679.00,614.43 L1679.25,618.96 L1679.50,623.58 L1679.75,628.19 L1680.00,632.64 L1680.25,636.84 L1680.50,640.68 L1680.75,644.07 L1681.00,646.94 L1681.25,649.23 L1681.50,650.93 L1681.75,652.00 L1682.00,652.46 L1682.25,652.33 L1682.50,651.65 L1682.75,650.47 L1683.00,648.88 L1683.25,646.94 L1683.50,644.74 L1683.75,642.38 L1684.00,639.94 L1684.25,637.53 L1684.50,635.22 L1684.75,633.09 L1685.00,631.22 L1685.25,629.66 L1685.50,628.48 L1685.75,627.69 L1686.00,627.33 L1686.25,627.40 L1686.50,627.90 L1686.75,628.82 L1687.00,630.13 L1687.25,631.81 L1687.50,633.79 L1687.75,636.02 L1688.00,638.44 L1688.25,640.99 L1688.50,643.60 L1688.75,646.21 L1689.00,648.74 L1689.25,651.14 L1689.50,653.36 L1689.75,655.34 L1690.00,657.06 L1690.25,658.48 L1690.50,659.59 L1690.75,660.36 L1691.00,660.81 L1691.25,660.94 L1691.50,660.77 L1691.75,660.33 L1692.00,659.66 L1692.25,658.78 L1692.50,657.75 L1692.75,656.61 L1693.00,655.40 L1693.25,654.19 L1693.50,653.02 L1693.75,651.92 L1694.00,650.95 L1694.25,650.14 L1694.50,649.51 L1694.75,649.10 L1695.00,648.91 L1695.25,648.95 L1695.50,649.23 L1695.75,649.74 L1696.00,650.47 L1696.25,651.40 L1696.50,652.49 L1696.75,653.73 L1697.00,655.07 L1697.25,656.47 L1697.50,657.91 L1697.75,659.34 L1698.00,660.72 L1698.25,662.02 L1698.50,663.22 L1698.75,664.29 L1699.00,665.21 L1699.25,665.96 L1699.50,666.54 L1699.75,666.95 L1700.00,667.20 L1700.25,667.29 L1700.50,667.24 L1700.75,667.06 L1701.00,666.79" fill="none" stroke="#ff0000" stroke-width="6" stroke-linejoin="round"/>
<path d="M1700.00,667.20 L1700.25,667.29 L1700.50,667.24 L1700.75,667.06 L1701.00,666.79 L1701.25,666.44 L1701.50,666.03 L1701.75,665.60 L1702.00,665.17 L1702.25,664.76 L1702.50,664.38 L1702.75,664.07 L1703.00,663.82 L1703.25,663.66 L1703.50,663.59 L1703.75,663.61 L1704.00,663.72 L1704.25,663.92 L1704.50,664.21 L1704.75,664.57 L1705.00,665.00 L1705.25,665.49 L1705.50,666.03 L1705.75,666.60 L1706.00,667.18 L1706.25,667.77 L1706.50,668.34 L1706.75,668.89 L1707.00,669.41 L1707.25,669.90 L1707.50,670.36 L1707.75,670.78 L1708.00,671.14 L1708.25,671.45 L1708.50,671.69 L1708.75,671.87 L1709.00,671.99 L1709.25,672.04 L1709.50,672.04 L1709.75,671.98 L1710.00,671.88 L1710.25,671.75 L1710.50,671.59 L1710.75,671.41 L1711.00,671.23 L1711.25,671.06 L1711.50,670.91 L1711.75,670.78 L1712.00,670.70 L1712.25,670.65 L1712.50,670.66 L1712.75,670.73 L1713.00,670.85 L1713.25,671.03 L1713.50,671.26 L1713.75,671.55 L1714.00,671.88 L1714.25,672.25 L1714.50,672.66 L1714.75,673.08 L1715.00,673.51 L1715.25,673.95 L1715.50,674.37 L1715.75,674.77 L1716.00,675.14 L1716.25,675.47 L1716.50,675.75 L1716.75,675.99 L1717.00,676.17 L1717.25,676.29 L1717.50,676.36 L1717.75,676.38 L1718.00,676.35 L1718.25,676.28 L1718.50,676.20 L1718.75,676.10 L1719.00,675.98 L1719.25,675.85 L1719.50,675.72 L1719.75,675.61 L1720.00,675.51 L1720.25,675.45 L1720.50,675.42 L1720.75,675.43 L1721.00,675.49 L1721.25,675.60 L1721.50,675.75 L1721.75,675.94 L1722.00,676.18 L1722.25,676.46 L1722.50,676.76 L1722.75,677.10 L1723.00,677.45 L1723.25,677.81 L1723.50,678.17 L1723.75,678.52 L1724.00,678.86 L1724.25,679.17 L1724.50,679.45 L1724.75,679.70 L1725.00,679.90 L1725.25,680.06 L1725.50,680.18 L1725.75,680.25 L1726.00,680.28 L1726.25,680.26 L1726.50,680.21 L1726.75,680.14 L1727.00,680.03 L1727.25,679.92 L1727.50,679.79 L1727.75,679.66 L1728.00,679.54 L1728.25,679.43 L1728.50,679.35 L1728.75,679.29 L1729.00,679.26 L1729.25,679.26 L1729.50,679.30 L1729.75,679.37 L1730.00,679.48 L1730.25,679.63 L1730.50,679.81 L1730.75,680.01 L1731.00,680.23 L1731.25,680.47 L1731.50,680.72 L1731.75,680.97 L1732.00,681.22 L1732.25,681.45 L1732.50,681.66 L1732.75,681.85 L1733.00,682.01 L1733.25,682.14 L1733.50,682.24 L1733.75,682.30 L1734.00,682.33 L1734.25,682.32 L1734.50,682.28 L1734.75,682.21 L1735.00,682.11 L1735.25,682.00 L1735.50,681.88 L1735.75,681.74 L1736.00,681.61 L1736.25,681.48 L1736.50,681.36 L1736.75,681.26 L1737.00,681.17 L1737.25,681.12 L1737.50,681.09 L1737.75,681.09 L1738.00,681.12 L1738.25,681.18 L1738.50,681.27 L1738.75,681.38 L1739.00,681.52 L1739.25,681.68 L1739.50,681.86 L1739.75,682.04 L1740.00,682.23 L1740.25,682.42 L1740.50,682.61 L1740.75,682.78 L1741.00,682.94 L1741.25,683.08 L1741.50,683.19 L1741.75,683.29 L1742.00,683.35 L1742.25,683.39 L1742.50,683.41 L1742.75,683.39 L1743.00,683.36 L1743.25,683.30 L1743.50,683.23 L1743.75,683.14 L1744.00,683.05 L1744.25,682.95 L1744.50,682.85 L1744.75,682.75 L1745.00,682.66 L1745.25,682.59 L1745.50,682.53 L1745.75,682.50 L1746.00,682.48 L1746.25,682.49 L1746.50,682.51 L1746.75,682.56 L1747.00,682.63 L1747.25,682.72 L1747.50,682.83 L1747.75,682.95 L1748.00,683.08 L1748.25,683.22 L1748.50,683.35 L1748.75,683.49 L1749.00,683.62 L1749.25,683.74 L1749.50,683.86 L1749.75,683.95 L1750.00,684.04 L1750.25,684.10 L1750.50,684.15 L1750.75,684.18 L1751.00,684.19 L1751.25,684.19 L1751.50,684.17 L1751.75,684.14 L1752.00,684.10 L1752.25,684.05 L1752.50,684.00 L1752.75,683.95 L1753.00,683.90 L1753.25,683.86 L1753.50,683.82 L1753.75,683.79 L1754.00,683.77 L1754.25,683.76 L1754.50,683.76 L1754.75,683.78 L1755.00,683.81 L1755.25,683.85 L1755.50,683.90 L1755.75,683.96 L1756.00,684.03 L1756.25,684.10 L1756.50,684.18 L1756.75,684.25 L1757.00,684.33 L1757.25,684.40 L1757.50,684.47 L1757.75,684.54 L1758.00,684.59 L1758.25,684.64 L1758.50,684.68 L1758.75,684.71 L1759.00,684.73 L1759.25,684.75 L1759.50,684.75 L1759.75,684.75 L1760.00,684.75 L1760.25,684.74 L1760.50,684.73 L1760.75,684.72 L1761.00,684.71 L1761.25,684.70 L1761.50,684.69 L1761.75,684.69 L1762.00,684.69 L1762.25,684.69 L1762.50,684.70 L1762.75,684.72 L1763.00,684.73 L1763.25,684.76 L1763.50,684.78 L1763.75,684.80 L1764.00,684.83 L1764.25,684.86 L1764.50,684.88 L1764.75,684.90 L1765.00,684.92 L1765.25,684.94 L1765.50,684.95 L1765.75,684.97 L1766.00,684.98 L1766.25,685.00 L1766.50,685.01 L1766.75,685.02 L1767.00,685.04 L1767.25,685.05 L1767.50,685.07 L1767.75,685.08 L1768.00,685.09 L1768.25,685.11 L1768.50,685.12 L1768.75,685.13 L1769.00,685.14 L1769.25,685.16 L1769.50,685.17 L1769.75,685.18 L1770.00,685.20 L1770.25,685.21 L1770.50,685.22 L1770.75,685.23 L1771.00,685.25 L1771.25,685.26 L1771.50,685.27 L1771.75,685.28 L1772.00,685.29 L1772.25,685.30 L1772.50,685.32 L1772.75,685.33 L1773.00,685.34 L1773.25,685.35 L1773.50,685.36 L1773.75,685.37 L1774.00,685.38 L1774.25,685.40 L1774.50,685.41 L1774.75,685.42 L1775.00,685.43 L1775.25,685.44 L1775.50,685.45 L1775.75,685.46 L1776.00,685.47 L1776.25,685.48 L1776.50,685.49 L1776.75,685.50 L1777.00,685.51 L1777.25,685.52 L1777.50,685.53 L1777.75,685.54 L1778.00,685.55 L1778.25,685.56 L1778.50,685.57 L1778.75,685.58 L1779.00,685.59 L1779.25,685.60 L1779.50,685.61 L1779.75,685.62 L1780.00,685.63 L1780.25,685.64 L1780.50,685.65 L1780.75,685.66 L1781.00,685.66 L1781.25,685.67 L1781.50,685.68 L1781.75,685.69 L1782.00,685.70 L1782.25,685.71 L1782.50,685.72 L1782.75,685.73 L1783.00,685.73 L1783.25,685.74 L1783.50,685.75 L1783.75,685.76 L1784.00,685.77 L1784.25,685.78 L1784.50,685.78 L1784.75,685.79 L1785.00,685.80 L1785.25,685.81 L1785.50,685.82 L1785.75,685.82 L1786.00,685.83 L1786.25,685.84 L1786.50,685.85 L1786.75,685.85 L1787.00,685.86 L1787.25,685.87 L1787.50,685.87 L1787.75,685.88 L1788.00,685.89 L1788.25,685.90 L1788.50,685.90 L1788.75,685.91 L1789.00,685.92 L1789.25,685.92 L1789.50,685.93 L1789.75,685.94 L1790.00,685.94 L1790.25,685.95 L1790.50,685.96 L1790.75,685.96 L1791.00,685.97 L1791.25,685.98 L1791.50,685.98 L1791.75,685.99 L1792.00,686.00 L1792.25,686.00 L1792.50,686.01 L1792.75,686.02 L1793.00,686.02 L1793.25,686.03 L1793.50,686.03 L1793.75,686.04 L1794.00,686.05 L1794.25,686.05 L1794.50,686.06 L1794.75,686.07 L1795.00,686.07 L1795.25,686.08 L1795.50,686.09 L1795.75,686.09 L1796.00,686.10 L1796.25,686.10 L1796.50,686.11 L1796.75,686.12 L1797.00,686.12 L1797.25,686.13 L1797.50,686.14 L1797.75,686.14 L1798.00,686.15 L1798.25,686.15 L1798.50,686.16 L1798.75,686.17 L1799.00,686.17 L1799.25,686.18 L1799.50,686.19 L1799.75,686.19 L1800.00,686.20 L1800.25,686.21 L1800.50,686.21 L1800.75,686.22 L1801.00,686.23 L1801.25,686.23 L1801.50,686.24 L1801.75,686.25 L1802.00,686.25 L1802.25,686.26 L1802.50,686.26 L1802.75,686.27 L1803.00,686.28 L1803.25,686.28 L1803.50,686.29 L1803.75,686.30 L1804.00,686.30 L1804.25,686.31 L1804.50,686.32 L1804.75,686.32 L1805.00,686.33 L1805.25,686.33 L1805.50,686.34 L1805.75,686.35 L1806.00,686.35 L1806.25,686.36 L1806.50,686.37 L1806.75,686.37 L1807.00,686.38 L1807.25,686.38 L1807.50,686.39 L1807.75,686.40 L1808.00,686.40 L1808.25,686.41 L1808.50,686.42 L1808.75,686.42 L1809.00,686.43 L1809.25,686.43 L1809.50,686.44 L1809.75,686.45 L1810.00,686.45 L1810.25,686.46 L1810.50,686.46" fill="none" stroke="#ff0000" stroke-width="5.3" stroke-linejoin="round"/>
<path d="M923.5,687.2 L925.5,687.2 L927.5,687.2 L929.4,687.2 L931.4,687.2 L933.4,687.1 L935.4,687.1 L937.3,687.1 L939.3,687.1 L941.3,687.1 M956.5,686.9 L958.4,686.9 L960.3,686.8 L962.2,686.8 L964.1,686.8 L965.9,686.7 L967.8,686.7 L969.7,686.7 L971.6,686.6 L973.5,686.6 L975.4,686.5 M991.9,686.1 L993.9,686.1 L995.8,686.0 L997.8,685.9 L999.8,685.9 L1001.7,685.8 L1003.7,685.7 L1005.6,685.6 L1007.6,685.6 L1009.6,685.5 M1024.9,684.7 L1026.8,684.6 L1028.8,684.5 L1030.7,684.4 L1032.7,684.2 L1034.6,684.1 L1036.6,684.0 L1038.5,683.8 L1040.5,683.7 L1042.4,683.5 M1058.6,682.0 L1060.4,681.8 L1062.3,681.6 L1064.1,681.4 L1066.0,681.2 L1067.8,681.0 L1069.6,680.7 L1071.5,680.5 L1073.3,680.3 L1075.2,680.0 M1090.7,677.6 L1092.6,677.2 L1094.6,676.8 L1096.5,676.5 L1098.5,676.1 L1100.4,675.7 L1102.4,675.3 L1104.3,674.8 L1106.3,674.4 M1121.1,670.7 L1122.9,670.2 L1124.7,669.6 L1126.5,669.1 L1128.3,668.5 L1130.1,668.0 L1131.9,667.4 L1133.8,666.8 L1135.6,666.2 M1149.6,660.9 L1151.5,660.1 L1153.4,659.3 L1155.4,658.4 L1157.3,657.6 L1159.2,656.7 L1161.1,655.8 L1163.1,654.9 M1177.3,647.3 L1179.2,646.3 L1181.1,645.1 L1182.9,644.0 L1184.8,642.8 L1186.7,641.7 L1188.6,640.5 L1190.4,639.2 M1202.0,631.1 L1203.7,629.8 L1205.4,628.5 L1207.2,627.1 L1208.9,625.8 L1210.6,624.4 L1212.3,623.0 L1214.1,621.5 M1224.9,612.0 L1226.7,610.2 L1228.5,608.5 L1230.4,606.7 L1232.2,604.9 L1234.0,603.1 L1235.9,601.3 M1245.8,590.7 L1247.6,588.7 L1249.4,586.7 L1251.2,584.6 L1253.0,582.5 L1254.8,580.4 M1265.8,567.0 L1267.6,564.7 L1269.3,562.4 L1271.1,560.1 L1272.9,557.7 L1274.7,555.4 M1284.8,541.3 L1286.8,538.5 L1288.7,535.7 L1290.7,532.8 L1292.7,529.9 M1302.8,514.5 L1304.6,511.8 L1306.3,509.0 L1308.0,506.3 L1309.8,503.6 M1318.2,489.9 L1320.1,486.7 L1322.0,483.4 L1324.0,480.2 L1325.9,476.9 M1335.1,461.3 L1337.0,458.0 L1339.0,454.6 L1340.9,451.2 L1342.9,447.8 L1344.8,444.3 M1353.9,428.4 L1355.8,425.0 L1357.6,421.7 L1359.5,418.3 L1361.4,415.0 M1367.8,403.7 L1369.6,400.4 L1371.5,397.1 L1373.3,393.9 L1375.2,390.6 L1377.0,387.3 M1383.9,375.4 L1385.5,372.5 L1387.2,369.6 L1388.9,366.7 L1390.6,363.8 L1392.3,360.9 L1393.9,358.1 M1399.0,349.6 L1400.8,346.6 L1402.6,343.6 L1404.5,340.6 L1406.3,337.6 L1408.1,334.6 L1410.0,331.7 M1415.8,322.5 L1417.8,319.5 L1419.8,316.5 L1421.8,313.5 L1423.7,310.6 L1425.7,307.7 L1427.7,304.9 M1432.7,297.9 L1434.7,295.2 L1436.7,292.5 L1438.7,289.9 L1440.7,287.4 L1442.6,284.9 L1444.6,282.4 M1452.0,273.8 L1453.9,271.7 L1455.8,269.7 L1457.6,267.8 L1459.5,265.9 L1461.3,264.1 L1463.2,262.3 L1465.0,260.5 M1473.0,253.7 L1474.8,252.4 L1476.6,251.1 L1478.3,249.8 L1480.1,248.6 L1481.8,247.5 L1483.6,246.4 L1485.4,245.3 L1487.1,244.4 M1498.0,239.6 L1499.9,239.0 L1501.7,238.4 L1503.5,238.0 L1505.4,237.6 L1507.2,237.2 L1509.1,237.0 L1510.9,236.7 L1512.7,236.6 L1514.6,236.5 M1530.3,238.4 L1532.2,239.0 L1534.1,239.6 L1536.1,240.3 L1538.0,241.1 L1539.9,241.9 L1541.8,242.8 L1543.8,243.8 L1545.7,244.8 M1556.9,252.1 L1558.9,253.6 L1560.8,255.2 L1562.8,256.9 L1564.8,258.6 L1566.7,260.3 L1568.7,262.2 M1578.0,271.6 L1579.9,273.7 L1581.8,275.8 L1583.6,278.0 L1585.5,280.2 L1587.4,282.4 L1589.2,284.7 M1597.0,294.8 L1598.9,297.3 L1600.8,299.9 L1602.6,302.5 L1604.5,305.1 L1606.4,307.8 M1613.0,317.7 L1614.7,320.3 L1616.4,322.9 L1618.1,325.5 L1619.8,328.1 L1621.5,330.8 L1623.2,333.5 M1630.0,344.5 L1631.8,347.6 L1633.7,350.7 L1635.5,353.8 L1637.4,356.9 L1639.2,360.1 M1646.9,373.2 L1648.5,376.1 L1650.2,379.0 L1651.9,381.9 L1653.6,384.9 L1655.2,387.8 M1662.9,401.3 L1664.5,404.2 L1666.1,407.0 L1667.7,409.9 L1669.3,412.7 L1670.9,415.6 M1678.1,428.3 L1680.0,431.6 L1681.9,435.0 L1683.8,438.3 L1685.7,441.7 L1687.5,445.0 L1689.4,448.3 L1691.3,451.6 L1693.2,454.9 M1701.7,469.4 L1703.4,472.3 L1705.1,475.2 L1706.8,478.1 L1708.4,480.9 L1710.1,483.8 M1718.6,497.6 L1720.5,500.7 L1722.4,503.7 L1724.3,506.8 L1726.2,509.8 M1734.6,522.9 L1736.3,525.4 L1738.0,528.0 L1739.7,530.5 L1741.4,533.0 L1743.1,535.4 M1753.1,549.7 L1754.8,552.0 L1756.5,554.3 L1758.2,556.6 L1759.9,558.8 L1761.6,561.1 M1770.8,572.7 L1772.5,574.8 L1774.2,576.9 L1776.0,579.0 L1777.7,581.1 L1779.4,583.1 L1781.1,585.1 M1791.0,596.0 L1792.8,597.8 L1794.5,599.6 L1796.2,601.3 L1797.9,603.1 L1799.7,604.8 L1801.4,606.5 L1803.1,608.2" fill="none" stroke="#000" stroke-width="5.3" stroke-linecap="butt"/>
<text transform="translate(306.6,382.3) scale(0.905,1)" font-size="106" font-weight="bold">a</text>
<text transform="translate(332.6,583.0) scale(0.975,1)" font-size="71" style="color:#809fff">gain</text>
<text transform="translate(1532.2,605.3) scale(0.980,1)" font-size="71" style="color:#ff0000">out</text>
<text transform="translate(1745.5,530.8) scale(0.950,1)" font-size="72">in</text>
<text transform="translate(1448.5,193.0)" font-size="75" style="color:#809fff">9<tspan font-style="italic">P</tspan></text>
<text transform="translate(1606.0,201.5)" font-size="75" style="color:#809fff">9<tspan font-style="italic">R</tspan></text>
</g>
<g id="bottom">
<g stroke="#000" fill="none" stroke-linecap="butt">
<path d="M239,991.5 H1818 M239,1464.4 H1818" stroke-width="5"/>
<path d="M242,989 V1484.5" stroke-width="6"/>
<path d="M1815.2,989 V1484.5" stroke-width="5.5"/>
<path d="M556.9,1464.4 V1484.5 M871.5,1464.4 V1484.5 M1186.1,1464.4 V1484.5 M1500.7,1464.4 V1484.5" stroke-width="5.5"/>
<path d="M212,1464.4 H242 M212,1351.8 H242 M212,1239.2 H242 M212,1126.6 H242 M212,1014.0 H242" stroke-width="6"/>
</g>
<text transform="translate(242.0,1557.7)" font-size="70" text-anchor="middle">-10</text>
<text transform="translate(556.6,1557.7)" font-size="70" text-anchor="middle">0</text>
<text transform="translate(871.2,1557.7)" font-size="70" text-anchor="middle">10</text>
<text transform="translate(1185.8,1557.7)" font-size="70" text-anchor="middle">20</text>
<text transform="translate(1500.4,1557.7)" font-size="70" text-anchor="middle">30</text>
<text transform="translate(1815.0,1557.7)" font-size="70" text-anchor="middle">40</text>
<text transform="translate(1028.8,1618.5) scale(1.018,1)" font-size="68.5" text-anchor="middle">Time, ps</text>
<text transform="translate(200.0,1488.7)" font-size="70" text-anchor="end">0</text>
<text transform="translate(200.0,1376.1)" font-size="70" text-anchor="end">5</text>
<text transform="translate(200.0,1263.5)" font-size="70" text-anchor="end">10</text>
<text transform="translate(200.0,1150.9)" font-size="70" text-anchor="end">15</text>
<text transform="translate(200.0,1038.3)" font-size="70" text-anchor="end">20</text>
<text transform="translate(86.0,1229.2) rotate(-90) scale(0.992,1)" font-size="70" text-anchor="middle">Power, TW</text>
<path d="M242,1464.5 H534 M669,1464.5 H1121 M1212,1464.5 H1815" fill="none" stroke="#ff0000" stroke-width="6"/>
<path d="M242.0,1464.4 L242.5,1464.4 L243.0,1464.4 L243.5,1464.4 L244.0,1464.4 L244.5,1464.4 L245.0,1464.4 L245.5,1464.4 L246.0,1464.4 L246.5,1464.4 L247.0,1464.4 L247.5,1464.4 L248.0,1464.4 L248.5,1464.4 L249.0,1464.4 L249.5,1464.4 L250.0,1464.4 L250.5,1464.4 L251.0,1464.4 L251.5,1464.4 L252.0,1464.4 L252.5,1464.4 L253.0,1464.4 L253.5,1464.4 L254.0,1464.4 L254.5,1464.4 L255.0,1464.4 L255.5,1464.4 L256.0,1464.4 L256.5,1464.4 L257.0,1464.4 L257.5,1464.4 L258.0,1464.4 L258.5,1464.4 L259.0,1464.4 L259.5,1464.4 L260.0,1464.4 L260.5,1464.4 L261.0,1464.4 L261.5,1464.4 L262.0,1464.4 L262.5,1464.4 L263.0,1464.4 L263.5,1464.4 L264.0,1464.4 L264.5,1464.4 L265.0,1464.4 L265.5,1464.4 L266.0,1464.4 L266.5,1464.4 L267.0,1464.4 L267.5,1464.4 L268.0,1464.4 L268.5,1464.4 L269.0,1464.4 L269.5,1464.4 L270.0,1464.4 L270.5,1464.4 L271.0,1464.4 L271.5,1464.4 L272.0,1464.4 L272.5,1464.4 L273.0,1464.4 L273.5,1464.4 L274.0,1464.4 L274.5,1464.4 L275.0,1464.4 L275.5,1464.4 L276.0,1464.4 L276.5,1464.4 L277.0,1464.4 L277.5,1464.4 L278.0,1464.4 L278.5,1464.4 L279.0,1464.4 L279.5,1464.4 L280.0,1464.4 L280.5,1464.4 L281.0,1464.4 L281.5,1464.4 L282.0,1464.4 L282.5,1464.4 L283.0,1464.4 L283.5,1464.4 L284.0,1464.4 L284.5,1464.4 L285.0,1464.4 L285.5,1464.4 L286.0,1464.4 L286.5,1464.4 L287.0,1464.4 L287.5,1464.4 L288.0,1464.4 L288.5,1464.4 L289.0,1464.4 L289.5,1464.4 L290.0,1464.4 L290.5,1464.4 L291.0,1464.4 L291.5,1464.4 L292.0,1464.4 L292.5,1464.4 L293.0,1464.4 L293.5,1464.4 L294.0,1464.4 L294.5,1464.4 L295.0,1464.4 L295.5,1464.4 L296.0,1464.4 L296.5,1464.4 L297.0,1464.4 L297.5,1464.4 L298.0,1464.4 L298.5,1464.4 L299.0,1464.4 L299.5,1464.4 L300.0,1464.4 L300.5,1464.4 L301.0,1464.4 L301.5,1464.4 L302.0,1464.4 L302.5,1464.4 L303.0,1464.4 L303.5,1464.4 L304.0,1464.4 L304.5,1464.4 L305.0,1464.4 L305.5,1464.4 L306.0,1464.4 L306.5,1464.4 L307.0,1464.4 L307.5,1464.4 L308.0,1464.4 L308.5,1464.4 L309.0,1464.4 L309.5,1464.4 L310.0,1464.4 L310.5,1464.4 L311.0,1464.4 L311.5,1464.4 L312.0,1464.4 L312.5,1464.4 L313.0,1464.4 L313.5,1464.4 L314.0,1464.4 L314.5,1464.4 L315.0,1464.4 L315.5,1464.4 L316.0,1464.4 L316.5,1464.4 L317.0,1464.4 L317.5,1464.4 L318.0,1464.4 L318.5,1464.4 L319.0,1464.4 L319.5,1464.4 L320.0,1464.4 L320.5,1464.4 L321.0,1464.4 L321.5,1464.4 L322.0,1464.4 L322.5,1464.4 L323.0,1464.4 L323.5,1464.4 L324.0,1464.4 L324.5,1464.4 L325.0,1464.4 L325.5,1464.4 L326.0,1464.4 L326.5,1464.4 L327.0,1464.4 L327.5,1464.4 L328.0,1464.4 L328.5,1464.4 L329.0,1464.4 L329.5,1464.4 L330.0,1464.4 L330.5,1464.4 L331.0,1464.4 L331.5,1464.4 L332.0,1464.4 L332.5,1464.4 L333.0,1464.4 L333.5,1464.4 L334.0,1464.4 L334.5,1464.4 L335.0,1464.4 L335.5,1464.4 L336.0,1464.4 L336.5,1464.4 L337.0,1464.4 L337.5,1464.4 L338.0,1464.4 L338.5,1464.4 L339.0,1464.4 L339.5,1464.4 L340.0,1464.4 L340.5,1464.4 L341.0,1464.4 L341.5,1464.4 L342.0,1464.4 L342.5,1464.4 L343.0,1464.4 L343.5,1464.4 L344.0,1464.4 L344.5,1464.4 L345.0,1464.4 L345.5,1464.4 L346.0,1464.4 L346.5,1464.4 L347.0,1464.4 L347.5,1464.4 L348.0,1464.4 L348.5,1464.4 L349.0,1464.4 L349.5,1464.4 L350.0,1464.4 L350.5,1464.4 L351.0,1464.4 L351.5,1464.4 L352.0,1464.4 L352.5,1464.4 L353.0,1464.4 L353.5,1464.4 L354.0,1464.4 L354.5,1464.4 L355.0,1464.4 L355.5,1464.4 L356.0,1464.4 L356.5,1464.4 L357.0,1464.4 L357.5,1464.4 L358.0,1464.4 L358.5,1464.4 L359.0,1464.4 L359.5,1464.4 L360.0,1464.4 L360.5,1464.4 L361.0,1464.4 L361.5,1464.4 L362.0,1464.4 L362.5,1464.4 L363.0,1464.4 L363.5,1464.4 L364.0,1464.4 L364.5,1464.4 L365.0,1464.4 L365.5,1464.4 L366.0,1464.4 L366.5,1464.4 L367.0,1464.4 L367.5,1464.4 L368.0,1464.4 L368.5,1464.4 L369.0,1464.4 L369.5,1464.4 L370.0,1464.4 L370.5,1464.4 L371.0,1464.4 L371.5,1464.4 L372.0,1464.4 L372.5,1464.4 L373.0,1464.4 L373.5,1464.4 L374.0,1464.4 L374.5,1464.4 L375.0,1464.4 L375.5,1464.4 L376.0,1464.4 L376.5,1464.4 L377.0,1464.4 L377.5,1464.4 L378.0,1464.4 L378.5,1464.4 L379.0,1464.4 L379.5,1464.4 L380.0,1464.4 L380.5,1464.4 L381.0,1464.4 L381.5,1464.4 L382.0,1464.4 L382.5,1464.4 L383.0,1464.4 L383.5,1464.4 L384.0,1464.4 L384.5,1464.4 L385.0,1464.4 L385.5,1464.4 L386.0,1464.4 L386.5,1464.4 L387.0,1464.4 L387.5,1464.4 L388.0,1464.4 L388.5,1464.4 L389.0,1464.4 L389.5,1464.4 L390.0,1464.4 L390.5,1464.4 L391.0,1464.4 L391.5,1464.4 L392.0,1464.4 L392.5,1464.4 L393.0,1464.4 L393.5,1464.4 L394.0,1464.4 L394.5,1464.4 L395.0,1464.4 L395.5,1464.4 L396.0,1464.4 L396.5,1464.4 L397.0,1464.4 L397.5,1464.4 L398.0,1464.4 L398.5,1464.4 L399.0,1464.4 L399.5,1464.4 L400.0,1464.4 L400.5,1464.4 L401.0,1464.4 L401.5,1464.4 L402.0,1464.4 L402.5,1464.4 L403.0,1464.4 L403.5,1464.4 L404.0,1464.4 L404.5,1464.4 L405.0,1464.4 L405.5,1464.4 L406.0,1464.4 L406.5,1464.4 L407.0,1464.4 L407.5,1464.4 L408.0,1464.4 L408.5,1464.4 L409.0,1464.4 L409.5,1464.4 L410.0,1464.4 L410.5,1464.4 L411.0,1464.4 L411.5,1464.4 L412.0,1464.4 L412.5,1464.4 L413.0,1464.4 L413.5,1464.4 L414.0,1464.4 L414.5,1464.4 L415.0,1464.4 L415.5,1464.4 L416.0,1464.4 L416.5,1464.4 L417.0,1464.4 L417.5,1464.4 L418.0,1464.4 L418.5,1464.4 L419.0,1464.4 L419.5,1464.4 L420.0,1464.4 L420.5,1464.4 L421.0,1464.4 L421.5,1464.4 L422.0,1464.4 L422.5,1464.4 L423.0,1464.4 L423.5,1464.4 L424.0,1464.4 L424.5,1464.4 L425.0,1464.4 L425.5,1464.4 L426.0,1464.4 L426.5,1464.4 L427.0,1464.4 L427.5,1464.4 L428.0,1464.4 L428.5,1464.4 L429.0,1464.4 L429.5,1464.4 L430.0,1464.4 L430.5,1464.4 L431.0,1464.4 L431.5,1464.4 L432.0,1464.4 L432.5,1464.4 L433.0,1464.4 L433.5,1464.4 L434.0,1464.4 L434.5,1464.4 L435.0,1464.4 L435.5,1464.4 L436.0,1464.4 L436.5,1464.4 L437.0,1464.4 L437.5,1464.4 L438.0,1464.4 L438.5,1464.4 L439.0,1464.4 L439.5,1464.4 L440.0,1464.4 L440.5,1464.4 L441.0,1464.4 L441.5,1464.4 L442.0,1464.4 L442.5,1464.4 L443.0,1464.4 L443.5,1464.4 L444.0,1464.4 L444.5,1464.4 L445.0,1464.4 L445.5,1464.4 L446.0,1464.4 L446.5,1464.4 L447.0,1464.4 L447.5,1464.4 L448.0,1464.4 L448.5,1464.4 L449.0,1464.4 L449.5,1464.4 L450.0,1464.4 L450.5,1464.4 L451.0,1464.4 L451.5,1464.4 L452.0,1464.4 L452.5,1464.4 L453.0,1464.4 L453.5,1464.4 L454.0,1464.4 L454.5,1464.4 L455.0,1464.4 L455.5,1464.4 L456.0,1464.4 L456.5,1464.4 L457.0,1464.4 L457.5,1464.4 L458.0,1464.4 L458.5,1464.4 L459.0,1464.4 L459.5,1464.4 L460.0,1464.4 L460.5,1464.4 L461.0,1464.4 L461.5,1464.4 L462.0,1464.4 L462.5,1464.4 L463.0,1464.4 L463.5,1464.4 L464.0,1464.4 L464.5,1464.4 L465.0,1464.4 L465.5,1464.4 L466.0,1464.4 L466.5,1464.4 L467.0,1464.4 L467.5,1464.4 L468.0,1464.4 L468.5,1464.4 L469.0,1464.4 L469.5,1464.4 L470.0,1464.4 L470.5,1464.4 L471.0,1464.4 L471.5,1464.4 L472.0,1464.4 L472.5,1464.4 L473.0,1464.4 L473.5,1464.4 L474.0,1464.4 L474.5,1464.4 L475.0,1464.4 L475.5,1464.4 L476.0,1464.4 L476.5,1464.4 L477.0,1464.4 L477.5,1464.4 L478.0,1464.4 L478.5,1464.4 L479.0,1464.4 L479.5,1464.4 L480.0,1464.4 L480.5,1464.4 L481.0,1464.4 L481.5,1464.4 L482.0,1464.4 L482.5,1464.4 L483.0,1464.4 L483.5,1464.4 L484.0,1464.4 L484.5,1464.4 L485.0,1464.4 L485.5,1464.4 L486.0,1464.4 L486.5,1464.4 L487.0,1464.4 L487.5,1464.4 L488.0,1464.4 L488.5,1464.4 L489.0,1464.4 L489.5,1464.4 L490.0,1464.4 L490.5,1464.4 L491.0,1464.4 L491.5,1464.4 L492.0,1464.4 L492.5,1464.4 L493.0,1464.4 L493.5,1464.4 L494.0,1464.4 L494.5,1464.4 L495.0,1464.4 L495.5,1464.4 L496.0,1464.4 L496.5,1464.4 L497.0,1464.4 L497.5,1464.4 L498.0,1464.4 L498.5,1464.4 L499.0,1464.4 L499.5,1464.4 L500.0,1464.4 L500.5,1464.4 L501.0,1464.4 L501.5,1464.4 L502.0,1464.4 L502.5,1464.4 L503.0,1464.4 L503.5,1464.4 L504.0,1464.4 L504.5,1464.4 L505.0,1464.4 L505.5,1464.4 L506.0,1464.4 L506.5,1464.4 L507.0,1464.4 L507.5,1464.4 L508.0,1464.4 L508.5,1464.4 L509.0,1464.4 L509.5,1464.4 L510.0,1464.4 L510.5,1464.4 L511.0,1464.4 L511.5,1464.4 L512.0,1464.4 L512.5,1464.4 L513.0,1464.4 L513.5,1464.4 L514.0,1464.4 L514.5,1464.4 L515.0,1464.4 L515.5,1464.4 L516.0,1464.4 L516.5,1464.4 L517.0,1464.4 L517.5,1464.4 L518.0,1464.4 L518.5,1464.4 L519.0,1464.4 L519.5,1464.4 L520.0,1464.4 L520.5,1464.4 L521.0,1464.4 L521.5,1464.4 L522.0,1464.4 L522.5,1464.4 L523.0,1464.4 L523.5,1464.4 L524.0,1464.4 L524.5,1464.4 L525.0,1464.3 L525.5,1464.3 L526.0,1464.3 L526.5,1464.2 L527.0,1464.2 L527.5,1464.1 L528.0,1464.1 L528.5,1464.0 L529.0,1463.8 L529.5,1463.7 L530.0,1463.5 L530.5,1463.3 L531.0,1463.1 L531.5,1462.8 L532.0,1462.4 L532.5,1462.0 L533.0,1461.5 L533.5,1461.0 L534.0,1460.3 L534.5,1459.6 L535.0,1458.8 L535.5,1457.8 L536.0,1456.7 L536.5,1455.5 L537.0,1454.0 L537.5,1452.4 L538.0,1450.5 L538.5,1448.3 L539.0,1445.7 L539.5,1442.8 L540.0,1439.4 L540.5,1435.5 L541.0,1431.0 L541.5,1425.8 L542.0,1419.9 L542.5,1413.2 L543.0,1405.6 L543.5,1397.1 L544.0,1387.5 L544.5,1376.9 L545.0,1365.2 L545.5,1352.3 L546.0,1338.2 L546.5,1323.1 L547.0,1306.8 L547.5,1289.5 L548.0,1271.2 L548.5,1252.2 L549.0,1232.4 L549.5,1212.1 L550.0,1191.5 L550.5,1170.8 L551.0,1150.2 L551.5,1130.0 L552.0,1110.4 L552.5,1091.8 L553.0,1074.3 L553.5,1058.2 L554.0,1043.8 L554.5,1031.3 L555.0,1020.8 L555.5,1012.6 L556.0,1006.8 L556.5,1003.5 L557.0,1002.7 L557.5,1003.1 L558.0,1004.6 L558.5,1007.6 L559.0,1012.5 L559.5,1019.7 L560.0,1029.2 L560.5,1041.2 L561.0,1055.8 L561.5,1072.8 L562.0,1092.2 L562.5,1113.6 L563.0,1136.8 L563.5,1161.4 L564.0,1186.9 L564.5,1213.0 L565.0,1239.0 L565.5,1264.7 L566.0,1289.5 L566.5,1313.1 L567.0,1335.1 L567.5,1355.4 L568.0,1373.6 L568.5,1389.9 L569.0,1404.0 L569.5,1416.1 L570.0,1426.2 L570.5,1434.4 L571.0,1440.8 L571.5,1445.6 L572.0,1448.8 L572.5,1450.5 L573.0,1450.7 L573.5,1449.6 L574.0,1447.1 L574.5,1443.3 L575.0,1438.2 L575.5,1432.1 L576.0,1424.9 L576.5,1417.0 L577.0,1408.4 L577.5,1399.6 L578.0,1390.7 L578.5,1382.0 L579.0,1373.7 L579.5,1366.1 L580.0,1359.2 L580.5,1353.3 L581.0,1348.3 L581.5,1344.2 L582.0,1341.1 L582.5,1338.8 L583.0,1337.2 L583.5,1336.2 L584.0,1335.6 L584.5,1335.4 L585.0,1335.4 L585.5,1335.5 L586.0,1336.3 L586.5,1337.8 L587.0,1340.0 L587.5,1342.8 L588.0,1346.2 L588.5,1350.2 L589.0,1354.7 L589.5,1359.6 L590.0,1364.8 L590.5,1370.3 L591.0,1376.0 L591.5,1381.8 L592.0,1387.6 L592.5,1393.5 L593.0,1399.3 L593.5,1404.9 L594.0,1410.3 L594.5,1415.5 L595.0,1420.5 L595.5,1425.2 L596.0,1429.6 L596.5,1433.6 L597.0,1437.3 L597.5,1440.7 L598.0,1443.8 L598.5,1446.6 L599.0,1449.0 L599.5,1451.2 L600.0,1453.1 L600.5,1454.8 L601.0,1456.3 L601.5,1457.5 L602.0,1458.5 L602.5,1459.4 L603.0,1460.2 L603.5,1460.8 L604.0,1461.2 L604.5,1461.6 L605.0,1461.9 L605.5,1462.2 L606.0,1462.3 L606.5,1462.4 L607.0,1462.5 L607.5,1462.5 L608.0,1462.5 L608.5,1462.5 L609.0,1462.4 L609.5,1462.4 L610.0,1462.3 L610.5,1462.3 L611.0,1462.2 L611.5,1462.1 L612.0,1462.1 L612.5,1462.0 L613.0,1461.9 L613.5,1461.9 L614.0,1461.8 L614.5,1461.8 L615.0,1461.8 L615.5,1461.8 L616.0,1461.8 L616.5,1461.8 L617.0,1461.8 L617.5,1461.8 L618.0,1461.9 L618.5,1461.9 L619.0,1462.0 L619.5,1462.0 L620.0,1462.1 L620.5,1462.1 L621.0,1462.2 L621.5,1462.2 L622.0,1462.3 L622.5,1462.4 L623.0,1462.4 L623.5,1462.5 L624.0,1462.5 L624.5,1462.6 L625.0,1462.6 L625.5,1462.7 L626.0,1462.7 L626.5,1462.7 L627.0,1462.7 L627.5,1462.7 L628.0,1462.8 L628.5,1462.8 L629.0,1462.8 L629.5,1462.8 L630.0,1462.7 L630.5,1462.7 L631.0,1462.7 L631.5,1462.7 L632.0,1462.7 L632.5,1462.7 L633.0,1462.6 L633.5,1462.6 L634.0,1462.6 L634.5,1462.6 L635.0,1462.5 L635.5,1462.5 L636.0,1462.5 L636.5,1462.5 L637.0,1462.5 L637.5,1462.4 L638.0,1462.4 L638.5,1462.4 L639.0,1462.4 L639.5,1462.4 L640.0,1462.4 L640.5,1462.4 L641.0,1462.4 L641.5,1462.4 L642.0,1462.4 L642.5,1462.4 L643.0,1462.4 L643.5,1462.4 L644.0,1462.4 L644.5,1462.4 L645.0,1462.4 L645.5,1462.5 L646.0,1462.5 L646.5,1462.5 L647.0,1462.5 L647.5,1462.5 L648.0,1462.6 L648.5,1462.6 L649.0,1462.6 L649.5,1462.7 L650.0,1462.7 L650.5,1462.7 L651.0,1462.8 L651.5,1462.8 L652.0,1462.9 L652.5,1462.9 L653.0,1462.9 L653.5,1463.0 L654.0,1463.0 L654.5,1463.1 L655.0,1463.1 L655.5,1463.2 L656.0,1463.2 L656.5,1463.2 L657.0,1463.3 L657.5,1463.3 L658.0,1463.4 L658.5,1463.4 L659.0,1463.5 L659.5,1463.5 L660.0,1463.5 L660.5,1463.6 L661.0,1463.6 L661.5,1463.6 L662.0,1463.7 L662.5,1463.7 L663.0,1463.8 L663.5,1463.8 L664.0,1463.8 L664.5,1463.9 L665.0,1463.9 L665.5,1463.9 L666.0,1463.9 L666.5,1464.0 L667.0,1464.0 L667.5,1464.0 L668.0,1464.0 L668.5,1464.1 L669.0,1464.1 L669.5,1464.1 L670.0,1464.1 L670.5,1464.1 L671.0,1464.2 L671.5,1464.2 L672.0,1464.2 L672.5,1464.2 L673.0,1464.2 L673.5,1464.2 L674.0,1464.3 L674.5,1464.3 L675.0,1464.3 L675.5,1464.3 L676.0,1464.3 L676.5,1464.3 L677.0,1464.3 L677.5,1464.3 L678.0,1464.3 L678.5,1464.3 L679.0,1464.3 L679.5,1464.3 L680.0,1464.3 L680.5,1464.4 L681.0,1464.4 L681.5,1464.4 L682.0,1464.4 L682.5,1464.4 L683.0,1464.4 L683.5,1464.4 L684.0,1464.4 L684.5,1464.4 L685.0,1464.4 L685.5,1464.4 L686.0,1464.4 L686.5,1464.4 L687.0,1464.4 L687.5,1464.4 L688.0,1464.4 L688.5,1464.4 L689.0,1464.4 L689.5,1464.4 L690.0,1464.4 L690.5,1464.4 L691.0,1464.4 L691.5,1464.4 L692.0,1464.4 L692.5,1464.4 L693.0,1464.4 L693.5,1464.4 L694.0,1464.4 L694.5,1464.4 L695.0,1464.4 L695.5,1464.4 L696.0,1464.4 L696.5,1464.4 L697.0,1464.4 L697.5,1464.4 L698.0,1464.4 L698.5,1464.4 L699.0,1464.4 L699.5,1464.4 L700.0,1464.4 L700.5,1464.4 L701.0,1464.4 L701.5,1464.4 L702.0,1464.4 L702.5,1464.4 L703.0,1464.4 L703.5,1464.4 L704.0,1464.4 L704.5,1464.4 L705.0,1464.4 L705.5,1464.4 L706.0,1464.4 L706.5,1464.4 L707.0,1464.4 L707.5,1464.4 L708.0,1464.4 L708.5,1464.4 L709.0,1464.4 L709.5,1464.4 L710.0,1464.4 L710.5,1464.4 L711.0,1464.4 L711.5,1464.4 L712.0,1464.4 L712.5,1464.4 L713.0,1464.4 L713.5,1464.4 L714.0,1464.4 L714.5,1464.4 L715.0,1464.4 L715.5,1464.4 L716.0,1464.4 L716.5,1464.4 L717.0,1464.4 L717.5,1464.4 L718.0,1464.4 L718.5,1464.4 L719.0,1464.4 L719.5,1464.4 L720.0,1464.4 L720.5,1464.4 L721.0,1464.4 L721.5,1464.4 L722.0,1464.4 L722.5,1464.4 L723.0,1464.4 L723.5,1464.4 L724.0,1464.4 L724.5,1464.4 L725.0,1464.4 L725.5,1464.4 L726.0,1464.4 L726.5,1464.4 L727.0,1464.4 L727.5,1464.4 L728.0,1464.4 L728.5,1464.4 L729.0,1464.4 L729.5,1464.4 L730.0,1464.4 L730.5,1464.4 L731.0,1464.4 L731.5,1464.4 L732.0,1464.4 L732.5,1464.4 L733.0,1464.4 L733.5,1464.4 L734.0,1464.4 L734.5,1464.4 L735.0,1464.4 L735.5,1464.4 L736.0,1464.4 L736.5,1464.4 L737.0,1464.4 L737.5,1464.4 L738.0,1464.4 L738.5,1464.4 L739.0,1464.4 L739.5,1464.4 L740.0,1464.4 L740.5,1464.4 L741.0,1464.4 L741.5,1464.4 L742.0,1464.4 L742.5,1464.4 L743.0,1464.4 L743.5,1464.4 L744.0,1464.4 L744.5,1464.4 L745.0,1464.4 L745.5,1464.4 L746.0,1464.4 L746.5,1464.4 L747.0,1464.4 L747.5,1464.4 L748.0,1464.4 L748.5,1464.4 L749.0,1464.4 L749.5,1464.4 L750.0,1464.4 L750.5,1464.4 L751.0,1464.4 L751.5,1464.4 L752.0,1464.4 L752.5,1464.4 L753.0,1464.4 L753.5,1464.4 L754.0,1464.4 L754.5,1464.4 L755.0,1464.4 L755.5,1464.4 L756.0,1464.4 L756.5,1464.4 L757.0,1464.4 L757.5,1464.4 L758.0,1464.4 L758.5,1464.4 L759.0,1464.4 L759.5,1464.4 L760.0,1464.4 L760.5,1464.4 L761.0,1464.4 L761.5,1464.4 L762.0,1464.4 L762.5,1464.4 L763.0,1464.4 L763.5,1464.4 L764.0,1464.4 L764.5,1464.4 L765.0,1464.4 L765.5,1464.4 L766.0,1464.4 L766.5,1464.4 L767.0,1464.4 L767.5,1464.4 L768.0,1464.4 L768.5,1464.4 L769.0,1464.4 L769.5,1464.4 L770.0,1464.4 L770.5,1464.4 L771.0,1464.4 L771.5,1464.4 L772.0,1464.4 L772.5,1464.4 L773.0,1464.4 L773.5,1464.4 L774.0,1464.4 L774.5,1464.4 L775.0,1464.4 L775.5,1464.4 L776.0,1464.4 L776.5,1464.4 L777.0,1464.4 L777.5,1464.4 L778.0,1464.4 L778.5,1464.4 L779.0,1464.4 L779.5,1464.4 L780.0,1464.4 L780.5,1464.4 L781.0,1464.4 L781.5,1464.4 L782.0,1464.4 L782.5,1464.4 L783.0,1464.4 L783.5,1464.4 L784.0,1464.4 L784.5,1464.4 L785.0,1464.4 L785.5,1464.4 L786.0,1464.4 L786.5,1464.4 L787.0,1464.4 L787.5,1464.4 L788.0,1464.4 L788.5,1464.4 L789.0,1464.4 L789.5,1464.4 L790.0,1464.4 L790.5,1464.4 L791.0,1464.4 L791.5,1464.4 L792.0,1464.4 L792.5,1464.4 L793.0,1464.4 L793.5,1464.4 L794.0,1464.4 L794.5,1464.4 L795.0,1464.4 L795.5,1464.4 L796.0,1464.4 L796.5,1464.4 L797.0,1464.4 L797.5,1464.4 L798.0,1464.4 L798.5,1464.4 L799.0,1464.4 L799.5,1464.4 L800.0,1464.4 L800.5,1464.4 L801.0,1464.4 L801.5,1464.4 L802.0,1464.4 L802.5,1464.4 L803.0,1464.4 L803.5,1464.4 L804.0,1464.4 L804.5,1464.4 L805.0,1464.4 L805.5,1464.4 L806.0,1464.4 L806.5,1464.4 L807.0,1464.4 L807.5,1464.4 L808.0,1464.4 L808.5,1464.4 L809.0,1464.4 L809.5,1464.4 L810.0,1464.4 L810.5,1464.4 L811.0,1464.4 L811.5,1464.4 L812.0,1464.4 L812.5,1464.4 L813.0,1464.4 L813.5,1464.4 L814.0,1464.4 L814.5,1464.4 L815.0,1464.4 L815.5,1464.4 L816.0,1464.4 L816.5,1464.4 L817.0,1464.4 L817.5,1464.4 L818.0,1464.4 L818.5,1464.4 L819.0,1464.4 L819.5,1464.4 L820.0,1464.4 L820.5,1464.4 L821.0,1464.4 L821.5,1464.4 L822.0,1464.4 L822.5,1464.4 L823.0,1464.4 L823.5,1464.4 L824.0,1464.4 L824.5,1464.4 L825.0,1464.4 L825.5,1464.4 L826.0,1464.4 L826.5,1464.4 L827.0,1464.4 L827.5,1464.4 L828.0,1464.4 L828.5,1464.4 L829.0,1464.4 L829.5,1464.4 L830.0,1464.4 L830.5,1464.4 L831.0,1464.4 L831.5,1464.4 L832.0,1464.4 L832.5,1464.4 L833.0,1464.4 L833.5,1464.4 L834.0,1464.4 L834.5,1464.4 L835.0,1464.4 L835.5,1464.4 L836.0,1464.4 L836.5,1464.4 L837.0,1464.4 L837.5,1464.4 L838.0,1464.4 L838.5,1464.4 L839.0,1464.4 L839.5,1464.4 L840.0,1464.4 L840.5,1464.4 L841.0,1464.4 L841.5,1464.4 L842.0,1464.4 L842.5,1464.4 L843.0,1464.4 L843.5,1464.4 L844.0,1464.4 L844.5,1464.4 L845.0,1464.4 L845.5,1464.4 L846.0,1464.4 L846.5,1464.4 L847.0,1464.4 L847.5,1464.4 L848.0,1464.4 L848.5,1464.4 L849.0,1464.4 L849.5,1464.4 L850.0,1464.4 L850.5,1464.4 L851.0,1464.4 L851.5,1464.4 L852.0,1464.4 L852.5,1464.4 L853.0,1464.4 L853.5,1464.4 L854.0,1464.4 L854.5,1464.4 L855.0,1464.4 L855.5,1464.4 L856.0,1464.4 L856.5,1464.4 L857.0,1464.4 L857.5,1464.4 L858.0,1464.4 L858.5,1464.4 L859.0,1464.4 L859.5,1464.4 L860.0,1464.4 L860.5,1464.4 L861.0,1464.4 L861.5,1464.4 L862.0,1464.4 L862.5,1464.4 L863.0,1464.4 L863.5,1464.4 L864.0,1464.4 L864.5,1464.4 L865.0,1464.4 L865.5,1464.4 L866.0,1464.4 L866.5,1464.4 L867.0,1464.4 L867.5,1464.4 L868.0,1464.4 L868.5,1464.4 L869.0,1464.4 L869.5,1464.4 L870.0,1464.4 L870.5,1464.4 L871.0,1464.4 L871.5,1464.4 L872.0,1464.4 L872.5,1464.4 L873.0,1464.4 L873.5,1464.4 L874.0,1464.4 L874.5,1464.4 L875.0,1464.4 L875.5,1464.4 L876.0,1464.4 L876.5,1464.4 L877.0,1464.4 L877.5,1464.4 L878.0,1464.4 L878.5,1464.4 L879.0,1464.4 L879.5,1464.4 L880.0,1464.4 L880.5,1464.4 L881.0,1464.4 L881.5,1464.4 L882.0,1464.4 L882.5,1464.4 L883.0,1464.4 L883.5,1464.4 L884.0,1464.4 L884.5,1464.4 L885.0,1464.4 L885.5,1464.4 L886.0,1464.4 L886.5,1464.4 L887.0,1464.4 L887.5,1464.4 L888.0,1464.4 L888.5,1464.4 L889.0,1464.4 L889.5,1464.4 L890.0,1464.4 L890.5,1464.4 L891.0,1464.4 L891.5,1464.4 L892.0,1464.4 L892.5,1464.4 L893.0,1464.4 L893.5,1464.4 L894.0,1464.4 L894.5,1464.4 L895.0,1464.4 L895.5,1464.4 L896.0,1464.4 L896.5,1464.4 L897.0,1464.4 L897.5,1464.4 L898.0,1464.4 L898.5,1464.4 L899.0,1464.4 L899.5,1464.4 L900.0,1464.4 L900.5,1464.4 L901.0,1464.4 L901.5,1464.4 L902.0,1464.4 L902.5,1464.4 L903.0,1464.4 L903.5,1464.4 L904.0,1464.4 L904.5,1464.4 L905.0,1464.4 L905.5,1464.4 L906.0,1464.4 L906.5,1464.4 L907.0,1464.4 L907.5,1464.4 L908.0,1464.4 L908.5,1464.4 L909.0,1464.4 L909.5,1464.4 L910.0,1464.4 L910.5,1464.4 L911.0,1464.4 L911.5,1464.4 L912.0,1464.4 L912.5,1464.4 L913.0,1464.4 L913.5,1464.4 L914.0,1464.4 L914.5,1464.4 L915.0,1464.4 L915.5,1464.4 L916.0,1464.4 L916.5,1464.4 L917.0,1464.4 L917.5,1464.4 L918.0,1464.4 L918.5,1464.4 L919.0,1464.4 L919.5,1464.4 L920.0,1464.4 L920.5,1464.4 L921.0,1464.4 L921.5,1464.4 L922.0,1464.4 L922.5,1464.4 L923.0,1464.4 L923.5,1464.4 L924.0,1464.4 L924.5,1464.4 L925.0,1464.4 L925.5,1464.4 L926.0,1464.4 L926.5,1464.4 L927.0,1464.4 L927.5,1464.4 L928.0,1464.4 L928.5,1464.4 L929.0,1464.4 L929.5,1464.4 L930.0,1464.4 L930.5,1464.4 L931.0,1464.4 L931.5,1464.4 L932.0,1464.4 L932.5,1464.4 L933.0,1464.4 L933.5,1464.4 L934.0,1464.4 L934.5,1464.4 L935.0,1464.4 L935.5,1464.4 L936.0,1464.4 L936.5,1464.4 L937.0,1464.4 L937.5,1464.4 L938.0,1464.4 L938.5,1464.4 L939.0,1464.4 L939.5,1464.4 L940.0,1464.4 L940.5,1464.4 L941.0,1464.4 L941.5,1464.4 L942.0,1464.4 L942.5,1464.4 L943.0,1464.4 L943.5,1464.4 L944.0,1464.4 L944.5,1464.4 L945.0,1464.4 L945.5,1464.4 L946.0,1464.4 L946.5,1464.4 L947.0,1464.4 L947.5,1464.4 L948.0,1464.4 L948.5,1464.4 L949.0,1464.4 L949.5,1464.4 L950.0,1464.4 L950.5,1464.4 L951.0,1464.4 L951.5,1464.4 L952.0,1464.4 L952.5,1464.4 L953.0,1464.4 L953.5,1464.4 L954.0,1464.4 L954.5,1464.4 L955.0,1464.4 L955.5,1464.4 L956.0,1464.4 L956.5,1464.4 L957.0,1464.4 L957.5,1464.4 L958.0,1464.4 L958.5,1464.4 L959.0,1464.4 L959.5,1464.4 L960.0,1464.4 L960.5,1464.4 L961.0,1464.4 L961.5,1464.4 L962.0,1464.4 L962.5,1464.4 L963.0,1464.4 L963.5,1464.4 L964.0,1464.4 L964.5,1464.4 L965.0,1464.4 L965.5,1464.4 L966.0,1464.4 L966.5,1464.4 L967.0,1464.4 L967.5,1464.4 L968.0,1464.4 L968.5,1464.4 L969.0,1464.4 L969.5,1464.4 L970.0,1464.4 L970.5,1464.4 L971.0,1464.4 L971.5,1464.4 L972.0,1464.4 L972.5,1464.4 L973.0,1464.4 L973.5,1464.4 L974.0,1464.4 L974.5,1464.4 L975.0,1464.4 L975.5,1464.4 L976.0,1464.4 L976.5,1464.4 L977.0,1464.4 L977.5,1464.4 L978.0,1464.4 L978.5,1464.4 L979.0,1464.4 L979.5,1464.4 L980.0,1464.4 L980.5,1464.4 L981.0,1464.4 L981.5,1464.4 L982.0,1464.4 L982.5,1464.4 L983.0,1464.4 L983.5,1464.4 L984.0,1464.4 L984.5,1464.4 L985.0,1464.4 L985.5,1464.4 L986.0,1464.4 L986.5,1464.4 L987.0,1464.4 L987.5,1464.4 L988.0,1464.4 L988.5,1464.4 L989.0,1464.4 L989.5,1464.4 L990.0,1464.4 L990.5,1464.4 L991.0,1464.4 L991.5,1464.4 L992.0,1464.4 L992.5,1464.4 L993.0,1464.4 L993.5,1464.4 L994.0,1464.4 L994.5,1464.4 L995.0,1464.4 L995.5,1464.4 L996.0,1464.4 L996.5,1464.4 L997.0,1464.4 L997.5,1464.4 L998.0,1464.4 L998.5,1464.4 L999.0,1464.4 L999.5,1464.4 L1000.0,1464.4 L1000.5,1464.4 L1001.0,1464.4 L1001.5,1464.4 L1002.0,1464.4 L1002.5,1464.4 L1003.0,1464.4 L1003.5,1464.4 L1004.0,1464.4 L1004.5,1464.4 L1005.0,1464.4 L1005.5,1464.4 L1006.0,1464.4 L1006.5,1464.4 L1007.0,1464.4 L1007.5,1464.4 L1008.0,1464.4 L1008.5,1464.4 L1009.0,1464.4 L1009.5,1464.4 L1010.0,1464.4 L1010.5,1464.4 L1011.0,1464.4 L1011.5,1464.4 L1012.0,1464.4 L1012.5,1464.4 L1013.0,1464.4 L1013.5,1464.4 L1014.0,1464.4 L1014.5,1464.4 L1015.0,1464.4 L1015.5,1464.4 L1016.0,1464.4 L1016.5,1464.4 L1017.0,1464.4 L1017.5,1464.4 L1018.0,1464.4 L1018.5,1464.4 L1019.0,1464.4 L1019.5,1464.4 L1020.0,1464.4 L1020.5,1464.4 L1021.0,1464.4 L1021.5,1464.4 L1022.0,1464.4 L1022.5,1464.4 L1023.0,1464.4 L1023.5,1464.4 L1024.0,1464.4 L1024.5,1464.4 L1025.0,1464.4 L1025.5,1464.4 L1026.0,1464.4 L1026.5,1464.4 L1027.0,1464.4 L1027.5,1464.4 L1028.0,1464.4 L1028.5,1464.4 L1029.0,1464.4 L1029.5,1464.4 L1030.0,1464.4 L1030.5,1464.4 L1031.0,1464.4 L1031.5,1464.4 L1032.0,1464.4 L1032.5,1464.4 L1033.0,1464.4 L1033.5,1464.4 L1034.0,1464.4 L1034.5,1464.4 L1035.0,1464.4 L1035.5,1464.4 L1036.0,1464.4 L1036.5,1464.4 L1037.0,1464.4 L1037.5,1464.4 L1038.0,1464.4 L1038.5,1464.4 L1039.0,1464.4 L1039.5,1464.4 L1040.0,1464.4 L1040.5,1464.4 L1041.0,1464.4 L1041.5,1464.4 L1042.0,1464.4 L1042.5,1464.4 L1043.0,1464.4 L1043.5,1464.4 L1044.0,1464.4 L1044.5,1464.4 L1045.0,1464.4 L1045.5,1464.4 L1046.0,1464.4 L1046.5,1464.4 L1047.0,1464.4 L1047.5,1464.4 L1048.0,1464.4 L1048.5,1464.4 L1049.0,1464.4 L1049.5,1464.4 L1050.0,1464.4 L1050.5,1464.4 L1051.0,1464.4 L1051.5,1464.4 L1052.0,1464.4 L1052.5,1464.4 L1053.0,1464.4 L1053.5,1464.4 L1054.0,1464.4 L1054.5,1464.4 L1055.0,1464.4 L1055.5,1464.4 L1056.0,1464.4 L1056.5,1464.4 L1057.0,1464.4 L1057.5,1464.4 L1058.0,1464.4 L1058.5,1464.4 L1059.0,1464.4 L1059.5,1464.4 L1060.0,1464.4 L1060.5,1464.4 L1061.0,1464.4 L1061.5,1464.4 L1062.0,1464.4 L1062.5,1464.4 L1063.0,1464.4 L1063.5,1464.4 L1064.0,1464.4 L1064.5,1464.4 L1065.0,1464.4 L1065.5,1464.4 L1066.0,1464.4 L1066.5,1464.4 L1067.0,1464.4 L1067.5,1464.4 L1068.0,1464.4 L1068.5,1464.4 L1069.0,1464.4 L1069.5,1464.4 L1070.0,1464.4 L1070.5,1464.4 L1071.0,1464.4 L1071.5,1464.4 L1072.0,1464.4 L1072.5,1464.4 L1073.0,1464.4 L1073.5,1464.4 L1074.0,1464.4 L1074.5,1464.4 L1075.0,1464.4 L1075.5,1464.4 L1076.0,1464.4 L1076.5,1464.4 L1077.0,1464.4 L1077.5,1464.4 L1078.0,1464.4 L1078.5,1464.4 L1079.0,1464.4 L1079.5,1464.4 L1080.0,1464.4 L1080.5,1464.4 L1081.0,1464.4 L1081.5,1464.4 L1082.0,1464.4 L1082.5,1464.4 L1083.0,1464.4 L1083.5,1464.4 L1084.0,1464.4 L1084.5,1464.4 L1085.0,1464.4 L1085.5,1464.4 L1086.0,1464.4 L1086.5,1464.4 L1087.0,1464.4 L1087.5,1464.4 L1088.0,1464.4 L1088.5,1464.4 L1089.0,1464.4 L1089.5,1464.4 L1090.0,1464.4 L1090.5,1464.4 L1091.0,1464.4 L1091.5,1464.4 L1092.0,1464.4 L1092.5,1464.4 L1093.0,1464.4 L1093.5,1464.4 L1094.0,1464.4 L1094.5,1464.4 L1095.0,1464.4 L1095.5,1464.4 L1096.0,1464.4 L1096.5,1464.4 L1097.0,1464.3 L1097.5,1464.3 L1098.0,1464.3 L1098.5,1464.3 L1099.0,1464.3 L1099.5,1464.3 L1100.0,1464.3 L1100.5,1464.3 L1101.0,1464.3 L1101.5,1464.3 L1102.0,1464.3 L1102.5,1464.3 L1103.0,1464.3 L1103.5,1464.3 L1104.0,1464.3 L1104.5,1464.3 L1105.0,1464.3 L1105.5,1464.3 L1106.0,1464.3 L1106.5,1464.2 L1107.0,1464.2 L1107.5,1464.2 L1108.0,1464.2 L1108.5,1464.2 L1109.0,1464.2 L1109.5,1464.2 L1110.0,1464.2 L1110.5,1464.2 L1111.0,1464.1 L1111.5,1464.1 L1112.0,1464.1 L1112.5,1464.1 L1113.0,1464.1 L1113.5,1464.1 L1114.0,1464.1 L1114.5,1464.0 L1115.0,1464.0 L1115.5,1464.0 L1116.0,1464.0 L1116.5,1464.0 L1117.0,1463.9 L1117.5,1463.9 L1118.0,1463.9 L1118.5,1463.9 L1119.0,1463.9 L1119.5,1463.8 L1120.0,1463.8 L1120.5,1463.8 L1121.0,1463.7 L1121.5,1463.7 L1122.0,1463.7 L1122.5,1463.7 L1123.0,1463.6 L1123.5,1463.6 L1124.0,1463.6 L1124.5,1463.5 L1125.0,1463.5 L1125.5,1463.5 L1126.0,1463.4 L1126.5,1463.4 L1127.0,1463.3 L1127.5,1463.3 L1128.0,1463.3 L1128.5,1463.2 L1129.0,1463.2 L1129.5,1463.1 L1130.0,1463.1 L1130.5,1463.0 L1131.0,1463.0 L1131.5,1463.0 L1132.0,1462.9 L1132.5,1462.9 L1133.0,1462.8 L1133.5,1462.8 L1134.0,1462.7 L1134.5,1462.6 L1135.0,1462.6 L1135.5,1462.5 L1136.0,1462.5 L1136.5,1462.4 L1137.0,1462.4 L1137.5,1462.3 L1138.0,1462.3 L1138.5,1462.2 L1139.0,1462.1 L1139.5,1462.1 L1140.0,1462.0 L1140.5,1461.9 L1141.0,1461.9 L1141.5,1461.8 L1142.0,1461.8 L1142.5,1461.7 L1143.0,1461.6 L1143.5,1461.6 L1144.0,1461.5 L1144.5,1461.4 L1145.0,1461.4 L1145.5,1461.3 L1146.0,1461.3 L1146.5,1461.2 L1147.0,1461.1 L1147.5,1461.1 L1148.0,1461.0 L1148.5,1460.9 L1149.0,1460.9 L1149.5,1460.8 L1150.0,1460.8 L1150.5,1460.7 L1151.0,1460.6 L1151.5,1460.6 L1152.0,1460.5 L1152.5,1460.5 L1153.0,1460.4 L1153.5,1460.4 L1154.0,1460.3 L1154.5,1460.2 L1155.0,1460.2 L1155.5,1460.1 L1156.0,1460.1 L1156.5,1460.0 L1157.0,1460.0 L1157.5,1460.0 L1158.0,1459.9 L1158.5,1459.9 L1159.0,1459.8 L1159.5,1459.8 L1160.0,1459.8 L1160.5,1459.7 L1161.0,1459.7 L1161.5,1459.7 L1162.0,1459.6 L1162.5,1459.6 L1163.0,1459.6 L1163.5,1459.6 L1164.0,1459.5 L1164.5,1459.5 L1165.0,1459.5 L1165.5,1459.5 L1166.0,1459.5 L1166.5,1459.5 L1167.0,1459.5 L1167.5,1459.4 L1168.0,1459.4 L1168.5,1459.4 L1169.0,1459.4 L1169.5,1459.4 L1170.0,1459.5 L1170.5,1459.5 L1171.0,1459.5 L1171.5,1459.5 L1172.0,1459.5 L1172.5,1459.5 L1173.0,1459.5 L1173.5,1459.6 L1174.0,1459.6 L1174.5,1459.6 L1175.0,1459.6 L1175.5,1459.7 L1176.0,1459.7 L1176.5,1459.7 L1177.0,1459.8 L1177.5,1459.8 L1178.0,1459.8 L1178.5,1459.9 L1179.0,1459.9 L1179.5,1459.9 L1180.0,1460.0 L1180.5,1460.0 L1181.0,1460.1 L1181.5,1460.1 L1182.0,1460.2 L1182.5,1460.2 L1183.0,1460.3 L1183.5,1460.3 L1184.0,1460.4 L1184.5,1460.4 L1185.0,1460.5 L1185.5,1460.6 L1186.0,1460.6 L1186.5,1460.7 L1187.0,1460.7 L1187.5,1460.8 L1188.0,1460.9 L1188.5,1460.9 L1189.0,1461.0 L1189.5,1461.0 L1190.0,1461.1 L1190.5,1461.2 L1191.0,1461.2 L1191.5,1461.3 L1192.0,1461.3 L1192.5,1461.4 L1193.0,1461.5 L1193.5,1461.5 L1194.0,1461.6 L1194.5,1461.6 L1195.0,1461.7 L1195.5,1461.8 L1196.0,1461.8 L1196.5,1461.9 L1197.0,1461.9 L1197.5,1462.0 L1198.0,1462.1 L1198.5,1462.1 L1199.0,1462.2 L1199.5,1462.2 L1200.0,1462.3 L1200.5,1462.3 L1201.0,1462.4 L1201.5,1462.4 L1202.0,1462.5 L1202.5,1462.5 L1203.0,1462.6 L1203.5,1462.6 L1204.0,1462.7 L1204.5,1462.7 L1205.0,1462.7 L1205.5,1462.8 L1206.0,1462.8 L1206.5,1462.9 L1207.0,1462.9 L1207.5,1462.9 L1208.0,1463.0 L1208.5,1463.0 L1209.0,1463.0 L1209.5,1463.1 L1210.0,1463.1 L1210.5,1463.1 L1211.0,1463.2 L1211.5,1463.2 L1212.0,1463.2 L1212.5,1463.2 L1213.0,1463.3 L1213.5,1463.3 L1214.0,1463.3 L1214.5,1463.3 L1215.0,1463.3 L1215.5,1463.4 L1216.0,1463.4 L1216.5,1463.4 L1217.0,1463.4 L1217.5,1463.4 L1218.0,1463.4 L1218.5,1463.4 L1219.0,1463.4 L1219.5,1463.5 L1220.0,1463.5 L1220.5,1463.5 L1221.0,1463.5 L1221.5,1463.5 L1222.0,1463.5 L1222.5,1463.5 L1223.0,1463.5 L1223.5,1463.5 L1224.0,1463.5 L1224.5,1463.5 L1225.0,1463.5 L1225.5,1463.5 L1226.0,1463.5 L1226.5,1463.5 L1227.0,1463.5 L1227.5,1463.5 L1228.0,1463.5 L1228.5,1463.5 L1229.0,1463.5 L1229.5,1463.5 L1230.0,1463.4 L1230.5,1463.4 L1231.0,1463.4 L1231.5,1463.4 L1232.0,1463.4 L1232.5,1463.4 L1233.0,1463.4 L1233.5,1463.4 L1234.0,1463.4 L1234.5,1463.4 L1235.0,1463.4 L1235.5,1463.4 L1236.0,1463.4 L1236.5,1463.4 L1237.0,1463.3 L1237.5,1463.3 L1238.0,1463.3 L1238.5,1463.3 L1239.0,1463.3 L1239.5,1463.3 L1240.0,1463.3 L1240.5,1463.3 L1241.0,1463.3 L1241.5,1463.3 L1242.0,1463.3 L1242.5,1463.3 L1243.0,1463.3 L1243.5,1463.3 L1244.0,1463.3 L1244.5,1463.3 L1245.0,1463.3 L1245.5,1463.3 L1246.0,1463.3 L1246.5,1463.3 L1247.0,1463.3 L1247.5,1463.3 L1248.0,1463.3 L1248.5,1463.3 L1249.0,1463.3 L1249.5,1463.3 L1250.0,1463.3 L1250.5,1463.3 L1251.0,1463.3 L1251.5,1463.3 L1252.0,1463.3 L1252.5,1463.3 L1253.0,1463.3 L1253.5,1463.3 L1254.0,1463.3 L1254.5,1463.3 L1255.0,1463.3 L1255.5,1463.3 L1256.0,1463.3 L1256.5,1463.3 L1257.0,1463.3 L1257.5,1463.4 L1258.0,1463.4 L1258.5,1463.4 L1259.0,1463.4 L1259.5,1463.4 L1260.0,1463.4 L1260.5,1463.4 L1261.0,1463.4 L1261.5,1463.4 L1262.0,1463.5 L1262.5,1463.5 L1263.0,1463.5 L1263.5,1463.5 L1264.0,1463.5 L1264.5,1463.5 L1265.0,1463.5 L1265.5,1463.6 L1266.0,1463.6 L1266.5,1463.6 L1267.0,1463.6 L1267.5,1463.6 L1268.0,1463.6 L1268.5,1463.6 L1269.0,1463.7 L1269.5,1463.7 L1270.0,1463.7 L1270.5,1463.7 L1271.0,1463.7 L1271.5,1463.7 L1272.0,1463.8 L1272.5,1463.8 L1273.0,1463.8 L1273.5,1463.8 L1274.0,1463.8 L1274.5,1463.8 L1275.0,1463.8 L1275.5,1463.9 L1276.0,1463.9 L1276.5,1463.9 L1277.0,1463.9 L1277.5,1463.9 L1278.0,1463.9 L1278.5,1463.9 L1279.0,1464.0 L1279.5,1464.0 L1280.0,1464.0 L1280.5,1464.0 L1281.0,1464.0 L1281.5,1464.0 L1282.0,1464.0 L1282.5,1464.1 L1283.0,1464.1 L1283.5,1464.1 L1284.0,1464.1 L1284.5,1464.1 L1285.0,1464.1 L1285.5,1464.1 L1286.0,1464.1 L1286.5,1464.1 L1287.0,1464.2 L1287.5,1464.2 L1288.0,1464.2 L1288.5,1464.2 L1289.0,1464.2 L1289.5,1464.2 L1290.0,1464.2 L1290.5,1464.2 L1291.0,1464.2 L1291.5,1464.2 L1292.0,1464.2 L1292.5,1464.2 L1293.0,1464.3 L1293.5,1464.3 L1294.0,1464.3 L1294.5,1464.3 L1295.0,1464.3 L1295.5,1464.3 L1296.0,1464.3 L1296.5,1464.3 L1297.0,1464.3 L1297.5,1464.3 L1298.0,1464.3 L1298.5,1464.3 L1299.0,1464.3 L1299.5,1464.3 L1300.0,1464.3 L1300.5,1464.3 L1301.0,1464.3 L1301.5,1464.3 L1302.0,1464.3 L1302.5,1464.3 L1303.0,1464.3 L1303.5,1464.3 L1304.0,1464.3 L1304.5,1464.4 L1305.0,1464.4 L1305.5,1464.4 L1306.0,1464.4 L1306.5,1464.4 L1307.0,1464.4 L1307.5,1464.4 L1308.0,1464.4 L1308.5,1464.4 L1309.0,1464.4 L1309.5,1464.4 L1310.0,1464.4 L1310.5,1464.4 L1311.0,1464.4 L1311.5,1464.4 L1312.0,1464.4 L1312.5,1464.4 L1313.0,1464.4 L1313.5,1464.4 L1314.0,1464.4 L1314.5,1464.4 L1315.0,1464.4 L1315.5,1464.4 L1316.0,1464.4 L1316.5,1464.4 L1317.0,1464.4 L1317.5,1464.4 L1318.0,1464.4 L1318.5,1464.4 L1319.0,1464.4 L1319.5,1464.4 L1320.0,1464.4 L1320.5,1464.4 L1321.0,1464.4 L1321.5,1464.4 L1322.0,1464.4 L1322.5,1464.4 L1323.0,1464.4 L1323.5,1464.4 L1324.0,1464.4 L1324.5,1464.4 L1325.0,1464.4 L1325.5,1464.4 L1326.0,1464.4 L1326.5,1464.4 L1327.0,1464.4 L1327.5,1464.4 L1328.0,1464.4 L1328.5,1464.4 L1329.0,1464.4 L1329.5,1464.4 L1330.0,1464.4 L1330.5,1464.3 L1331.0,1464.3 L1331.5,1464.3 L1332.0,1464.3 L1332.5,1464.3 L1333.0,1464.3 L1333.5,1464.3 L1334.0,1464.3 L1334.5,1464.3 L1335.0,1464.3 L1335.5,1464.3 L1336.0,1464.3 L1336.5,1464.3 L1337.0,1464.3 L1337.5,1464.3 L1338.0,1464.3 L1338.5,1464.3 L1339.0,1464.3 L1339.5,1464.3 L1340.0,1464.3 L1340.5,1464.3 L1341.0,1464.3 L1341.5,1464.3 L1342.0,1464.3 L1342.5,1464.3 L1343.0,1464.2 L1343.5,1464.2 L1344.0,1464.2 L1344.5,1464.2 L1345.0,1464.2 L1345.5,1464.2 L1346.0,1464.2 L1346.5,1464.2 L1347.0,1464.2 L1347.5,1464.2 L1348.0,1464.2 L1348.5,1464.2 L1349.0,1464.2 L1349.5,1464.2 L1350.0,1464.1 L1350.5,1464.1 L1351.0,1464.1 L1351.5,1464.1 L1352.0,1464.1 L1352.5,1464.1 L1353.0,1464.1 L1353.5,1464.1 L1354.0,1464.1 L1354.5,1464.1 L1355.0,1464.0 L1355.5,1464.0 L1356.0,1464.0 L1356.5,1464.0 L1357.0,1464.0 L1357.5,1464.0 L1358.0,1464.0 L1358.5,1464.0 L1359.0,1464.0 L1359.5,1463.9 L1360.0,1463.9 L1360.5,1463.9 L1361.0,1463.9 L1361.5,1463.9 L1362.0,1463.9 L1362.5,1463.9 L1363.0,1463.9 L1363.5,1463.8 L1364.0,1463.8 L1364.5,1463.8 L1365.0,1463.8 L1365.5,1463.8 L1366.0,1463.8 L1366.5,1463.8 L1367.0,1463.8 L1367.5,1463.7 L1368.0,1463.7 L1368.5,1463.7 L1369.0,1463.7 L1369.5,1463.7 L1370.0,1463.7 L1370.5,1463.7 L1371.0,1463.6 L1371.5,1463.6 L1372.0,1463.6 L1372.5,1463.6 L1373.0,1463.6 L1373.5,1463.6 L1374.0,1463.6 L1374.5,1463.6 L1375.0,1463.5 L1375.5,1463.5 L1376.0,1463.5 L1376.5,1463.5 L1377.0,1463.5 L1377.5,1463.5 L1378.0,1463.5 L1378.5,1463.5 L1379.0,1463.4 L1379.5,1463.4 L1380.0,1463.4 L1380.5,1463.4 L1381.0,1463.4 L1381.5,1463.4 L1382.0,1463.4 L1382.5,1463.4 L1383.0,1463.4 L1383.5,1463.4 L1384.0,1463.4 L1384.5,1463.3 L1385.0,1463.3 L1385.5,1463.3 L1386.0,1463.3 L1386.5,1463.3 L1387.0,1463.3 L1387.5,1463.3 L1388.0,1463.3 L1388.5,1463.3 L1389.0,1463.3 L1389.5,1463.3 L1390.0,1463.3 L1390.5,1463.3 L1391.0,1463.3 L1391.5,1463.3 L1392.0,1463.3 L1392.5,1463.3 L1393.0,1463.3 L1393.5,1463.3 L1394.0,1463.3 L1394.5,1463.3 L1395.0,1463.3 L1395.5,1463.3 L1396.0,1463.3 L1396.5,1463.3 L1397.0,1463.3 L1397.5,1463.3 L1398.0,1463.3 L1398.5,1463.3 L1399.0,1463.3 L1399.5,1463.3 L1400.0,1463.3 L1400.5,1463.3 L1401.0,1463.3 L1401.5,1463.3 L1402.0,1463.3 L1402.5,1463.3 L1403.0,1463.4 L1403.5,1463.4 L1404.0,1463.4 L1404.5,1463.4 L1405.0,1463.4 L1405.5,1463.4 L1406.0,1463.4 L1406.5,1463.4 L1407.0,1463.4 L1407.5,1463.4 L1408.0,1463.4 L1408.5,1463.5 L1409.0,1463.5 L1409.5,1463.5 L1410.0,1463.5 L1410.5,1463.5 L1411.0,1463.5 L1411.5,1463.5 L1412.0,1463.5 L1412.5,1463.6 L1413.0,1463.6 L1413.5,1463.6 L1414.0,1463.6 L1414.5,1463.6 L1415.0,1463.6 L1415.5,1463.6 L1416.0,1463.6 L1416.5,1463.7 L1417.0,1463.7 L1417.5,1463.7 L1418.0,1463.7 L1418.5,1463.7 L1419.0,1463.7 L1419.5,1463.7 L1420.0,1463.8 L1420.5,1463.8 L1421.0,1463.8 L1421.5,1463.8 L1422.0,1463.8 L1422.5,1463.8 L1423.0,1463.8 L1423.5,1463.8 L1424.0,1463.9 L1424.5,1463.9 L1425.0,1463.9 L1425.5,1463.9 L1426.0,1463.9 L1426.5,1463.9 L1427.0,1463.9 L1427.5,1463.9 L1428.0,1464.0 L1428.5,1464.0 L1429.0,1464.0 L1429.5,1464.0 L1430.0,1464.0 L1430.5,1464.0 L1431.0,1464.0 L1431.5,1464.0 L1432.0,1464.1 L1432.5,1464.1 L1433.0,1464.1 L1433.5,1464.1 L1434.0,1464.1 L1434.5,1464.1 L1435.0,1464.1 L1435.5,1464.1 L1436.0,1464.1 L1436.5,1464.1 L1437.0,1464.1 L1437.5,1464.2 L1438.0,1464.2 L1438.5,1464.2 L1439.0,1464.2 L1439.5,1464.2 L1440.0,1464.2 L1440.5,1464.2 L1441.0,1464.2 L1441.5,1464.2 L1442.0,1464.2 L1442.5,1464.2 L1443.0,1464.2 L1443.5,1464.2 L1444.0,1464.3 L1444.5,1464.3 L1445.0,1464.3 L1445.5,1464.3 L1446.0,1464.3 L1446.5,1464.3 L1447.0,1464.3 L1447.5,1464.3 L1448.0,1464.3 L1448.5,1464.3 L1449.0,1464.3 L1449.5,1464.3 L1450.0,1464.3 L1450.5,1464.3 L1451.0,1464.3 L1451.5,1464.3 L1452.0,1464.3 L1452.5,1464.3 L1453.0,1464.3 L1453.5,1464.3 L1454.0,1464.3 L1454.5,1464.3 L1455.0,1464.3 L1455.5,1464.3 L1456.0,1464.3 L1456.5,1464.4 L1457.0,1464.4 L1457.5,1464.4 L1458.0,1464.4 L1458.5,1464.4 L1459.0,1464.4 L1459.5,1464.4 L1460.0,1464.4 L1460.5,1464.4 L1461.0,1464.4 L1461.5,1464.4 L1462.0,1464.4 L1462.5,1464.4 L1463.0,1464.4 L1463.5,1464.4 L1464.0,1464.4 L1464.5,1464.4 L1465.0,1464.4 L1465.5,1464.4 L1466.0,1464.4 L1466.5,1464.4 L1467.0,1464.4 L1467.5,1464.4 L1468.0,1464.4 L1468.5,1464.4 L1469.0,1464.4 L1469.5,1464.4 L1470.0,1464.4 L1470.5,1464.4 L1471.0,1464.4 L1471.5,1464.4 L1472.0,1464.4 L1472.5,1464.4 L1473.0,1464.4 L1473.5,1464.4 L1474.0,1464.4 L1474.5,1464.4 L1475.0,1464.4 L1475.5,1464.4 L1476.0,1464.4 L1476.5,1464.4 L1477.0,1464.4 L1477.5,1464.4 L1478.0,1464.4 L1478.5,1464.4 L1479.0,1464.4 L1479.5,1464.4 L1480.0,1464.4 L1480.5,1464.4 L1481.0,1464.4 L1481.5,1464.4 L1482.0,1464.4 L1482.5,1464.4 L1483.0,1464.4 L1483.5,1464.4 L1484.0,1464.4 L1484.5,1464.4 L1485.0,1464.4 L1485.5,1464.4 L1486.0,1464.4 L1486.5,1464.4 L1487.0,1464.4 L1487.5,1464.4 L1488.0,1464.4 L1488.5,1464.4 L1489.0,1464.4 L1489.5,1464.4 L1490.0,1464.4 L1490.5,1464.4 L1491.0,1464.4 L1491.5,1464.4 L1492.0,1464.4 L1492.5,1464.4 L1493.0,1464.4 L1493.5,1464.4 L1494.0,1464.4 L1494.5,1464.4 L1495.0,1464.4 L1495.5,1464.4 L1496.0,1464.4 L1496.5,1464.4 L1497.0,1464.4 L1497.5,1464.4 L1498.0,1464.4 L1498.5,1464.4 L1499.0,1464.4 L1499.5,1464.4 L1500.0,1464.4 L1500.5,1464.4 L1501.0,1464.4 L1501.5,1464.4 L1502.0,1464.4 L1502.5,1464.4 L1503.0,1464.4 L1503.5,1464.4 L1504.0,1464.4 L1504.5,1464.4 L1505.0,1464.4 L1505.5,1464.4 L1506.0,1464.4 L1506.5,1464.4 L1507.0,1464.4 L1507.5,1464.4 L1508.0,1464.4 L1508.5,1464.4 L1509.0,1464.4 L1509.5,1464.4 L1510.0,1464.4 L1510.5,1464.4 L1511.0,1464.4 L1511.5,1464.4 L1512.0,1464.4 L1512.5,1464.4 L1513.0,1464.4 L1513.5,1464.4 L1514.0,1464.4 L1514.5,1464.4 L1515.0,1464.4 L1515.5,1464.4 L1516.0,1464.4 L1516.5,1464.4 L1517.0,1464.4 L1517.5,1464.4 L1518.0,1464.4 L1518.5,1464.4 L1519.0,1464.4 L1519.5,1464.4 L1520.0,1464.4 L1520.5,1464.4 L1521.0,1464.4 L1521.5,1464.4 L1522.0,1464.4 L1522.5,1464.4 L1523.0,1464.4 L1523.5,1464.4 L1524.0,1464.4 L1524.5,1464.4 L1525.0,1464.4 L1525.5,1464.4 L1526.0,1464.4 L1526.5,1464.4 L1527.0,1464.4 L1527.5,1464.4 L1528.0,1464.4 L1528.5,1464.4 L1529.0,1464.4 L1529.5,1464.4 L1530.0,1464.4 L1530.5,1464.4 L1531.0,1464.4 L1531.5,1464.4 L1532.0,1464.4 L1532.5,1464.4 L1533.0,1464.4 L1533.5,1464.4 L1534.0,1464.4 L1534.5,1464.4 L1535.0,1464.4 L1535.5,1464.4 L1536.0,1464.4 L1536.5,1464.4 L1537.0,1464.4 L1537.5,1464.4 L1538.0,1464.4 L1538.5,1464.4 L1539.0,1464.4 L1539.5,1464.4 L1540.0,1464.4 L1540.5,1464.4 L1541.0,1464.4 L1541.5,1464.4 L1542.0,1464.4 L1542.5,1464.4 L1543.0,1464.4 L1543.5,1464.4 L1544.0,1464.4 L1544.5,1464.4 L1545.0,1464.4 L1545.5,1464.4 L1546.0,1464.4 L1546.5,1464.4 L1547.0,1464.4 L1547.5,1464.4 L1548.0,1464.4 L1548.5,1464.4 L1549.0,1464.4 L1549.5,1464.4 L1550.0,1464.4 L1550.5,1464.4 L1551.0,1464.4 L1551.5,1464.4 L1552.0,1464.4 L1552.5,1464.4 L1553.0,1464.4 L1553.5,1464.4 L1554.0,1464.4 L1554.5,1464.4 L1555.0,1464.4 L1555.5,1464.4 L1556.0,1464.4 L1556.5,1464.4 L1557.0,1464.4 L1557.5,1464.4 L1558.0,1464.4 L1558.5,1464.4 L1559.0,1464.4 L1559.5,1464.4 L1560.0,1464.4 L1560.5,1464.4 L1561.0,1464.4 L1561.5,1464.4 L1562.0,1464.4 L1562.5,1464.4 L1563.0,1464.4 L1563.5,1464.4 L1564.0,1464.4 L1564.5,1464.4 L1565.0,1464.4 L1565.5,1464.4 L1566.0,1464.4 L1566.5,1464.4 L1567.0,1464.4 L1567.5,1464.4 L1568.0,1464.4 L1568.5,1464.4 L1569.0,1464.4 L1569.5,1464.4 L1570.0,1464.4 L1570.5,1464.4 L1571.0,1464.4 L1571.5,1464.4 L1572.0,1464.4 L1572.5,1464.4 L1573.0,1464.4 L1573.5,1464.4 L1574.0,1464.4 L1574.5,1464.4 L1575.0,1464.4 L1575.5,1464.4 L1576.0,1464.4 L1576.5,1464.4 L1577.0,1464.4 L1577.5,1464.4 L1578.0,1464.4 L1578.5,1464.4 L1579.0,1464.4 L1579.5,1464.4 L1580.0,1464.4 L1580.5,1464.4 L1581.0,1464.4 L1581.5,1464.4 L1582.0,1464.4 L1582.5,1464.4 L1583.0,1464.4 L1583.5,1464.4 L1584.0,1464.4 L1584.5,1464.4 L1585.0,1464.4 L1585.5,1464.4 L1586.0,1464.4 L1586.5,1464.4 L1587.0,1464.4 L1587.5,1464.4 L1588.0,1464.4 L1588.5,1464.4 L1589.0,1464.4 L1589.5,1464.4 L1590.0,1464.4 L1590.5,1464.4 L1591.0,1464.4 L1591.5,1464.4 L1592.0,1464.4 L1592.5,1464.4 L1593.0,1464.4 L1593.5,1464.4 L1594.0,1464.4 L1594.5,1464.4 L1595.0,1464.4 L1595.5,1464.4 L1596.0,1464.4 L1596.5,1464.4 L1597.0,1464.4 L1597.5,1464.4 L1598.0,1464.4 L1598.5,1464.4 L1599.0,1464.4 L1599.5,1464.4 L1600.0,1464.4 L1600.5,1464.4 L1601.0,1464.4 L1601.5,1464.4 L1602.0,1464.4 L1602.5,1464.4 L1603.0,1464.4 L1603.5,1464.4 L1604.0,1464.4 L1604.5,1464.4 L1605.0,1464.4 L1605.5,1464.4 L1606.0,1464.4 L1606.5,1464.4 L1607.0,1464.4 L1607.5,1464.4 L1608.0,1464.4 L1608.5,1464.4 L1609.0,1464.4 L1609.5,1464.4 L1610.0,1464.4 L1610.5,1464.4 L1611.0,1464.4 L1611.5,1464.4 L1612.0,1464.4 L1612.5,1464.4 L1613.0,1464.4 L1613.5,1464.4 L1614.0,1464.4 L1614.5,1464.4 L1615.0,1464.4 L1615.5,1464.4 L1616.0,1464.4 L1616.5,1464.4 L1617.0,1464.4 L1617.5,1464.4 L1618.0,1464.4 L1618.5,1464.4 L1619.0,1464.4 L1619.5,1464.4 L1620.0,1464.4 L1620.5,1464.4 L1621.0,1464.4 L1621.5,1464.4 L1622.0,1464.4 L1622.5,1464.4 L1623.0,1464.4 L1623.5,1464.4 L1624.0,1464.4 L1624.5,1464.4 L1625.0,1464.4 L1625.5,1464.4 L1626.0,1464.4 L1626.5,1464.4 L1627.0,1464.4 L1627.5,1464.4 L1628.0,1464.4 L1628.5,1464.4 L1629.0,1464.4 L1629.5,1464.4 L1630.0,1464.4 L1630.5,1464.4 L1631.0,1464.4 L1631.5,1464.4 L1632.0,1464.4 L1632.5,1464.4 L1633.0,1464.4 L1633.5,1464.4 L1634.0,1464.4 L1634.5,1464.4 L1635.0,1464.4 L1635.5,1464.4 L1636.0,1464.4 L1636.5,1464.4 L1637.0,1464.4 L1637.5,1464.4 L1638.0,1464.4 L1638.5,1464.4 L1639.0,1464.4 L1639.5,1464.4 L1640.0,1464.4 L1640.5,1464.4 L1641.0,1464.4 L1641.5,1464.4 L1642.0,1464.4 L1642.5,1464.4 L1643.0,1464.4 L1643.5,1464.4 L1644.0,1464.4 L1644.5,1464.4 L1645.0,1464.4 L1645.5,1464.4 L1646.0,1464.4 L1646.5,1464.4 L1647.0,1464.4 L1647.5,1464.4 L1648.0,1464.4 L1648.5,1464.4 L1649.0,1464.4 L1649.5,1464.4 L1650.0,1464.4 L1650.5,1464.4 L1651.0,1464.4 L1651.5,1464.4 L1652.0,1464.4 L1652.5,1464.4 L1653.0,1464.4 L1653.5,1464.4 L1654.0,1464.4 L1654.5,1464.4 L1655.0,1464.4 L1655.5,1464.4 L1656.0,1464.4 L1656.5,1464.4 L1657.0,1464.4 L1657.5,1464.4 L1658.0,1464.4 L1658.5,1464.4 L1659.0,1464.4 L1659.5,1464.4 L1660.0,1464.4 L1660.5,1464.4 L1661.0,1464.4 L1661.5,1464.4 L1662.0,1464.4 L1662.5,1464.4 L1663.0,1464.4 L1663.5,1464.4 L1664.0,1464.4 L1664.5,1464.4 L1665.0,1464.4 L1665.5,1464.4 L1666.0,1464.4 L1666.5,1464.4 L1667.0,1464.4 L1667.5,1464.4 L1668.0,1464.4 L1668.5,1464.4 L1669.0,1464.4 L1669.5,1464.4 L1670.0,1464.4 L1670.5,1464.4 L1671.0,1464.4 L1671.5,1464.4 L1672.0,1464.4 L1672.5,1464.4 L1673.0,1464.4 L1673.5,1464.4 L1674.0,1464.4 L1674.5,1464.4 L1675.0,1464.4 L1675.5,1464.4 L1676.0,1464.4 L1676.5,1464.4 L1677.0,1464.4 L1677.5,1464.4 L1678.0,1464.4 L1678.5,1464.4 L1679.0,1464.4 L1679.5,1464.4 L1680.0,1464.4 L1680.5,1464.4 L1681.0,1464.4 L1681.5,1464.4 L1682.0,1464.4 L1682.5,1464.4 L1683.0,1464.4 L1683.5,1464.4 L1684.0,1464.4 L1684.5,1464.4 L1685.0,1464.4 L1685.5,1464.4 L1686.0,1464.4 L1686.5,1464.4 L1687.0,1464.4 L1687.5,1464.4 L1688.0,1464.4 L1688.5,1464.4 L1689.0,1464.4 L1689.5,1464.4 L1690.0,1464.4 L1690.5,1464.4 L1691.0,1464.4 L1691.5,1464.4 L1692.0,1464.4 L1692.5,1464.4 L1693.0,1464.4 L1693.5,1464.4 L1694.0,1464.4 L1694.5,1464.4 L1695.0,1464.4 L1695.5,1464.4 L1696.0,1464.4 L1696.5,1464.4 L1697.0,1464.4 L1697.5,1464.4 L1698.0,1464.4 L1698.5,1464.4 L1699.0,1464.4 L1699.5,1464.4 L1700.0,1464.4 L1700.5,1464.4 L1701.0,1464.4 L1701.5,1464.4 L1702.0,1464.4 L1702.5,1464.4 L1703.0,1464.4 L1703.5,1464.4 L1704.0,1464.4 L1704.5,1464.4 L1705.0,1464.4 L1705.5,1464.4 L1706.0,1464.4 L1706.5,1464.4 L1707.0,1464.4 L1707.5,1464.4 L1708.0,1464.4 L1708.5,1464.4 L1709.0,1464.4 L1709.5,1464.4 L1710.0,1464.4 L1710.5,1464.4 L1711.0,1464.4 L1711.5,1464.4 L1712.0,1464.4 L1712.5,1464.4 L1713.0,1464.4 L1713.5,1464.4 L1714.0,1464.4 L1714.5,1464.4 L1715.0,1464.4 L1715.5,1464.4 L1716.0,1464.4 L1716.5,1464.4 L1717.0,1464.4 L1717.5,1464.4 L1718.0,1464.4 L1718.5,1464.4 L1719.0,1464.4 L1719.5,1464.4 L1720.0,1464.4 L1720.5,1464.4 L1721.0,1464.4 L1721.5,1464.4 L1722.0,1464.4 L1722.5,1464.4 L1723.0,1464.4 L1723.5,1464.4 L1724.0,1464.4 L1724.5,1464.4 L1725.0,1464.4 L1725.5,1464.4 L1726.0,1464.4 L1726.5,1464.4 L1727.0,1464.4 L1727.5,1464.4 L1728.0,1464.4 L1728.5,1464.4 L1729.0,1464.4 L1729.5,1464.4 L1730.0,1464.4 L1730.5,1464.4 L1731.0,1464.4 L1731.5,1464.4 L1732.0,1464.4 L1732.5,1464.4 L1733.0,1464.4 L1733.5,1464.4 L1734.0,1464.4 L1734.5,1464.4 L1735.0,1464.4 L1735.5,1464.4 L1736.0,1464.4 L1736.5,1464.4 L1737.0,1464.4 L1737.5,1464.4 L1738.0,1464.4 L1738.5,1464.4 L1739.0,1464.4 L1739.5,1464.4 L1740.0,1464.4 L1740.5,1464.4 L1741.0,1464.4 L1741.5,1464.4 L1742.0,1464.4 L1742.5,1464.4 L1743.0,1464.4 L1743.5,1464.4 L1744.0,1464.4 L1744.5,1464.4 L1745.0,1464.4 L1745.5,1464.4 L1746.0,1464.4 L1746.5,1464.4 L1747.0,1464.4 L1747.5,1464.4 L1748.0,1464.4 L1748.5,1464.4 L1749.0,1464.4 L1749.5,1464.4 L1750.0,1464.4 L1750.5,1464.4 L1751.0,1464.4 L1751.5,1464.4 L1752.0,1464.4 L1752.5,1464.4 L1753.0,1464.4 L1753.5,1464.4 L1754.0,1464.4 L1754.5,1464.4 L1755.0,1464.4 L1755.5,1464.4 L1756.0,1464.4 L1756.5,1464.4 L1757.0,1464.4 L1757.5,1464.4 L1758.0,1464.4 L1758.5,1464.4 L1759.0,1464.4 L1759.5,1464.4 L1760.0,1464.4 L1760.5,1464.4 L1761.0,1464.4 L1761.5,1464.4 L1762.0,1464.4 L1762.5,1464.4 L1763.0,1464.4 L1763.5,1464.4 L1764.0,1464.4 L1764.5,1464.4 L1765.0,1464.4 L1765.5,1464.4 L1766.0,1464.4 L1766.5,1464.4 L1767.0,1464.4 L1767.5,1464.4 L1768.0,1464.4 L1768.5,1464.4 L1769.0,1464.4 L1769.5,1464.4 L1770.0,1464.4 L1770.5,1464.4 L1771.0,1464.4 L1771.5,1464.4 L1772.0,1464.4 L1772.5,1464.4 L1773.0,1464.4 L1773.5,1464.4 L1774.0,1464.4 L1774.5,1464.4 L1775.0,1464.4 L1775.5,1464.4 L1776.0,1464.4 L1776.5,1464.4 L1777.0,1464.4 L1777.5,1464.4 L1778.0,1464.4 L1778.5,1464.4 L1779.0,1464.4 L1779.5,1464.4 L1780.0,1464.4 L1780.5,1464.4 L1781.0,1464.4 L1781.5,1464.4 L1782.0,1464.4 L1782.5,1464.4 L1783.0,1464.4 L1783.5,1464.4 L1784.0,1464.4 L1784.5,1464.4 L1785.0,1464.4 L1785.5,1464.4 L1786.0,1464.4 L1786.5,1464.4 L1787.0,1464.4 L1787.5,1464.4 L1788.0,1464.4 L1788.5,1464.4 L1789.0,1464.4 L1789.5,1464.4 L1790.0,1464.4 L1790.5,1464.4 L1791.0,1464.4 L1791.5,1464.4 L1792.0,1464.4 L1792.5,1464.4 L1793.0,1464.4 L1793.5,1464.4 L1794.0,1464.4 L1794.5,1464.4 L1795.0,1464.4 L1795.5,1464.4 L1796.0,1464.4 L1796.5,1464.4 L1797.0,1464.4 L1797.5,1464.4 L1798.0,1464.4 L1798.5,1464.4 L1799.0,1464.4 L1799.5,1464.4 L1800.0,1464.4 L1800.5,1464.4 L1801.0,1464.4 L1801.5,1464.4 L1802.0,1464.4 L1802.5,1464.4 L1803.0,1464.4 L1803.5,1464.4 L1804.0,1464.4 L1804.5,1464.4 L1805.0,1464.4 L1805.5,1464.4 L1806.0,1464.4 L1806.5,1464.4 L1807.0,1464.4 L1807.5,1464.4 L1808.0,1464.4 L1808.5,1464.4 L1809.0,1464.4 L1809.5,1464.4 L1810.0,1464.4 L1810.5,1464.4 L1811.0,1464.4 L1811.5,1464.4 L1812.0,1464.4 L1812.5,1464.4 L1813.0,1464.4 L1813.5,1464.4 L1814.0,1464.4 L1814.5,1464.4 L1815.0,1464.4" fill="none" stroke="#ff0000" stroke-width="5" stroke-linejoin="round"/>
<g stroke="#000" stroke-width="7.5" stroke-linecap="butt">
<line x1="453.2" y1="1239.4" x2="515" y2="1239.4"/>
<line x1="598" y1="1239.4" x2="659.8" y2="1239.4"/>
</g>
<polygon points="511.4,1219.9 511.4,1258.9 549.6,1239.4" fill="#000"/>
<polygon points="602,1219.9 602,1258.9 563.4,1239.4" fill="#000"/>
<text transform="translate(712.5,1257.3)" font-size="70">500 fs</text>
<text transform="translate(1546.3,1199.3)" font-size="107" font-weight="bold">b</text>
</g>
</svg></body></html>
